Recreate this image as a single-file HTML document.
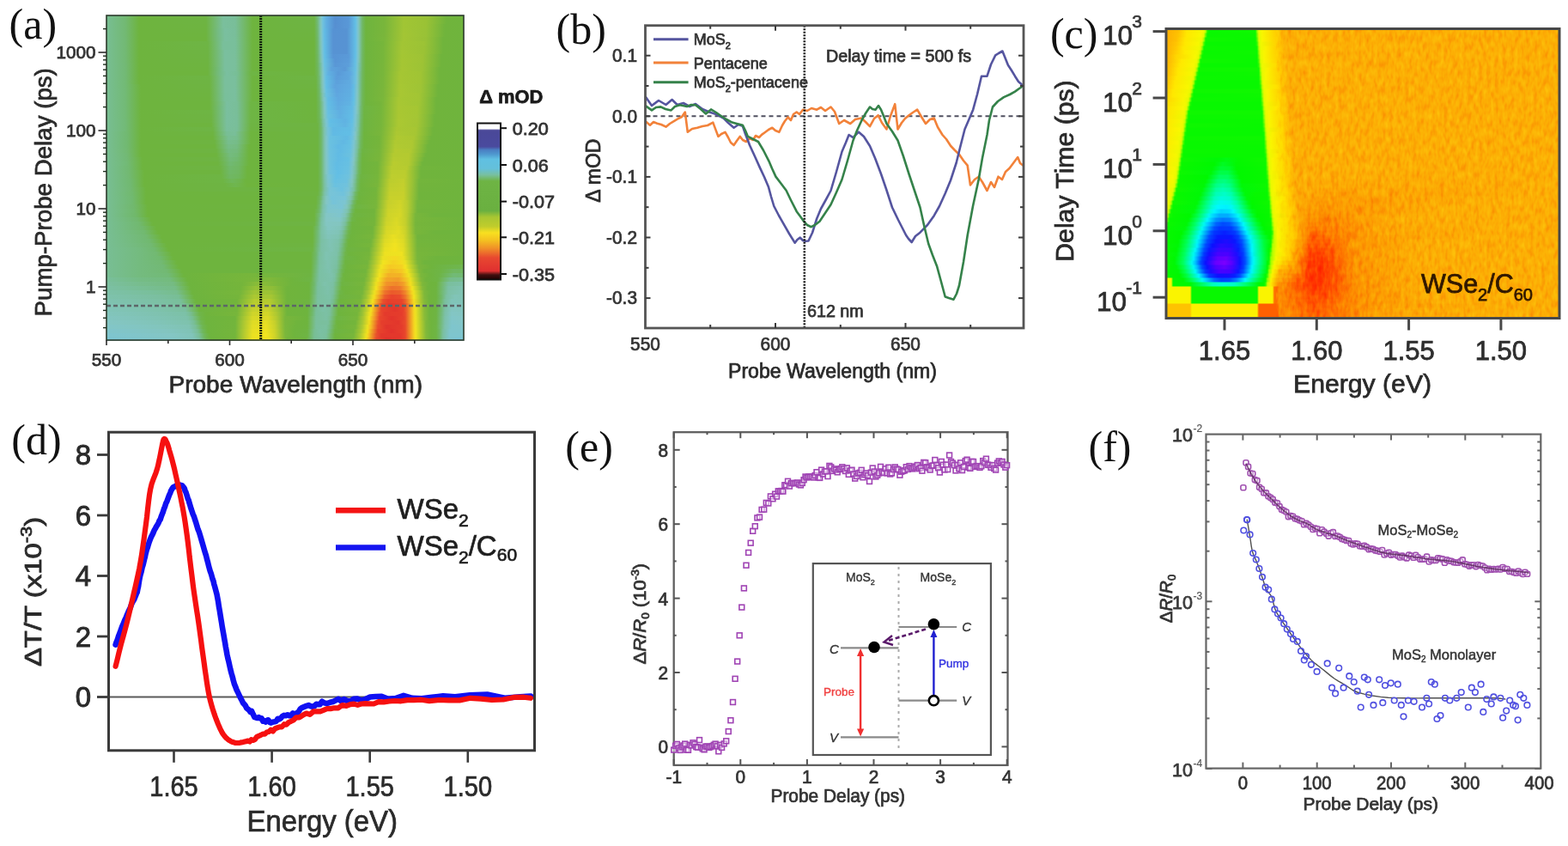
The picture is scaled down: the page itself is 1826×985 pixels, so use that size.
<!DOCTYPE html>
<html><head><meta charset="utf-8"><title>Figure</title>
<style>html,body{margin:0;padding:0;background:#fff;} svg{display:block;}</style></head>
<body><svg width="1826" height="985" viewBox="0 0 1826 985">
<rect x="0" y="0" width="1826" height="985" fill="#fff"/>
<defs><linearGradient id="ga0" x1="0" x2="1" y1="0" y2="0"><stop offset="0.0000" stop-color="#78be93"/><stop offset="0.0529" stop-color="#72b973"/><stop offset="0.0913" stop-color="#6eb43e"/><stop offset="0.2788" stop-color="#6eb443"/><stop offset="0.3269" stop-color="#7abf9e"/><stop offset="0.3606" stop-color="#79be99"/><stop offset="0.4087" stop-color="#6eb43e"/><stop offset="0.5817" stop-color="#6eb545"/><stop offset="0.5913" stop-color="#73ba7a"/><stop offset="0.6010" stop-color="#81c6c8"/><stop offset="0.6058" stop-color="#6dc2de"/><stop offset="0.6154" stop-color="#60aee1"/><stop offset="0.6394" stop-color="#558fd1"/><stop offset="0.6779" stop-color="#5998d7"/><stop offset="0.6971" stop-color="#62bfe5"/><stop offset="0.7019" stop-color="#78c4d7"/><stop offset="0.7067" stop-color="#81c4b9"/><stop offset="0.7163" stop-color="#70b865"/><stop offset="0.7260" stop-color="#6eb43e"/><stop offset="0.7788" stop-color="#78b63b"/><stop offset="0.8317" stop-color="#a0c434"/><stop offset="0.8990" stop-color="#97c136"/><stop offset="0.9519" stop-color="#70b43c"/><stop offset="1.0000" stop-color="#6fb43d"/></linearGradient>
<linearGradient id="ga1" x1="0" x2="1" y1="0" y2="0"><stop offset="0.0000" stop-color="#78be93"/><stop offset="0.0529" stop-color="#72b973"/><stop offset="0.0913" stop-color="#6eb43e"/><stop offset="0.2788" stop-color="#6eb442"/><stop offset="0.3269" stop-color="#7abf9d"/><stop offset="0.3606" stop-color="#79be99"/><stop offset="0.4087" stop-color="#6eb43e"/><stop offset="0.5817" stop-color="#6eb443"/><stop offset="0.5913" stop-color="#72ba77"/><stop offset="0.5962" stop-color="#7cc0a6"/><stop offset="0.6010" stop-color="#82c6c7"/><stop offset="0.6058" stop-color="#6fc2de"/><stop offset="0.6154" stop-color="#60afe1"/><stop offset="0.6394" stop-color="#558fd1"/><stop offset="0.6779" stop-color="#5998d7"/><stop offset="0.6971" stop-color="#62bfe5"/><stop offset="0.7019" stop-color="#78c4d8"/><stop offset="0.7067" stop-color="#81c4b9"/><stop offset="0.7163" stop-color="#70b865"/><stop offset="0.7260" stop-color="#6eb43e"/><stop offset="0.7788" stop-color="#79b63b"/><stop offset="0.8317" stop-color="#a1c534"/><stop offset="0.8942" stop-color="#9ac235"/><stop offset="0.9519" stop-color="#70b43c"/><stop offset="1.0000" stop-color="#6fb43d"/></linearGradient>
<linearGradient id="ga2" x1="0" x2="1" y1="0" y2="0"><stop offset="0.0000" stop-color="#78be93"/><stop offset="0.0529" stop-color="#72b973"/><stop offset="0.0913" stop-color="#6eb43e"/><stop offset="0.2788" stop-color="#6eb441"/><stop offset="0.3269" stop-color="#7abf9d"/><stop offset="0.3606" stop-color="#79be99"/><stop offset="0.4087" stop-color="#6eb43e"/><stop offset="0.5817" stop-color="#6eb442"/><stop offset="0.5913" stop-color="#72b974"/><stop offset="0.5962" stop-color="#7cc0a4"/><stop offset="0.6010" stop-color="#83c6c5"/><stop offset="0.6058" stop-color="#70c2dd"/><stop offset="0.6154" stop-color="#60afe1"/><stop offset="0.6394" stop-color="#568fd1"/><stop offset="0.6779" stop-color="#5998d7"/><stop offset="0.6971" stop-color="#62bfe5"/><stop offset="0.7019" stop-color="#78c4d8"/><stop offset="0.7067" stop-color="#81c4b9"/><stop offset="0.7163" stop-color="#70b865"/><stop offset="0.7260" stop-color="#6eb43e"/><stop offset="0.7788" stop-color="#79b63b"/><stop offset="0.8317" stop-color="#a1c534"/><stop offset="0.8942" stop-color="#9ac235"/><stop offset="0.9471" stop-color="#70b43c"/><stop offset="1.0000" stop-color="#6fb43d"/></linearGradient>
<linearGradient id="ga3" x1="0" x2="1" y1="0" y2="0"><stop offset="0.0000" stop-color="#78be93"/><stop offset="0.0529" stop-color="#72b973"/><stop offset="0.0913" stop-color="#6eb43e"/><stop offset="0.2788" stop-color="#6eb440"/><stop offset="0.3125" stop-color="#75bb84"/><stop offset="0.3317" stop-color="#7abfa0"/><stop offset="0.3606" stop-color="#79be9a"/><stop offset="0.4087" stop-color="#6eb43e"/><stop offset="0.5817" stop-color="#6eb441"/><stop offset="0.5913" stop-color="#71b971"/><stop offset="0.5962" stop-color="#7bc0a2"/><stop offset="0.6010" stop-color="#84c6c3"/><stop offset="0.6058" stop-color="#71c2dc"/><stop offset="0.6106" stop-color="#61bbe4"/><stop offset="0.6346" stop-color="#5692d3"/><stop offset="0.6731" stop-color="#5793d3"/><stop offset="0.6971" stop-color="#62bee5"/><stop offset="0.7019" stop-color="#78c4d8"/><stop offset="0.7067" stop-color="#81c4b9"/><stop offset="0.7163" stop-color="#70b865"/><stop offset="0.7260" stop-color="#6eb43e"/><stop offset="0.7788" stop-color="#79b63b"/><stop offset="0.8317" stop-color="#a2c534"/><stop offset="0.8942" stop-color="#99c236"/><stop offset="0.9471" stop-color="#70b43c"/><stop offset="1.0000" stop-color="#6fb43d"/></linearGradient>
<linearGradient id="ga4" x1="0" x2="1" y1="0" y2="0"><stop offset="0.0000" stop-color="#78be93"/><stop offset="0.0529" stop-color="#72b973"/><stop offset="0.0913" stop-color="#6eb43e"/><stop offset="0.2788" stop-color="#6eb43f"/><stop offset="0.3125" stop-color="#75bb83"/><stop offset="0.3317" stop-color="#7abf9f"/><stop offset="0.3606" stop-color="#79be9a"/><stop offset="0.4087" stop-color="#6eb43e"/><stop offset="0.5817" stop-color="#6eb440"/><stop offset="0.5913" stop-color="#71b96e"/><stop offset="0.5962" stop-color="#7bbfa0"/><stop offset="0.6010" stop-color="#83c6c2"/><stop offset="0.6058" stop-color="#72c3db"/><stop offset="0.6106" stop-color="#62bbe4"/><stop offset="0.6346" stop-color="#5792d3"/><stop offset="0.6731" stop-color="#5793d3"/><stop offset="0.6971" stop-color="#62bee5"/><stop offset="0.7019" stop-color="#78c4d8"/><stop offset="0.7067" stop-color="#81c4b9"/><stop offset="0.7163" stop-color="#70b865"/><stop offset="0.7260" stop-color="#6eb43e"/><stop offset="0.7788" stop-color="#7ab63b"/><stop offset="0.8317" stop-color="#a3c534"/><stop offset="0.8942" stop-color="#99c236"/><stop offset="0.9471" stop-color="#70b43c"/><stop offset="1.0000" stop-color="#6fb43d"/></linearGradient>
<linearGradient id="ga5" x1="0" x2="1" y1="0" y2="0"><stop offset="0.0000" stop-color="#78be93"/><stop offset="0.0529" stop-color="#72b974"/><stop offset="0.0913" stop-color="#6eb43e"/><stop offset="0.2788" stop-color="#6eb43e"/><stop offset="0.3125" stop-color="#75bb81"/><stop offset="0.3317" stop-color="#7abf9f"/><stop offset="0.3606" stop-color="#79bf9a"/><stop offset="0.4087" stop-color="#6eb43e"/><stop offset="0.5817" stop-color="#6eb43f"/><stop offset="0.5913" stop-color="#70b86b"/><stop offset="0.5962" stop-color="#7abf9f"/><stop offset="0.6010" stop-color="#83c5c0"/><stop offset="0.6058" stop-color="#73c3db"/><stop offset="0.6106" stop-color="#62bce4"/><stop offset="0.6346" stop-color="#5792d3"/><stop offset="0.6731" stop-color="#5793d3"/><stop offset="0.6971" stop-color="#62bee5"/><stop offset="0.7019" stop-color="#78c4d8"/><stop offset="0.7067" stop-color="#81c4b9"/><stop offset="0.7163" stop-color="#70b865"/><stop offset="0.7260" stop-color="#6eb43e"/><stop offset="0.7788" stop-color="#7ab73b"/><stop offset="0.8317" stop-color="#a3c534"/><stop offset="0.8942" stop-color="#98c136"/><stop offset="0.9423" stop-color="#70b43c"/><stop offset="1.0000" stop-color="#6fb43d"/></linearGradient>
<linearGradient id="ga6" x1="0" x2="1" y1="0" y2="0"><stop offset="0.0000" stop-color="#78be93"/><stop offset="0.0529" stop-color="#72b974"/><stop offset="0.0913" stop-color="#6eb43e"/><stop offset="0.2837" stop-color="#6eb545"/><stop offset="0.3269" stop-color="#79bf9b"/><stop offset="0.3606" stop-color="#79bf9b"/><stop offset="0.4087" stop-color="#6eb43e"/><stop offset="0.5817" stop-color="#6eb43e"/><stop offset="0.5913" stop-color="#70b869"/><stop offset="0.5962" stop-color="#7abf9c"/><stop offset="0.6010" stop-color="#82c5be"/><stop offset="0.6058" stop-color="#75c3da"/><stop offset="0.6106" stop-color="#62bde4"/><stop offset="0.6346" stop-color="#5792d3"/><stop offset="0.6731" stop-color="#5793d3"/><stop offset="0.6971" stop-color="#62bee5"/><stop offset="0.7019" stop-color="#78c4d8"/><stop offset="0.7067" stop-color="#81c4b9"/><stop offset="0.7163" stop-color="#70b865"/><stop offset="0.7260" stop-color="#6eb43e"/><stop offset="0.7740" stop-color="#76b63b"/><stop offset="0.8269" stop-color="#a2c534"/><stop offset="0.8894" stop-color="#9cc335"/><stop offset="0.9423" stop-color="#70b43c"/><stop offset="1.0000" stop-color="#6fb43d"/></linearGradient>
<linearGradient id="ga7" x1="0" x2="1" y1="0" y2="0"><stop offset="0.0000" stop-color="#78be93"/><stop offset="0.0529" stop-color="#72b974"/><stop offset="0.0913" stop-color="#6eb43e"/><stop offset="0.2837" stop-color="#6eb544"/><stop offset="0.3269" stop-color="#79bf9b"/><stop offset="0.3606" stop-color="#79bf9b"/><stop offset="0.4087" stop-color="#6eb43e"/><stop offset="0.5817" stop-color="#6eb43e"/><stop offset="0.5913" stop-color="#70b868"/><stop offset="0.5962" stop-color="#79be99"/><stop offset="0.6010" stop-color="#82c5bc"/><stop offset="0.6058" stop-color="#76c4d9"/><stop offset="0.6106" stop-color="#62bde5"/><stop offset="0.6346" stop-color="#5792d3"/><stop offset="0.6731" stop-color="#5793d3"/><stop offset="0.6971" stop-color="#62bee5"/><stop offset="0.7019" stop-color="#78c4d8"/><stop offset="0.7067" stop-color="#81c4b9"/><stop offset="0.7163" stop-color="#70b865"/><stop offset="0.7260" stop-color="#6eb43e"/><stop offset="0.7740" stop-color="#77b63b"/><stop offset="0.8269" stop-color="#a3c534"/><stop offset="0.8894" stop-color="#9bc235"/><stop offset="0.9423" stop-color="#70b43c"/><stop offset="1.0000" stop-color="#6fb43d"/></linearGradient>
<linearGradient id="ga8" x1="0" x2="1" y1="0" y2="0"><stop offset="0.0000" stop-color="#78be93"/><stop offset="0.0529" stop-color="#72b974"/><stop offset="0.0913" stop-color="#6eb43e"/><stop offset="0.2837" stop-color="#6eb443"/><stop offset="0.3317" stop-color="#7abf9f"/><stop offset="0.3606" stop-color="#79bf9b"/><stop offset="0.4087" stop-color="#6eb43e"/><stop offset="0.5817" stop-color="#6eb43e"/><stop offset="0.5913" stop-color="#70b866"/><stop offset="0.6010" stop-color="#81c4ba"/><stop offset="0.6058" stop-color="#77c4d8"/><stop offset="0.6106" stop-color="#62bee5"/><stop offset="0.6346" stop-color="#5793d3"/><stop offset="0.6731" stop-color="#5793d3"/><stop offset="0.6971" stop-color="#62bee5"/><stop offset="0.7019" stop-color="#78c4d8"/><stop offset="0.7067" stop-color="#81c4b9"/><stop offset="0.7163" stop-color="#70b865"/><stop offset="0.7260" stop-color="#6eb43e"/><stop offset="0.7740" stop-color="#77b63b"/><stop offset="0.8269" stop-color="#a4c634"/><stop offset="0.8894" stop-color="#9bc235"/><stop offset="0.9423" stop-color="#70b43c"/><stop offset="1.0000" stop-color="#6fb43d"/></linearGradient>
<linearGradient id="ga9" x1="0" x2="1" y1="0" y2="0"><stop offset="0.0000" stop-color="#78be93"/><stop offset="0.0529" stop-color="#72b974"/><stop offset="0.0913" stop-color="#6eb43e"/><stop offset="0.2837" stop-color="#6eb442"/><stop offset="0.3317" stop-color="#7abf9f"/><stop offset="0.3606" stop-color="#7abf9b"/><stop offset="0.4087" stop-color="#6eb43e"/><stop offset="0.5817" stop-color="#6eb43e"/><stop offset="0.5913" stop-color="#70b763"/><stop offset="0.6010" stop-color="#80c3b6"/><stop offset="0.6058" stop-color="#7ac4d5"/><stop offset="0.6106" stop-color="#63bfe4"/><stop offset="0.6346" stop-color="#5895d5"/><stop offset="0.6779" stop-color="#5a9ad8"/><stop offset="0.6971" stop-color="#62bfe5"/><stop offset="0.7019" stop-color="#79c4d6"/><stop offset="0.7067" stop-color="#81c4b8"/><stop offset="0.7163" stop-color="#70b764"/><stop offset="0.7260" stop-color="#6eb43e"/><stop offset="0.7740" stop-color="#77b63b"/><stop offset="0.8269" stop-color="#a4c633"/><stop offset="0.8846" stop-color="#9ec335"/><stop offset="0.9375" stop-color="#70b43c"/><stop offset="1.0000" stop-color="#6fb43d"/></linearGradient>
<linearGradient id="ga10" x1="0" x2="1" y1="0" y2="0"><stop offset="0.0000" stop-color="#78be93"/><stop offset="0.0529" stop-color="#72b974"/><stop offset="0.0913" stop-color="#6eb43e"/><stop offset="0.2837" stop-color="#6eb441"/><stop offset="0.3317" stop-color="#7abf9e"/><stop offset="0.3606" stop-color="#7abf9c"/><stop offset="0.4087" stop-color="#6eb43e"/><stop offset="0.5817" stop-color="#6eb43e"/><stop offset="0.5913" stop-color="#70b761"/><stop offset="0.6010" stop-color="#80c3b3"/><stop offset="0.6058" stop-color="#7cc5d2"/><stop offset="0.6106" stop-color="#66c0e3"/><stop offset="0.6394" stop-color="#5895d5"/><stop offset="0.6779" stop-color="#5b9cd9"/><stop offset="0.6971" stop-color="#64bfe4"/><stop offset="0.7019" stop-color="#7ac4d5"/><stop offset="0.7067" stop-color="#80c3b6"/><stop offset="0.7163" stop-color="#70b763"/><stop offset="0.7260" stop-color="#6eb43e"/><stop offset="0.7740" stop-color="#77b63b"/><stop offset="0.8269" stop-color="#a5c633"/><stop offset="0.8846" stop-color="#9ec335"/><stop offset="0.9375" stop-color="#70b43c"/><stop offset="1.0000" stop-color="#6fb43d"/></linearGradient>
<linearGradient id="ga11" x1="0" x2="1" y1="0" y2="0"><stop offset="0.0000" stop-color="#78be93"/><stop offset="0.0529" stop-color="#72b975"/><stop offset="0.0913" stop-color="#6eb43e"/><stop offset="0.2837" stop-color="#6eb440"/><stop offset="0.3317" stop-color="#7abf9e"/><stop offset="0.3606" stop-color="#7abf9c"/><stop offset="0.4087" stop-color="#6eb43e"/><stop offset="0.5817" stop-color="#6eb43e"/><stop offset="0.5913" stop-color="#6fb75f"/><stop offset="0.6058" stop-color="#7ec5cf"/><stop offset="0.6106" stop-color="#69c1e1"/><stop offset="0.6394" stop-color="#5997d6"/><stop offset="0.6779" stop-color="#5c9eda"/><stop offset="0.6971" stop-color="#66c0e3"/><stop offset="0.7019" stop-color="#7bc5d3"/><stop offset="0.7115" stop-color="#77bd8d"/><stop offset="0.7163" stop-color="#70b762"/><stop offset="0.7260" stop-color="#6eb43e"/><stop offset="0.7740" stop-color="#78b63b"/><stop offset="0.8269" stop-color="#a5c633"/><stop offset="0.8846" stop-color="#9dc335"/><stop offset="0.9375" stop-color="#70b43c"/><stop offset="1.0000" stop-color="#6fb43d"/></linearGradient>
<linearGradient id="ga12" x1="0" x2="1" y1="0" y2="0"><stop offset="0.0000" stop-color="#78be93"/><stop offset="0.0529" stop-color="#72b975"/><stop offset="0.0913" stop-color="#6eb43e"/><stop offset="0.2837" stop-color="#6eb43f"/><stop offset="0.3125" stop-color="#73ba78"/><stop offset="0.3317" stop-color="#7abf9e"/><stop offset="0.3606" stop-color="#7abf9c"/><stop offset="0.4087" stop-color="#6eb43e"/><stop offset="0.5817" stop-color="#6eb43e"/><stop offset="0.5913" stop-color="#6fb75c"/><stop offset="0.6058" stop-color="#80c5cb"/><stop offset="0.6106" stop-color="#6cc1df"/><stop offset="0.6298" stop-color="#5da2dc"/><stop offset="0.6683" stop-color="#5a99d7"/><stop offset="0.6971" stop-color="#67c0e2"/><stop offset="0.7019" stop-color="#7cc5d1"/><stop offset="0.7115" stop-color="#76bc8b"/><stop offset="0.7163" stop-color="#70b761"/><stop offset="0.7260" stop-color="#6eb43e"/><stop offset="0.7740" stop-color="#78b63b"/><stop offset="0.8269" stop-color="#a6c633"/><stop offset="0.8846" stop-color="#9dc335"/><stop offset="0.9327" stop-color="#70b43c"/><stop offset="1.0000" stop-color="#6fb43d"/></linearGradient>
<linearGradient id="ga13" x1="0" x2="1" y1="0" y2="0"><stop offset="0.0000" stop-color="#78be93"/><stop offset="0.0529" stop-color="#72b975"/><stop offset="0.0913" stop-color="#6eb43e"/><stop offset="0.2837" stop-color="#6eb43e"/><stop offset="0.3173" stop-color="#75bb84"/><stop offset="0.3365" stop-color="#7abfa0"/><stop offset="0.3654" stop-color="#78be96"/><stop offset="0.4038" stop-color="#6eb544"/><stop offset="0.5817" stop-color="#6eb43e"/><stop offset="0.5913" stop-color="#6fb75a"/><stop offset="0.6058" stop-color="#82c6c8"/><stop offset="0.6106" stop-color="#6fc2dd"/><stop offset="0.6202" stop-color="#60b1e2"/><stop offset="0.6490" stop-color="#5a9ad8"/><stop offset="0.6827" stop-color="#5fa8e0"/><stop offset="0.6971" stop-color="#69c1e1"/><stop offset="0.7019" stop-color="#7dc5cf"/><stop offset="0.7163" stop-color="#70b760"/><stop offset="0.7260" stop-color="#6eb43e"/><stop offset="0.7740" stop-color="#78b63b"/><stop offset="0.8221" stop-color="#a5c633"/><stop offset="0.8798" stop-color="#a0c434"/><stop offset="0.9327" stop-color="#70b43c"/><stop offset="1.0000" stop-color="#6fb43d"/></linearGradient>
<linearGradient id="ga14" x1="0" x2="1" y1="0" y2="0"><stop offset="0.0000" stop-color="#78be93"/><stop offset="0.0529" stop-color="#72b975"/><stop offset="0.0913" stop-color="#6eb43e"/><stop offset="0.2885" stop-color="#6eb544"/><stop offset="0.3317" stop-color="#7abf9d"/><stop offset="0.3606" stop-color="#7abf9d"/><stop offset="0.4087" stop-color="#6eb43e"/><stop offset="0.5865" stop-color="#6eb544"/><stop offset="0.5962" stop-color="#72ba77"/><stop offset="0.6010" stop-color="#7cc0a5"/><stop offset="0.6058" stop-color="#84c6c5"/><stop offset="0.6106" stop-color="#72c3dc"/><stop offset="0.6154" stop-color="#62bce4"/><stop offset="0.6442" stop-color="#5b9dda"/><stop offset="0.6779" stop-color="#5ea5de"/><stop offset="0.6971" stop-color="#6bc1e0"/><stop offset="0.7019" stop-color="#7ec5ce"/><stop offset="0.7163" stop-color="#70b75f"/><stop offset="0.7260" stop-color="#6eb43e"/><stop offset="0.7740" stop-color="#79b63b"/><stop offset="0.8221" stop-color="#a6c633"/><stop offset="0.8798" stop-color="#a0c434"/><stop offset="0.9327" stop-color="#70b43c"/><stop offset="1.0000" stop-color="#6fb43d"/></linearGradient>
<linearGradient id="ga15" x1="0" x2="1" y1="0" y2="0"><stop offset="0.0000" stop-color="#78be93"/><stop offset="0.0529" stop-color="#72ba75"/><stop offset="0.0913" stop-color="#6eb43e"/><stop offset="0.2885" stop-color="#6eb443"/><stop offset="0.3317" stop-color="#7abf9d"/><stop offset="0.3606" stop-color="#7abf9d"/><stop offset="0.4087" stop-color="#6eb43e"/><stop offset="0.5865" stop-color="#6eb442"/><stop offset="0.5962" stop-color="#72b972"/><stop offset="0.6010" stop-color="#7bc0a2"/><stop offset="0.6058" stop-color="#83c5c1"/><stop offset="0.6106" stop-color="#74c3da"/><stop offset="0.6154" stop-color="#62bee5"/><stop offset="0.6442" stop-color="#5ca0db"/><stop offset="0.6827" stop-color="#60abe0"/><stop offset="0.6971" stop-color="#6dc1df"/><stop offset="0.7019" stop-color="#7fc5cc"/><stop offset="0.7163" stop-color="#6fb75e"/><stop offset="0.7260" stop-color="#6eb43e"/><stop offset="0.7740" stop-color="#79b63b"/><stop offset="0.8221" stop-color="#a6c633"/><stop offset="0.8798" stop-color="#a0c434"/><stop offset="0.9327" stop-color="#70b43c"/><stop offset="1.0000" stop-color="#6fb43d"/></linearGradient>
<linearGradient id="ga16" x1="0" x2="1" y1="0" y2="0"><stop offset="0.0000" stop-color="#78be93"/><stop offset="0.0529" stop-color="#72ba75"/><stop offset="0.0962" stop-color="#6eb43e"/><stop offset="0.2885" stop-color="#6eb442"/><stop offset="0.3317" stop-color="#7abf9c"/><stop offset="0.3606" stop-color="#7abf9d"/><stop offset="0.4087" stop-color="#6eb43e"/><stop offset="0.5865" stop-color="#6eb441"/><stop offset="0.5962" stop-color="#71b86e"/><stop offset="0.6010" stop-color="#7abf9f"/><stop offset="0.6058" stop-color="#82c5be"/><stop offset="0.6106" stop-color="#77c4d8"/><stop offset="0.6154" stop-color="#63bfe4"/><stop offset="0.6394" stop-color="#5ea3dd"/><stop offset="0.6827" stop-color="#60ace1"/><stop offset="0.6923" stop-color="#62bbe4"/><stop offset="0.7019" stop-color="#80c5ca"/><stop offset="0.7163" stop-color="#6fb75d"/><stop offset="0.7260" stop-color="#6eb43e"/><stop offset="0.7740" stop-color="#79b63b"/><stop offset="0.8221" stop-color="#a7c733"/><stop offset="0.8798" stop-color="#9fc435"/><stop offset="0.9279" stop-color="#70b43c"/><stop offset="1.0000" stop-color="#6fb43d"/></linearGradient>
<linearGradient id="ga17" x1="0" x2="1" y1="0" y2="0"><stop offset="0.0000" stop-color="#78be93"/><stop offset="0.0529" stop-color="#72ba76"/><stop offset="0.0962" stop-color="#6eb43e"/><stop offset="0.2885" stop-color="#6eb441"/><stop offset="0.3317" stop-color="#7abf9c"/><stop offset="0.3606" stop-color="#7abf9e"/><stop offset="0.4087" stop-color="#6eb43e"/><stop offset="0.5865" stop-color="#6eb43f"/><stop offset="0.5962" stop-color="#70b869"/><stop offset="0.6010" stop-color="#79be9a"/><stop offset="0.6058" stop-color="#81c4ba"/><stop offset="0.6106" stop-color="#7ac4d5"/><stop offset="0.6154" stop-color="#66c0e2"/><stop offset="0.6442" stop-color="#5ea4de"/><stop offset="0.6827" stop-color="#60aee1"/><stop offset="0.6923" stop-color="#62bde4"/><stop offset="0.7019" stop-color="#81c6c8"/><stop offset="0.7163" stop-color="#6fb75c"/><stop offset="0.7260" stop-color="#6eb43e"/><stop offset="0.7740" stop-color="#7ab63b"/><stop offset="0.8221" stop-color="#a8c733"/><stop offset="0.8798" stop-color="#9fc435"/><stop offset="0.9279" stop-color="#70b43c"/><stop offset="1.0000" stop-color="#6fb43d"/></linearGradient>
<linearGradient id="ga18" x1="0" x2="1" y1="0" y2="0"><stop offset="0.0000" stop-color="#78be93"/><stop offset="0.0529" stop-color="#72ba76"/><stop offset="0.0962" stop-color="#6eb43e"/><stop offset="0.2885" stop-color="#6eb440"/><stop offset="0.3317" stop-color="#79bf9b"/><stop offset="0.3606" stop-color="#7abf9e"/><stop offset="0.4087" stop-color="#6eb43e"/><stop offset="0.5865" stop-color="#6eb43e"/><stop offset="0.5962" stop-color="#70b867"/><stop offset="0.6058" stop-color="#80c3b6"/><stop offset="0.6154" stop-color="#69c1e1"/><stop offset="0.6442" stop-color="#5fa7df"/><stop offset="0.6827" stop-color="#60afe1"/><stop offset="0.6923" stop-color="#62bee5"/><stop offset="0.7019" stop-color="#83c6c6"/><stop offset="0.7163" stop-color="#6fb75b"/><stop offset="0.7260" stop-color="#6eb43e"/><stop offset="0.7740" stop-color="#7ab63b"/><stop offset="0.8221" stop-color="#a8c733"/><stop offset="0.8750" stop-color="#a2c534"/><stop offset="0.9279" stop-color="#70b43c"/><stop offset="1.0000" stop-color="#6fb43d"/></linearGradient>
<linearGradient id="ga19" x1="0" x2="1" y1="0" y2="0"><stop offset="0.0000" stop-color="#78be93"/><stop offset="0.0529" stop-color="#72ba76"/><stop offset="0.0962" stop-color="#6eb43e"/><stop offset="0.2885" stop-color="#6eb43f"/><stop offset="0.3317" stop-color="#79bf9b"/><stop offset="0.3606" stop-color="#7abf9e"/><stop offset="0.4087" stop-color="#6eb43e"/><stop offset="0.5865" stop-color="#6eb43e"/><stop offset="0.5962" stop-color="#70b764"/><stop offset="0.6058" stop-color="#7fc3b2"/><stop offset="0.6106" stop-color="#7ec5ce"/><stop offset="0.6202" stop-color="#62bce4"/><stop offset="0.6490" stop-color="#5fa8e0"/><stop offset="0.6827" stop-color="#60b1e2"/><stop offset="0.6923" stop-color="#62bfe5"/><stop offset="0.7019" stop-color="#84c6c4"/><stop offset="0.7163" stop-color="#6fb75a"/><stop offset="0.7260" stop-color="#6eb43e"/><stop offset="0.7740" stop-color="#7ab73b"/><stop offset="0.8173" stop-color="#a7c733"/><stop offset="0.8750" stop-color="#a2c534"/><stop offset="0.9231" stop-color="#70b43c"/><stop offset="1.0000" stop-color="#6fb43d"/></linearGradient>
<linearGradient id="ga20" x1="0" x2="1" y1="0" y2="0"><stop offset="0.0000" stop-color="#78be93"/><stop offset="0.0529" stop-color="#72ba76"/><stop offset="0.0962" stop-color="#6eb43e"/><stop offset="0.2885" stop-color="#6eb43e"/><stop offset="0.3365" stop-color="#7abf9f"/><stop offset="0.3654" stop-color="#79be99"/><stop offset="0.4038" stop-color="#6eb544"/><stop offset="0.5865" stop-color="#6eb43e"/><stop offset="0.5962" stop-color="#70b761"/><stop offset="0.6106" stop-color="#80c5ca"/><stop offset="0.6202" stop-color="#62bee5"/><stop offset="0.6490" stop-color="#5faae0"/><stop offset="0.6827" stop-color="#61b3e2"/><stop offset="0.6923" stop-color="#65c0e3"/><stop offset="0.7019" stop-color="#83c6c2"/><stop offset="0.7067" stop-color="#7cc0a4"/><stop offset="0.7163" stop-color="#6fb659"/><stop offset="0.7260" stop-color="#6eb43e"/><stop offset="0.7692" stop-color="#76b53b"/><stop offset="0.8173" stop-color="#a8c733"/><stop offset="0.8750" stop-color="#a1c534"/><stop offset="0.9231" stop-color="#70b43c"/><stop offset="1.0000" stop-color="#6fb43d"/></linearGradient>
<linearGradient id="ga21" x1="0" x2="1" y1="0" y2="0"><stop offset="0.0000" stop-color="#78be93"/><stop offset="0.0529" stop-color="#72ba76"/><stop offset="0.0962" stop-color="#6eb43e"/><stop offset="0.2885" stop-color="#6eb43e"/><stop offset="0.3173" stop-color="#73ba79"/><stop offset="0.3365" stop-color="#7abf9f"/><stop offset="0.3654" stop-color="#79be99"/><stop offset="0.4038" stop-color="#6eb544"/><stop offset="0.5865" stop-color="#6eb43e"/><stop offset="0.5962" stop-color="#6fb75f"/><stop offset="0.6106" stop-color="#82c6c7"/><stop offset="0.6202" stop-color="#63bfe4"/><stop offset="0.6490" stop-color="#60ace0"/><stop offset="0.6875" stop-color="#61bae4"/><stop offset="0.6971" stop-color="#78c4d7"/><stop offset="0.7019" stop-color="#83c5bf"/><stop offset="0.7067" stop-color="#7bc0a2"/><stop offset="0.7115" stop-color="#72ba75"/><stop offset="0.7212" stop-color="#6eb544"/><stop offset="0.7692" stop-color="#76b63b"/><stop offset="0.8173" stop-color="#a9c733"/><stop offset="0.8702" stop-color="#a5c633"/><stop offset="0.9231" stop-color="#70b43c"/><stop offset="1.0000" stop-color="#6fb43d"/></linearGradient>
<linearGradient id="ga22" x1="0" x2="1" y1="0" y2="0"><stop offset="0.0000" stop-color="#78be93"/><stop offset="0.0529" stop-color="#72ba76"/><stop offset="0.0962" stop-color="#6eb43e"/><stop offset="0.2933" stop-color="#6eb544"/><stop offset="0.3365" stop-color="#7abf9e"/><stop offset="0.3654" stop-color="#79be99"/><stop offset="0.4038" stop-color="#6eb544"/><stop offset="0.5865" stop-color="#6eb43e"/><stop offset="0.5962" stop-color="#6fb75c"/><stop offset="0.6106" stop-color="#84c6c3"/><stop offset="0.6202" stop-color="#67c0e2"/><stop offset="0.6538" stop-color="#60aee1"/><stop offset="0.6875" stop-color="#62bce4"/><stop offset="0.6971" stop-color="#7ac4d5"/><stop offset="0.7019" stop-color="#82c5bc"/><stop offset="0.7067" stop-color="#7bbfa0"/><stop offset="0.7115" stop-color="#72b973"/><stop offset="0.7212" stop-color="#6eb443"/><stop offset="0.7692" stop-color="#76b63b"/><stop offset="0.8173" stop-color="#a9c732"/><stop offset="0.8702" stop-color="#a4c633"/><stop offset="0.9231" stop-color="#70b43c"/><stop offset="1.0000" stop-color="#6fb43d"/></linearGradient>
<linearGradient id="ga23" x1="0" x2="1" y1="0" y2="0"><stop offset="0.0000" stop-color="#78be93"/><stop offset="0.0529" stop-color="#72ba76"/><stop offset="0.0962" stop-color="#6eb43e"/><stop offset="0.2933" stop-color="#6eb443"/><stop offset="0.3365" stop-color="#7abf9e"/><stop offset="0.3654" stop-color="#79be9a"/><stop offset="0.4038" stop-color="#6eb544"/><stop offset="0.5865" stop-color="#6eb43e"/><stop offset="0.5962" stop-color="#6fb75a"/><stop offset="0.6106" stop-color="#83c5be"/><stop offset="0.6202" stop-color="#6ac1e0"/><stop offset="0.6538" stop-color="#60b0e1"/><stop offset="0.6875" stop-color="#62bde5"/><stop offset="0.6971" stop-color="#7cc5d2"/><stop offset="0.7067" stop-color="#7abf9e"/><stop offset="0.7115" stop-color="#71b970"/><stop offset="0.7212" stop-color="#6eb442"/><stop offset="0.7692" stop-color="#77b63b"/><stop offset="0.8173" stop-color="#aac732"/><stop offset="0.8702" stop-color="#a4c634"/><stop offset="0.9183" stop-color="#70b43c"/><stop offset="1.0000" stop-color="#6fb43d"/></linearGradient>
<linearGradient id="ga24" x1="0" x2="1" y1="0" y2="0"><stop offset="0.0000" stop-color="#78be93"/><stop offset="0.0529" stop-color="#72ba77"/><stop offset="0.0962" stop-color="#6eb43e"/><stop offset="0.2933" stop-color="#6eb442"/><stop offset="0.3365" stop-color="#7abf9e"/><stop offset="0.3654" stop-color="#79be9a"/><stop offset="0.4038" stop-color="#6eb544"/><stop offset="0.5865" stop-color="#6eb43e"/><stop offset="0.5962" stop-color="#6fb657"/><stop offset="0.6010" stop-color="#72b972"/><stop offset="0.6058" stop-color="#7abf9f"/><stop offset="0.6154" stop-color="#7cc5d2"/><stop offset="0.6250" stop-color="#62bee5"/><stop offset="0.6683" stop-color="#60b2e2"/><stop offset="0.6875" stop-color="#62bfe5"/><stop offset="0.6971" stop-color="#7dc5cf"/><stop offset="0.7067" stop-color="#79bf9b"/><stop offset="0.7115" stop-color="#71b86d"/><stop offset="0.7212" stop-color="#6eb441"/><stop offset="0.7692" stop-color="#77b63b"/><stop offset="0.8173" stop-color="#abc832"/><stop offset="0.8702" stop-color="#a4c534"/><stop offset="0.9183" stop-color="#70b43c"/><stop offset="1.0000" stop-color="#6fb43d"/></linearGradient>
<linearGradient id="ga25" x1="0" x2="1" y1="0" y2="0"><stop offset="0.0000" stop-color="#78be93"/><stop offset="0.0529" stop-color="#72ba77"/><stop offset="0.0962" stop-color="#6eb43e"/><stop offset="0.2933" stop-color="#6eb43f"/><stop offset="0.3365" stop-color="#7abf9d"/><stop offset="0.3654" stop-color="#79be9a"/><stop offset="0.4038" stop-color="#6eb443"/><stop offset="0.5913" stop-color="#6eb442"/><stop offset="0.6010" stop-color="#71b86d"/><stop offset="0.6058" stop-color="#79be99"/><stop offset="0.6154" stop-color="#7ec5ce"/><stop offset="0.6250" stop-color="#64bfe4"/><stop offset="0.6683" stop-color="#61b4e2"/><stop offset="0.6875" stop-color="#65c0e3"/><stop offset="0.6971" stop-color="#7fc5cd"/><stop offset="0.7067" stop-color="#79be97"/><stop offset="0.7115" stop-color="#70b86a"/><stop offset="0.7212" stop-color="#6eb441"/><stop offset="0.7692" stop-color="#77b63b"/><stop offset="0.8173" stop-color="#abc832"/><stop offset="0.8702" stop-color="#a3c534"/><stop offset="0.9183" stop-color="#70b43c"/><stop offset="1.0000" stop-color="#6fb43d"/></linearGradient>
<linearGradient id="ga26" x1="0" x2="1" y1="0" y2="0"><stop offset="0.0000" stop-color="#78be93"/><stop offset="0.0529" stop-color="#72ba77"/><stop offset="0.0962" stop-color="#6eb43e"/><stop offset="0.2981" stop-color="#6eb545"/><stop offset="0.3365" stop-color="#7abf9c"/><stop offset="0.3654" stop-color="#79be99"/><stop offset="0.4038" stop-color="#6eb441"/><stop offset="0.5913" stop-color="#6eb441"/><stop offset="0.6010" stop-color="#70b869"/><stop offset="0.6106" stop-color="#7fc3b2"/><stop offset="0.6202" stop-color="#74c3da"/><stop offset="0.6346" stop-color="#61b9e4"/><stop offset="0.6827" stop-color="#62bde4"/><stop offset="0.6923" stop-color="#74c3da"/><stop offset="0.7019" stop-color="#7fc3b2"/><stop offset="0.7115" stop-color="#70b868"/><stop offset="0.7212" stop-color="#6eb440"/><stop offset="0.7692" stop-color="#78b63b"/><stop offset="0.8125" stop-color="#aac732"/><stop offset="0.8654" stop-color="#a7c633"/><stop offset="0.9135" stop-color="#70b43c"/><stop offset="1.0000" stop-color="#6fb43d"/></linearGradient>
<linearGradient id="ga27" x1="0" x2="1" y1="0" y2="0"><stop offset="0.0000" stop-color="#78be93"/><stop offset="0.0577" stop-color="#71b971"/><stop offset="0.0962" stop-color="#6eb43e"/><stop offset="0.2981" stop-color="#6eb441"/><stop offset="0.3365" stop-color="#78be95"/><stop offset="0.3606" stop-color="#79be99"/><stop offset="0.4038" stop-color="#6eb43e"/><stop offset="0.5913" stop-color="#6eb440"/><stop offset="0.6010" stop-color="#70b868"/><stop offset="0.6106" stop-color="#7fc3b2"/><stop offset="0.6202" stop-color="#75c3da"/><stop offset="0.6346" stop-color="#61bae4"/><stop offset="0.6827" stop-color="#62bee5"/><stop offset="0.6923" stop-color="#77c4d9"/><stop offset="0.6971" stop-color="#83c6c6"/><stop offset="0.7067" stop-color="#76bd8c"/><stop offset="0.7115" stop-color="#70b865"/><stop offset="0.7212" stop-color="#6eb43e"/><stop offset="0.7692" stop-color="#79b63b"/><stop offset="0.8125" stop-color="#acc832"/><stop offset="0.8654" stop-color="#a6c633"/><stop offset="0.9135" stop-color="#70b43c"/><stop offset="1.0000" stop-color="#6fb43d"/></linearGradient>
<linearGradient id="ga28" x1="0" x2="1" y1="0" y2="0"><stop offset="0.0000" stop-color="#78be93"/><stop offset="0.0577" stop-color="#71b971"/><stop offset="0.0962" stop-color="#6eb43e"/><stop offset="0.2981" stop-color="#6eb43e"/><stop offset="0.3413" stop-color="#78be94"/><stop offset="0.3654" stop-color="#77bd8e"/><stop offset="0.4038" stop-color="#6eb43e"/><stop offset="0.5913" stop-color="#6eb440"/><stop offset="0.6010" stop-color="#70b868"/><stop offset="0.6106" stop-color="#7fc2b1"/><stop offset="0.6154" stop-color="#81c6c9"/><stop offset="0.6250" stop-color="#69c1e1"/><stop offset="0.6731" stop-color="#61b9e4"/><stop offset="0.6875" stop-color="#6cc1df"/><stop offset="0.6971" stop-color="#84c6c2"/><stop offset="0.7067" stop-color="#75bc84"/><stop offset="0.7115" stop-color="#70b761"/><stop offset="0.7212" stop-color="#6eb43e"/><stop offset="0.7644" stop-color="#74b53b"/><stop offset="0.8125" stop-color="#afc931"/><stop offset="0.8606" stop-color="#aac732"/><stop offset="0.9087" stop-color="#70b43c"/><stop offset="1.0000" stop-color="#6fb43d"/></linearGradient>
<linearGradient id="ga29" x1="0" x2="1" y1="0" y2="0"><stop offset="0.0000" stop-color="#78be93"/><stop offset="0.0577" stop-color="#71b971"/><stop offset="0.0962" stop-color="#6eb43e"/><stop offset="0.3029" stop-color="#6eb441"/><stop offset="0.3413" stop-color="#77bd8e"/><stop offset="0.3654" stop-color="#76bc88"/><stop offset="0.4038" stop-color="#6eb43e"/><stop offset="0.5913" stop-color="#6eb440"/><stop offset="0.6010" stop-color="#70b867"/><stop offset="0.6106" stop-color="#7fc2b0"/><stop offset="0.6154" stop-color="#82c6c8"/><stop offset="0.6250" stop-color="#6ac1e0"/><stop offset="0.6635" stop-color="#61b8e3"/><stop offset="0.6827" stop-color="#65c0e3"/><stop offset="0.6923" stop-color="#7bc5d3"/><stop offset="0.7019" stop-color="#7cc0a5"/><stop offset="0.7115" stop-color="#6fb75d"/><stop offset="0.7212" stop-color="#6eb43e"/><stop offset="0.7644" stop-color="#75b53b"/><stop offset="0.8077" stop-color="#afc931"/><stop offset="0.8558" stop-color="#adc832"/><stop offset="0.9038" stop-color="#70b43c"/><stop offset="1.0000" stop-color="#6fb43d"/></linearGradient>
<linearGradient id="ga30" x1="0" x2="1" y1="0" y2="0"><stop offset="0.0000" stop-color="#78be93"/><stop offset="0.0577" stop-color="#71b971"/><stop offset="0.0962" stop-color="#6eb43e"/><stop offset="0.3029" stop-color="#6eb43e"/><stop offset="0.3413" stop-color="#76bc87"/><stop offset="0.3654" stop-color="#75bb82"/><stop offset="0.3990" stop-color="#6eb43e"/><stop offset="0.5913" stop-color="#6eb43f"/><stop offset="0.6010" stop-color="#70b867"/><stop offset="0.6106" stop-color="#7fc2b0"/><stop offset="0.6154" stop-color="#82c6c7"/><stop offset="0.6250" stop-color="#6bc1e0"/><stop offset="0.6490" stop-color="#61b9e4"/><stop offset="0.6827" stop-color="#67c0e2"/><stop offset="0.6923" stop-color="#7dc5cf"/><stop offset="0.7019" stop-color="#7bbfa1"/><stop offset="0.7115" stop-color="#6fb75a"/><stop offset="0.7212" stop-color="#6eb43e"/><stop offset="0.7644" stop-color="#76b53b"/><stop offset="0.8077" stop-color="#b1ca31"/><stop offset="0.8558" stop-color="#adc832"/><stop offset="0.8990" stop-color="#70b43c"/><stop offset="1.0000" stop-color="#6fb43d"/></linearGradient>
<linearGradient id="ga31" x1="0" x2="1" y1="0" y2="0"><stop offset="0.0000" stop-color="#78be93"/><stop offset="0.0577" stop-color="#72b972"/><stop offset="0.0962" stop-color="#6eb43e"/><stop offset="0.3077" stop-color="#6eb442"/><stop offset="0.3413" stop-color="#74bb81"/><stop offset="0.3654" stop-color="#74ba7d"/><stop offset="0.3990" stop-color="#6eb43e"/><stop offset="0.5913" stop-color="#6eb43f"/><stop offset="0.6010" stop-color="#70b866"/><stop offset="0.6106" stop-color="#7ec2af"/><stop offset="0.6154" stop-color="#82c6c7"/><stop offset="0.6250" stop-color="#6cc1df"/><stop offset="0.6538" stop-color="#61bae4"/><stop offset="0.6827" stop-color="#69c1e1"/><stop offset="0.6923" stop-color="#7fc5cc"/><stop offset="0.7019" stop-color="#79bf9b"/><stop offset="0.7067" stop-color="#71b96f"/><stop offset="0.7163" stop-color="#6eb443"/><stop offset="0.7644" stop-color="#77b63b"/><stop offset="0.8077" stop-color="#b4ca30"/><stop offset="0.8510" stop-color="#b0c931"/><stop offset="0.8990" stop-color="#70b43c"/><stop offset="1.0000" stop-color="#6fb43d"/></linearGradient>
<linearGradient id="ga32" x1="0" x2="1" y1="0" y2="0"><stop offset="0.0000" stop-color="#78be93"/><stop offset="0.0577" stop-color="#72b974"/><stop offset="0.0962" stop-color="#6eb43e"/><stop offset="0.3077" stop-color="#6eb43e"/><stop offset="0.3462" stop-color="#74bb7e"/><stop offset="0.3654" stop-color="#72ba77"/><stop offset="0.3990" stop-color="#6eb43e"/><stop offset="0.5913" stop-color="#6eb43f"/><stop offset="0.6010" stop-color="#70b866"/><stop offset="0.6106" stop-color="#7ec2ae"/><stop offset="0.6154" stop-color="#83c6c6"/><stop offset="0.6250" stop-color="#6dc1df"/><stop offset="0.6490" stop-color="#61bbe4"/><stop offset="0.6827" stop-color="#6bc1df"/><stop offset="0.6923" stop-color="#81c6c8"/><stop offset="0.7019" stop-color="#78be94"/><stop offset="0.7067" stop-color="#70b869"/><stop offset="0.7163" stop-color="#6eb440"/><stop offset="0.7644" stop-color="#78b63b"/><stop offset="0.8029" stop-color="#b3ca30"/><stop offset="0.8462" stop-color="#b4ca30"/><stop offset="0.8942" stop-color="#70b43c"/><stop offset="1.0000" stop-color="#6fb43d"/></linearGradient>
<linearGradient id="ga33" x1="0" x2="1" y1="0" y2="0"><stop offset="0.0000" stop-color="#78be93"/><stop offset="0.0577" stop-color="#72b975"/><stop offset="0.1010" stop-color="#6eb43e"/><stop offset="0.3125" stop-color="#6eb443"/><stop offset="0.3462" stop-color="#73ba78"/><stop offset="0.3654" stop-color="#71b971"/><stop offset="0.3990" stop-color="#6eb43e"/><stop offset="0.5913" stop-color="#6eb43e"/><stop offset="0.6010" stop-color="#70b866"/><stop offset="0.6106" stop-color="#7ec2ae"/><stop offset="0.6154" stop-color="#83c6c5"/><stop offset="0.6250" stop-color="#6dc2de"/><stop offset="0.6490" stop-color="#62bbe4"/><stop offset="0.6779" stop-color="#65c0e3"/><stop offset="0.6875" stop-color="#79c4d7"/><stop offset="0.6923" stop-color="#83c6c5"/><stop offset="0.7019" stop-color="#77bd8c"/><stop offset="0.7067" stop-color="#70b865"/><stop offset="0.7163" stop-color="#6eb43e"/><stop offset="0.7644" stop-color="#79b63b"/><stop offset="0.8029" stop-color="#b6cb30"/><stop offset="0.8462" stop-color="#b4ca30"/><stop offset="0.8894" stop-color="#70b43c"/><stop offset="1.0000" stop-color="#6fb43d"/></linearGradient>
<linearGradient id="ga34" x1="0" x2="1" y1="0" y2="0"><stop offset="0.0000" stop-color="#78be93"/><stop offset="0.0577" stop-color="#72ba76"/><stop offset="0.1010" stop-color="#6eb43e"/><stop offset="0.3125" stop-color="#6eb43f"/><stop offset="0.3462" stop-color="#71b972"/><stop offset="0.3702" stop-color="#70b866"/><stop offset="0.3990" stop-color="#6eb43e"/><stop offset="0.5913" stop-color="#6eb43e"/><stop offset="0.6010" stop-color="#70b865"/><stop offset="0.6106" stop-color="#7ec2ad"/><stop offset="0.6154" stop-color="#84c6c4"/><stop offset="0.6250" stop-color="#6ec2de"/><stop offset="0.6442" stop-color="#62bce4"/><stop offset="0.6779" stop-color="#67c0e2"/><stop offset="0.6875" stop-color="#7bc4d3"/><stop offset="0.6923" stop-color="#83c5c1"/><stop offset="0.7019" stop-color="#75bc85"/><stop offset="0.7067" stop-color="#70b761"/><stop offset="0.7163" stop-color="#6eb43e"/><stop offset="0.7596" stop-color="#73b53c"/><stop offset="0.8029" stop-color="#b9cc2f"/><stop offset="0.8462" stop-color="#b3ca30"/><stop offset="0.8846" stop-color="#70b43c"/><stop offset="1.0000" stop-color="#6fb43d"/></linearGradient>
<linearGradient id="ga35" x1="0" x2="1" y1="0" y2="0"><stop offset="0.0000" stop-color="#78be94"/><stop offset="0.0625" stop-color="#71b971"/><stop offset="0.1010" stop-color="#6eb43e"/><stop offset="0.3173" stop-color="#6eb443"/><stop offset="0.3462" stop-color="#70b86b"/><stop offset="0.3702" stop-color="#70b763"/><stop offset="0.3942" stop-color="#6eb43e"/><stop offset="0.5913" stop-color="#6eb43e"/><stop offset="0.6010" stop-color="#70b865"/><stop offset="0.6106" stop-color="#7ec2ac"/><stop offset="0.6154" stop-color="#84c6c4"/><stop offset="0.6250" stop-color="#6fc2dd"/><stop offset="0.6442" stop-color="#62bde5"/><stop offset="0.6779" stop-color="#69c1e1"/><stop offset="0.6875" stop-color="#7dc5d0"/><stop offset="0.6971" stop-color="#7cc0a5"/><stop offset="0.7067" stop-color="#6fb75e"/><stop offset="0.7163" stop-color="#6eb43e"/><stop offset="0.7596" stop-color="#74b53b"/><stop offset="0.7981" stop-color="#b8cc2f"/><stop offset="0.8413" stop-color="#b7cb2f"/><stop offset="0.8798" stop-color="#72b53c"/><stop offset="1.0000" stop-color="#6fb43d"/></linearGradient>
<linearGradient id="ga36" x1="0" x2="1" y1="0" y2="0"><stop offset="0.0000" stop-color="#78be94"/><stop offset="0.0625" stop-color="#72b972"/><stop offset="0.1058" stop-color="#6eb43e"/><stop offset="0.3173" stop-color="#6eb43f"/><stop offset="0.3462" stop-color="#70b867"/><stop offset="0.3702" stop-color="#70b760"/><stop offset="0.3942" stop-color="#6eb43e"/><stop offset="0.5913" stop-color="#6eb43e"/><stop offset="0.6010" stop-color="#70b764"/><stop offset="0.6106" stop-color="#7ec1ab"/><stop offset="0.6154" stop-color="#84c6c3"/><stop offset="0.6250" stop-color="#70c2dd"/><stop offset="0.6490" stop-color="#62bee5"/><stop offset="0.6779" stop-color="#6cc1df"/><stop offset="0.6875" stop-color="#7fc5cd"/><stop offset="0.6971" stop-color="#7bbfa0"/><stop offset="0.7067" stop-color="#6fb75a"/><stop offset="0.7163" stop-color="#6eb43e"/><stop offset="0.7596" stop-color="#75b53b"/><stop offset="0.7981" stop-color="#bbcd2e"/><stop offset="0.8365" stop-color="#bbcd2e"/><stop offset="0.8798" stop-color="#70b43c"/><stop offset="1.0000" stop-color="#6fb43d"/></linearGradient>
<linearGradient id="ga37" x1="0" x2="1" y1="0" y2="0"><stop offset="0.0000" stop-color="#78be94"/><stop offset="0.0625" stop-color="#72b973"/><stop offset="0.1058" stop-color="#6eb43e"/><stop offset="0.3221" stop-color="#6eb544"/><stop offset="0.3462" stop-color="#70b763"/><stop offset="0.3702" stop-color="#6fb75c"/><stop offset="0.3942" stop-color="#6eb43e"/><stop offset="0.5913" stop-color="#6eb43e"/><stop offset="0.6010" stop-color="#70b763"/><stop offset="0.6106" stop-color="#7dc1a9"/><stop offset="0.6202" stop-color="#7cc5d2"/><stop offset="0.6442" stop-color="#63bfe4"/><stop offset="0.6779" stop-color="#6fc2dd"/><stop offset="0.6875" stop-color="#82c6c8"/><stop offset="0.6971" stop-color="#79be99"/><stop offset="0.7019" stop-color="#71b96e"/><stop offset="0.7115" stop-color="#6eb443"/><stop offset="0.7596" stop-color="#76b63b"/><stop offset="0.7981" stop-color="#bece2e"/><stop offset="0.8365" stop-color="#bccd2e"/><stop offset="0.8798" stop-color="#70b43c"/><stop offset="1.0000" stop-color="#6fb43d"/></linearGradient>
<linearGradient id="ga38" x1="0" x2="1" y1="0" y2="0"><stop offset="0.0000" stop-color="#78be94"/><stop offset="0.0673" stop-color="#71b970"/><stop offset="0.1058" stop-color="#6eb43e"/><stop offset="0.3269" stop-color="#6eb544"/><stop offset="0.3510" stop-color="#6fb75a"/><stop offset="0.3750" stop-color="#6fb54d"/><stop offset="0.3894" stop-color="#6eb43e"/><stop offset="0.5913" stop-color="#6eb43e"/><stop offset="0.6010" stop-color="#70b762"/><stop offset="0.6106" stop-color="#7cc1a7"/><stop offset="0.6202" stop-color="#7dc5cf"/><stop offset="0.6394" stop-color="#67c0e2"/><stop offset="0.6731" stop-color="#6cc1df"/><stop offset="0.6875" stop-color="#84c6c3"/><stop offset="0.6971" stop-color="#77bd90"/><stop offset="0.7019" stop-color="#70b868"/><stop offset="0.7115" stop-color="#6eb440"/><stop offset="0.7596" stop-color="#77b63b"/><stop offset="0.7933" stop-color="#bccd2e"/><stop offset="0.8317" stop-color="#c2cf2d"/><stop offset="0.8558" stop-color="#9bc235"/><stop offset="0.8750" stop-color="#73b53c"/><stop offset="1.0000" stop-color="#6fb43d"/></linearGradient>
<linearGradient id="ga39" x1="0" x2="1" y1="0" y2="0"><stop offset="0.0000" stop-color="#78be94"/><stop offset="0.0673" stop-color="#71b971"/><stop offset="0.1058" stop-color="#6eb43e"/><stop offset="0.3317" stop-color="#6eb443"/><stop offset="0.3606" stop-color="#6fb650"/><stop offset="0.3942" stop-color="#6fb43d"/><stop offset="0.5913" stop-color="#6eb43e"/><stop offset="0.6010" stop-color="#70b760"/><stop offset="0.6106" stop-color="#7cc0a5"/><stop offset="0.6202" stop-color="#7fc5cc"/><stop offset="0.6394" stop-color="#6ac1e0"/><stop offset="0.6731" stop-color="#70c2dd"/><stop offset="0.6875" stop-color="#82c5be"/><stop offset="0.6971" stop-color="#76bc87"/><stop offset="0.7019" stop-color="#70b763"/><stop offset="0.7115" stop-color="#6eb43e"/><stop offset="0.7596" stop-color="#79b63b"/><stop offset="0.7933" stop-color="#bfce2d"/><stop offset="0.8317" stop-color="#c4cf2d"/><stop offset="0.8558" stop-color="#9ac235"/><stop offset="0.8750" stop-color="#72b43c"/><stop offset="1.0000" stop-color="#6fb43d"/></linearGradient>
<linearGradient id="ga40" x1="0" x2="1" y1="0" y2="0"><stop offset="0.0000" stop-color="#78be94"/><stop offset="0.0673" stop-color="#72b972"/><stop offset="0.1106" stop-color="#6eb43e"/><stop offset="0.3413" stop-color="#6eb443"/><stop offset="0.5913" stop-color="#6eb43e"/><stop offset="0.6010" stop-color="#70b760"/><stop offset="0.6106" stop-color="#7cc0a4"/><stop offset="0.6250" stop-color="#79c4d6"/><stop offset="0.6587" stop-color="#6cc1df"/><stop offset="0.6779" stop-color="#7ac4d5"/><stop offset="0.6923" stop-color="#7bc0a2"/><stop offset="0.7019" stop-color="#6fb75e"/><stop offset="0.7115" stop-color="#6eb43e"/><stop offset="0.7548" stop-color="#73b53c"/><stop offset="0.7933" stop-color="#c2cf2d"/><stop offset="0.8317" stop-color="#c5d02c"/><stop offset="0.8558" stop-color="#99c136"/><stop offset="0.8750" stop-color="#71b43c"/><stop offset="1.0000" stop-color="#6fb43d"/></linearGradient>
<linearGradient id="ga41" x1="0" x2="1" y1="0" y2="0"><stop offset="0.0000" stop-color="#78be94"/><stop offset="0.0721" stop-color="#71b96e"/><stop offset="0.1106" stop-color="#6eb43e"/><stop offset="0.5913" stop-color="#6eb440"/><stop offset="0.6010" stop-color="#70b867"/><stop offset="0.6106" stop-color="#7dc1aa"/><stop offset="0.6250" stop-color="#79c4d7"/><stop offset="0.6635" stop-color="#71c2dc"/><stop offset="0.6779" stop-color="#7fc5cd"/><stop offset="0.6875" stop-color="#7dc1aa"/><stop offset="0.6971" stop-color="#70b867"/><stop offset="0.7067" stop-color="#6eb440"/><stop offset="0.7548" stop-color="#74b53b"/><stop offset="0.7933" stop-color="#c5d02c"/><stop offset="0.8317" stop-color="#c7d02c"/><stop offset="0.8558" stop-color="#98c136"/><stop offset="0.8750" stop-color="#70b43c"/><stop offset="1.0000" stop-color="#6fb43d"/></linearGradient>
<linearGradient id="ga42" x1="0" x2="1" y1="0" y2="0"><stop offset="0.0000" stop-color="#78be94"/><stop offset="0.0721" stop-color="#71b970"/><stop offset="0.1106" stop-color="#6eb43e"/><stop offset="0.5865" stop-color="#6eb43e"/><stop offset="0.5962" stop-color="#6fb658"/><stop offset="0.6010" stop-color="#71b971"/><stop offset="0.6058" stop-color="#79be98"/><stop offset="0.6154" stop-color="#83c6c2"/><stop offset="0.6298" stop-color="#75c3da"/><stop offset="0.6683" stop-color="#79c4d7"/><stop offset="0.6827" stop-color="#7fc3b2"/><stop offset="0.6875" stop-color="#7abf9c"/><stop offset="0.6971" stop-color="#6fb75b"/><stop offset="0.7067" stop-color="#6eb43e"/><stop offset="0.7548" stop-color="#75b53b"/><stop offset="0.7933" stop-color="#c8d12b"/><stop offset="0.8317" stop-color="#c8d12b"/><stop offset="0.8558" stop-color="#96c136"/><stop offset="0.8750" stop-color="#70b43c"/><stop offset="1.0000" stop-color="#6fb43d"/></linearGradient>
<linearGradient id="ga43" x1="0" x2="1" y1="0" y2="0"><stop offset="0.0000" stop-color="#78be94"/><stop offset="0.0721" stop-color="#71b971"/><stop offset="0.1106" stop-color="#6eb43e"/><stop offset="0.5865" stop-color="#6eb43e"/><stop offset="0.5962" stop-color="#6fb75f"/><stop offset="0.6058" stop-color="#7bbfa1"/><stop offset="0.6154" stop-color="#84c6c4"/><stop offset="0.6346" stop-color="#76c3d9"/><stop offset="0.6683" stop-color="#7dc5d0"/><stop offset="0.6827" stop-color="#7cc0a5"/><stop offset="0.6923" stop-color="#70b763"/><stop offset="0.7019" stop-color="#6eb43e"/><stop offset="0.7548" stop-color="#77b63b"/><stop offset="0.7885" stop-color="#c6d02c"/><stop offset="0.8221" stop-color="#d0d429"/><stop offset="0.8413" stop-color="#bbcd2f"/><stop offset="0.8702" stop-color="#74b53b"/><stop offset="1.0000" stop-color="#6fb43d"/></linearGradient>
<linearGradient id="ga44" x1="0" x2="1" y1="0" y2="0"><stop offset="0.0000" stop-color="#78be94"/><stop offset="0.0769" stop-color="#71b86d"/><stop offset="0.1154" stop-color="#6eb43e"/><stop offset="0.5865" stop-color="#6eb440"/><stop offset="0.5962" stop-color="#70b866"/><stop offset="0.6058" stop-color="#7cc0a6"/><stop offset="0.6202" stop-color="#7ec5ce"/><stop offset="0.6587" stop-color="#7ac4d5"/><stop offset="0.6731" stop-color="#82c5bd"/><stop offset="0.6827" stop-color="#78be93"/><stop offset="0.6875" stop-color="#71b96e"/><stop offset="0.6971" stop-color="#6eb545"/><stop offset="0.7548" stop-color="#78b63b"/><stop offset="0.7885" stop-color="#c9d12b"/><stop offset="0.8221" stop-color="#d2d529"/><stop offset="0.8413" stop-color="#bbcd2f"/><stop offset="0.8702" stop-color="#73b53c"/><stop offset="1.0000" stop-color="#6fb43d"/></linearGradient>
<linearGradient id="ga45" x1="0" x2="1" y1="0" y2="0"><stop offset="0.0000" stop-color="#78be94"/><stop offset="0.0769" stop-color="#71b96e"/><stop offset="0.1154" stop-color="#6eb43e"/><stop offset="0.5817" stop-color="#6eb43e"/><stop offset="0.5913" stop-color="#6fb657"/><stop offset="0.5962" stop-color="#71b86d"/><stop offset="0.6058" stop-color="#7dc1aa"/><stop offset="0.6202" stop-color="#7fc5cd"/><stop offset="0.6587" stop-color="#7ec5cf"/><stop offset="0.6731" stop-color="#7fc3b1"/><stop offset="0.6779" stop-color="#7abf9f"/><stop offset="0.6875" stop-color="#70b75f"/><stop offset="0.6971" stop-color="#6eb43e"/><stop offset="0.7500" stop-color="#72b43c"/><stop offset="0.7885" stop-color="#ccd32a"/><stop offset="0.8221" stop-color="#d4d628"/><stop offset="0.8413" stop-color="#bbcd2f"/><stop offset="0.8702" stop-color="#72b43c"/><stop offset="1.0000" stop-color="#6fb43d"/></linearGradient>
<linearGradient id="ga46" x1="0" x2="1" y1="0" y2="0"><stop offset="0.0000" stop-color="#78be94"/><stop offset="0.0817" stop-color="#70b86a"/><stop offset="0.1154" stop-color="#6eb43e"/><stop offset="0.5817" stop-color="#6eb43e"/><stop offset="0.5962" stop-color="#73ba77"/><stop offset="0.6010" stop-color="#79be9a"/><stop offset="0.6154" stop-color="#83c6c5"/><stop offset="0.6538" stop-color="#7fc5cd"/><stop offset="0.6683" stop-color="#80c3b5"/><stop offset="0.6779" stop-color="#76bc89"/><stop offset="0.6827" stop-color="#70b867"/><stop offset="0.6923" stop-color="#6eb442"/><stop offset="0.7500" stop-color="#73b53c"/><stop offset="0.7885" stop-color="#cfd429"/><stop offset="0.8221" stop-color="#d6d727"/><stop offset="0.8413" stop-color="#bacc2f"/><stop offset="0.8654" stop-color="#78b63b"/><stop offset="0.9183" stop-color="#6fb43d"/><stop offset="1.0000" stop-color="#6fb43d"/></linearGradient>
<linearGradient id="ga47" x1="0" x2="1" y1="0" y2="0"><stop offset="0.0000" stop-color="#78be94"/><stop offset="0.0865" stop-color="#71b86e"/><stop offset="0.1250" stop-color="#6eb43e"/><stop offset="0.5817" stop-color="#6eb43f"/><stop offset="0.5913" stop-color="#70b763"/><stop offset="0.6010" stop-color="#7abfa0"/><stop offset="0.6154" stop-color="#84c6c4"/><stop offset="0.6538" stop-color="#82c6c7"/><stop offset="0.6683" stop-color="#7dc1aa"/><stop offset="0.6875" stop-color="#6eb548"/><stop offset="0.7019" stop-color="#6fb43d"/><stop offset="0.7500" stop-color="#74b53b"/><stop offset="0.7837" stop-color="#cbd22b"/><stop offset="0.8125" stop-color="#dad926"/><stop offset="0.8365" stop-color="#c5d02c"/><stop offset="0.8654" stop-color="#77b63b"/><stop offset="1.0000" stop-color="#6fb43d"/></linearGradient>
<linearGradient id="ga48" x1="0" x2="1" y1="0" y2="0"><stop offset="0.0000" stop-color="#78be94"/><stop offset="0.0913" stop-color="#71b970"/><stop offset="0.1298" stop-color="#6eb43e"/><stop offset="0.5817" stop-color="#6eb443"/><stop offset="0.5913" stop-color="#70b868"/><stop offset="0.6010" stop-color="#7bc0a3"/><stop offset="0.6154" stop-color="#83c6c2"/><stop offset="0.6538" stop-color="#83c5c0"/><stop offset="0.6683" stop-color="#7abf9e"/><stop offset="0.6779" stop-color="#70b762"/><stop offset="0.6875" stop-color="#6eb43f"/><stop offset="0.7500" stop-color="#75b53b"/><stop offset="0.7837" stop-color="#ced42a"/><stop offset="0.8125" stop-color="#dcda26"/><stop offset="0.8365" stop-color="#c5d02c"/><stop offset="0.8654" stop-color="#76b53b"/><stop offset="1.0000" stop-color="#6fb43d"/></linearGradient>
<linearGradient id="ga49" x1="0" x2="1" y1="0" y2="0"><stop offset="0.0000" stop-color="#78be94"/><stop offset="0.1010" stop-color="#71b86d"/><stop offset="0.1394" stop-color="#6eb43e"/><stop offset="0.5769" stop-color="#6eb43e"/><stop offset="0.5913" stop-color="#71b96e"/><stop offset="0.6010" stop-color="#7cc0a5"/><stop offset="0.6202" stop-color="#83c6c2"/><stop offset="0.6538" stop-color="#81c4b9"/><stop offset="0.6635" stop-color="#7bc0a2"/><stop offset="0.6779" stop-color="#6fb656"/><stop offset="0.6875" stop-color="#6eb43e"/><stop offset="0.7452" stop-color="#71b43c"/><stop offset="0.7644" stop-color="#a1c534"/><stop offset="0.7837" stop-color="#d4d628"/><stop offset="0.8173" stop-color="#dfdb25"/><stop offset="0.8365" stop-color="#c9d12b"/><stop offset="0.8654" stop-color="#77b63b"/><stop offset="1.0000" stop-color="#6fb43d"/></linearGradient>
<linearGradient id="ga50" x1="0" x2="1" y1="0" y2="0"><stop offset="0.0000" stop-color="#78be94"/><stop offset="0.1058" stop-color="#71b970"/><stop offset="0.1442" stop-color="#6eb43e"/><stop offset="0.5769" stop-color="#6eb43e"/><stop offset="0.5913" stop-color="#72ba76"/><stop offset="0.6010" stop-color="#7cc1a6"/><stop offset="0.6202" stop-color="#82c5bd"/><stop offset="0.6490" stop-color="#81c4b7"/><stop offset="0.6587" stop-color="#7cc0a6"/><stop offset="0.6779" stop-color="#6fb54b"/><stop offset="0.6875" stop-color="#6eb43e"/><stop offset="0.7452" stop-color="#74b53b"/><stop offset="0.7837" stop-color="#d9d827"/><stop offset="0.8173" stop-color="#e3dd24"/><stop offset="0.8365" stop-color="#ccd32a"/><stop offset="0.8654" stop-color="#78b63b"/><stop offset="0.9183" stop-color="#6fb43d"/><stop offset="1.0000" stop-color="#6fb43d"/></linearGradient>
<linearGradient id="ga51" x1="0" x2="1" y1="0" y2="0"><stop offset="0.0000" stop-color="#78be94"/><stop offset="0.1106" stop-color="#72b972"/><stop offset="0.1538" stop-color="#6eb43e"/><stop offset="0.5769" stop-color="#6eb43e"/><stop offset="0.5913" stop-color="#72ba76"/><stop offset="0.6010" stop-color="#7cc0a5"/><stop offset="0.6202" stop-color="#81c4b9"/><stop offset="0.6490" stop-color="#7fc3b1"/><stop offset="0.6587" stop-color="#7abf9d"/><stop offset="0.6731" stop-color="#6fb655"/><stop offset="0.6827" stop-color="#6eb43e"/><stop offset="0.7452" stop-color="#77b63b"/><stop offset="0.7788" stop-color="#d6d727"/><stop offset="0.8029" stop-color="#e9df22"/><stop offset="0.8317" stop-color="#d9d827"/><stop offset="0.8702" stop-color="#72b43c"/><stop offset="1.0000" stop-color="#6fb43d"/></linearGradient>
<linearGradient id="ga52" x1="0" x2="1" y1="0" y2="0"><stop offset="0.0000" stop-color="#78be94"/><stop offset="0.1202" stop-color="#71b970"/><stop offset="0.1587" stop-color="#6eb43e"/><stop offset="0.5769" stop-color="#6eb43f"/><stop offset="0.5913" stop-color="#73ba77"/><stop offset="0.6010" stop-color="#7bc0a3"/><stop offset="0.6250" stop-color="#80c3b5"/><stop offset="0.6490" stop-color="#7dc1ab"/><stop offset="0.6587" stop-color="#77bd90"/><stop offset="0.6731" stop-color="#6fb54d"/><stop offset="0.6779" stop-color="#6eb43e"/><stop offset="0.7404" stop-color="#73b53c"/><stop offset="0.7596" stop-color="#a6c633"/><stop offset="0.7788" stop-color="#dcda26"/><stop offset="0.8077" stop-color="#ede121"/><stop offset="0.8317" stop-color="#dcda26"/><stop offset="0.8702" stop-color="#73b53c"/><stop offset="1.0000" stop-color="#6fb43d"/></linearGradient>
<linearGradient id="ga53" x1="0" x2="1" y1="0" y2="0"><stop offset="0.0000" stop-color="#78be94"/><stop offset="0.1250" stop-color="#72b972"/><stop offset="0.1683" stop-color="#6eb43e"/><stop offset="0.5769" stop-color="#6eb441"/><stop offset="0.5913" stop-color="#73ba7c"/><stop offset="0.6010" stop-color="#7cc0a5"/><stop offset="0.6250" stop-color="#80c3b4"/><stop offset="0.6490" stop-color="#7dc1a8"/><stop offset="0.6587" stop-color="#76bc87"/><stop offset="0.6683" stop-color="#6fb658"/><stop offset="0.6779" stop-color="#6eb43e"/><stop offset="0.7404" stop-color="#76b63b"/><stop offset="0.7788" stop-color="#e2dc24"/><stop offset="0.8077" stop-color="#f1e320"/><stop offset="0.8317" stop-color="#e0db25"/><stop offset="0.8702" stop-color="#74b53b"/><stop offset="1.0000" stop-color="#6fb43d"/></linearGradient>
<linearGradient id="ga54" x1="0" x2="1" y1="0" y2="0"><stop offset="0.0000" stop-color="#78be94"/><stop offset="0.0962" stop-color="#74bb7e"/><stop offset="0.1346" stop-color="#71b970"/><stop offset="0.1731" stop-color="#6eb43e"/><stop offset="0.5769" stop-color="#6eb544"/><stop offset="0.5913" stop-color="#74bb80"/><stop offset="0.6010" stop-color="#7cc0a6"/><stop offset="0.6298" stop-color="#80c3b3"/><stop offset="0.6490" stop-color="#7cc0a5"/><stop offset="0.6587" stop-color="#74bb7d"/><stop offset="0.6731" stop-color="#6eb442"/><stop offset="0.7356" stop-color="#72b43c"/><stop offset="0.7548" stop-color="#a3c534"/><stop offset="0.7788" stop-color="#e7df22"/><stop offset="0.8077" stop-color="#f3e21f"/><stop offset="0.8317" stop-color="#e3dd24"/><stop offset="0.8702" stop-color="#76b53b"/><stop offset="1.0000" stop-color="#6fb43d"/></linearGradient>
<linearGradient id="ga55" x1="0" x2="1" y1="0" y2="0"><stop offset="0.0000" stop-color="#78be94"/><stop offset="0.0913" stop-color="#74bb7f"/><stop offset="0.1394" stop-color="#72b972"/><stop offset="0.1827" stop-color="#6eb43e"/><stop offset="0.5721" stop-color="#6eb43e"/><stop offset="0.5865" stop-color="#70b869"/><stop offset="0.5962" stop-color="#7abf9c"/><stop offset="0.6154" stop-color="#7fc3b2"/><stop offset="0.6442" stop-color="#7dc1aa"/><stop offset="0.6538" stop-color="#77bd8e"/><stop offset="0.6683" stop-color="#6fb54c"/><stop offset="0.6779" stop-color="#6eb43e"/><stop offset="0.7356" stop-color="#75b53b"/><stop offset="0.7548" stop-color="#abc832"/><stop offset="0.7788" stop-color="#ede121"/><stop offset="0.8269" stop-color="#efe220"/><stop offset="0.8510" stop-color="#b0c931"/><stop offset="0.8702" stop-color="#77b63b"/><stop offset="1.0000" stop-color="#6fb43d"/></linearGradient>
<linearGradient id="ga56" x1="0" x2="1" y1="0" y2="0"><stop offset="0.0000" stop-color="#78be94"/><stop offset="0.0913" stop-color="#74bb7f"/><stop offset="0.1490" stop-color="#71b970"/><stop offset="0.1875" stop-color="#6eb43e"/><stop offset="0.5721" stop-color="#6eb43e"/><stop offset="0.5865" stop-color="#70b86c"/><stop offset="0.5962" stop-color="#7abf9f"/><stop offset="0.6154" stop-color="#7fc3b1"/><stop offset="0.6442" stop-color="#7cc1a7"/><stop offset="0.6538" stop-color="#75bc85"/><stop offset="0.6683" stop-color="#6eb546"/><stop offset="0.7019" stop-color="#6fb43d"/><stop offset="0.7356" stop-color="#78b63b"/><stop offset="0.7740" stop-color="#eae022"/><stop offset="0.8077" stop-color="#f4d921"/><stop offset="0.8317" stop-color="#eae022"/><stop offset="0.8702" stop-color="#78b63b"/><stop offset="0.9231" stop-color="#6fb43d"/><stop offset="1.0000" stop-color="#6eb43e"/></linearGradient>
<linearGradient id="ga57" x1="0" x2="1" y1="0" y2="0"><stop offset="0.0000" stop-color="#78be94"/><stop offset="0.0913" stop-color="#74bb7f"/><stop offset="0.1538" stop-color="#72b973"/><stop offset="0.1971" stop-color="#6eb43e"/><stop offset="0.5721" stop-color="#6eb43e"/><stop offset="0.5865" stop-color="#71b971"/><stop offset="0.5962" stop-color="#7bbfa0"/><stop offset="0.6202" stop-color="#7fc2b0"/><stop offset="0.6442" stop-color="#7bc0a3"/><stop offset="0.6683" stop-color="#6eb440"/><stop offset="0.7308" stop-color="#74b53c"/><stop offset="0.7500" stop-color="#a9c732"/><stop offset="0.7740" stop-color="#f2e41f"/><stop offset="0.8029" stop-color="#f4d122"/><stop offset="0.8269" stop-color="#f4dc20"/><stop offset="0.8365" stop-color="#e9e022"/><stop offset="0.8702" stop-color="#7db73a"/><stop offset="0.8894" stop-color="#6fb43d"/><stop offset="1.0000" stop-color="#6eb440"/></linearGradient>
<linearGradient id="ga58" x1="0" x2="1" y1="0" y2="0"><stop offset="0.0000" stop-color="#78be94"/><stop offset="0.0913" stop-color="#74bb7f"/><stop offset="0.1587" stop-color="#72b975"/><stop offset="0.2019" stop-color="#6eb43e"/><stop offset="0.5721" stop-color="#6eb43e"/><stop offset="0.5865" stop-color="#72ba76"/><stop offset="0.5962" stop-color="#7bc0a1"/><stop offset="0.6202" stop-color="#7fc2b0"/><stop offset="0.6442" stop-color="#7abfa0"/><stop offset="0.6635" stop-color="#6fb54b"/><stop offset="0.6731" stop-color="#6fb43d"/><stop offset="0.7308" stop-color="#78b63b"/><stop offset="0.7548" stop-color="#c4cf2c"/><stop offset="0.7692" stop-color="#f1e320"/><stop offset="0.7933" stop-color="#f5c923"/><stop offset="0.8269" stop-color="#f4d222"/><stop offset="0.8365" stop-color="#f3e41f"/><stop offset="0.8750" stop-color="#7ab63b"/><stop offset="0.9087" stop-color="#6fb43d"/><stop offset="0.9471" stop-color="#6eb547"/><stop offset="1.0000" stop-color="#6fb650"/></linearGradient>
<linearGradient id="ga59" x1="0" x2="1" y1="0" y2="0"><stop offset="0.0000" stop-color="#78be94"/><stop offset="0.0913" stop-color="#74bb7f"/><stop offset="0.1683" stop-color="#72b973"/><stop offset="0.2115" stop-color="#6eb43e"/><stop offset="0.5721" stop-color="#6eb440"/><stop offset="0.5865" stop-color="#73ba7a"/><stop offset="0.5962" stop-color="#7bc0a3"/><stop offset="0.6250" stop-color="#7ec2af"/><stop offset="0.6442" stop-color="#79be9a"/><stop offset="0.6587" stop-color="#6fb656"/><stop offset="0.6683" stop-color="#6eb43e"/><stop offset="0.7260" stop-color="#73b53c"/><stop offset="0.7452" stop-color="#a8c733"/><stop offset="0.7644" stop-color="#ece121"/><stop offset="0.7981" stop-color="#f4ba25"/><stop offset="0.8269" stop-color="#f5c923"/><stop offset="0.8413" stop-color="#f1e31f"/><stop offset="0.8750" stop-color="#7fb83a"/><stop offset="0.8894" stop-color="#70b43c"/><stop offset="0.9375" stop-color="#6eb546"/><stop offset="0.9712" stop-color="#70b761"/><stop offset="1.0000" stop-color="#6fb75f"/></linearGradient>
<linearGradient id="ga60" x1="0" x2="1" y1="0" y2="0"><stop offset="0.0000" stop-color="#78be94"/><stop offset="0.0913" stop-color="#74bb7f"/><stop offset="0.1731" stop-color="#72ba76"/><stop offset="0.2163" stop-color="#6eb43e"/><stop offset="0.4038" stop-color="#77b63b"/><stop offset="0.5721" stop-color="#6eb442"/><stop offset="0.5865" stop-color="#74bb7f"/><stop offset="0.5962" stop-color="#7bc0a4"/><stop offset="0.6298" stop-color="#7ec2ac"/><stop offset="0.6394" stop-color="#7bc0a2"/><stop offset="0.6635" stop-color="#6eb43f"/><stop offset="0.7260" stop-color="#77b63b"/><stop offset="0.7452" stop-color="#b1c931"/><stop offset="0.7644" stop-color="#f3e21f"/><stop offset="0.7885" stop-color="#f3b026"/><stop offset="0.8221" stop-color="#f3b325"/><stop offset="0.8462" stop-color="#eee220"/><stop offset="0.8798" stop-color="#7bb73b"/><stop offset="0.9038" stop-color="#6fb43d"/><stop offset="0.9327" stop-color="#6eb547"/><stop offset="0.9712" stop-color="#72ba76"/><stop offset="1.0000" stop-color="#71b971"/></linearGradient>
<linearGradient id="ga61" x1="0" x2="1" y1="0" y2="0"><stop offset="0.0000" stop-color="#79bf9b"/><stop offset="0.0913" stop-color="#75bc86"/><stop offset="0.1779" stop-color="#74bb7e"/><stop offset="0.2260" stop-color="#6eb43e"/><stop offset="0.3894" stop-color="#77b63b"/><stop offset="0.4567" stop-color="#7fb83a"/><stop offset="0.5192" stop-color="#6fb43d"/><stop offset="0.5721" stop-color="#6eb545"/><stop offset="0.5865" stop-color="#75bb83"/><stop offset="0.5962" stop-color="#7cc0a4"/><stop offset="0.6298" stop-color="#7dc1ab"/><stop offset="0.6394" stop-color="#7abf9e"/><stop offset="0.6587" stop-color="#6fb549"/><stop offset="0.6683" stop-color="#6fb43d"/><stop offset="0.7212" stop-color="#73b53c"/><stop offset="0.7356" stop-color="#96c036"/><stop offset="0.7596" stop-color="#f1e320"/><stop offset="0.7837" stop-color="#f2a527"/><stop offset="0.8173" stop-color="#f19d28"/><stop offset="0.8365" stop-color="#f4c024"/><stop offset="0.8510" stop-color="#ebe021"/><stop offset="0.8798" stop-color="#81b83a"/><stop offset="0.8942" stop-color="#70b43c"/><stop offset="0.9279" stop-color="#6eb544"/><stop offset="0.9615" stop-color="#76bc8b"/><stop offset="0.9952" stop-color="#77bd90"/><stop offset="1.0000" stop-color="#76bc8b"/></linearGradient>
<linearGradient id="ga62" x1="0" x2="1" y1="0" y2="0"><stop offset="0.0000" stop-color="#7bbfa0"/><stop offset="0.0962" stop-color="#77bd8d"/><stop offset="0.1875" stop-color="#75bb82"/><stop offset="0.2308" stop-color="#6eb43e"/><stop offset="0.3798" stop-color="#75b53b"/><stop offset="0.4279" stop-color="#8cbd38"/><stop offset="0.4760" stop-color="#7cb73a"/><stop offset="0.5192" stop-color="#6fb43d"/><stop offset="0.5673" stop-color="#6eb43e"/><stop offset="0.5817" stop-color="#70b86b"/><stop offset="0.5913" stop-color="#7abf9c"/><stop offset="0.6106" stop-color="#7ec2ac"/><stop offset="0.6346" stop-color="#7bc0a3"/><stop offset="0.6442" stop-color="#74bb81"/><stop offset="0.6587" stop-color="#6eb443"/><stop offset="0.7212" stop-color="#77b63b"/><stop offset="0.7404" stop-color="#b1c931"/><stop offset="0.7548" stop-color="#ebe021"/><stop offset="0.7644" stop-color="#f5cc22"/><stop offset="0.7837" stop-color="#f19329"/><stop offset="0.8125" stop-color="#f0882a"/><stop offset="0.8317" stop-color="#f29f28"/><stop offset="0.8510" stop-color="#f3df20"/><stop offset="0.8846" stop-color="#7db73a"/><stop offset="0.9038" stop-color="#6fb43d"/><stop offset="0.9231" stop-color="#6eb43e"/><stop offset="0.9567" stop-color="#7abf9e"/><stop offset="0.9952" stop-color="#7cc0a6"/><stop offset="1.0000" stop-color="#7bc0a3"/></linearGradient>
<linearGradient id="ga63" x1="0" x2="1" y1="0" y2="0"><stop offset="0.0000" stop-color="#7cc0a4"/><stop offset="0.1058" stop-color="#78be94"/><stop offset="0.1923" stop-color="#76bc88"/><stop offset="0.2356" stop-color="#6eb43e"/><stop offset="0.3750" stop-color="#74b53b"/><stop offset="0.4183" stop-color="#97c136"/><stop offset="0.4663" stop-color="#8dbd38"/><stop offset="0.5048" stop-color="#70b43c"/><stop offset="0.5673" stop-color="#6eb43e"/><stop offset="0.5817" stop-color="#71b970"/><stop offset="0.5913" stop-color="#7abf9e"/><stop offset="0.6202" stop-color="#7dc1ab"/><stop offset="0.6346" stop-color="#7bbfa0"/><stop offset="0.6587" stop-color="#6eb43e"/><stop offset="0.7163" stop-color="#73b53c"/><stop offset="0.7308" stop-color="#95c036"/><stop offset="0.7548" stop-color="#f3e21f"/><stop offset="0.7788" stop-color="#f08b2a"/><stop offset="0.7981" stop-color="#ed712b"/><stop offset="0.8221" stop-color="#ee782b"/><stop offset="0.8413" stop-color="#f3ab26"/><stop offset="0.8558" stop-color="#f3e41f"/><stop offset="0.8846" stop-color="#84b939"/><stop offset="0.8990" stop-color="#70b43c"/><stop offset="0.9231" stop-color="#6eb440"/><stop offset="0.9423" stop-color="#73ba79"/><stop offset="0.9567" stop-color="#7cc0a5"/><stop offset="0.9904" stop-color="#7fc2af"/><stop offset="1.0000" stop-color="#7dc1aa"/></linearGradient>
<linearGradient id="ga64" x1="0" x2="1" y1="0" y2="0"><stop offset="0.0000" stop-color="#7dc1a8"/><stop offset="0.1298" stop-color="#79bf9b"/><stop offset="0.1971" stop-color="#77bd8e"/><stop offset="0.2404" stop-color="#6eb43e"/><stop offset="0.3750" stop-color="#77b63b"/><stop offset="0.4135" stop-color="#a1c434"/><stop offset="0.4615" stop-color="#9bc235"/><stop offset="0.5048" stop-color="#70b43c"/><stop offset="0.5673" stop-color="#6eb43e"/><stop offset="0.5817" stop-color="#72b974"/><stop offset="0.5913" stop-color="#7abf9f"/><stop offset="0.6202" stop-color="#7dc1aa"/><stop offset="0.6346" stop-color="#7abf9c"/><stop offset="0.6538" stop-color="#6eb548"/><stop offset="0.6683" stop-color="#6fb43d"/><stop offset="0.7163" stop-color="#77b63b"/><stop offset="0.7356" stop-color="#b0c931"/><stop offset="0.7500" stop-color="#ede121"/><stop offset="0.7596" stop-color="#f5c423"/><stop offset="0.7788" stop-color="#ed742b"/><stop offset="0.7981" stop-color="#ea5a2b"/><stop offset="0.8221" stop-color="#eb612b"/><stop offset="0.8365" stop-color="#ef862a"/><stop offset="0.8558" stop-color="#f4d821"/><stop offset="0.8606" stop-color="#ece121"/><stop offset="0.8894" stop-color="#7eb83a"/><stop offset="0.9087" stop-color="#6fb43d"/><stop offset="0.9231" stop-color="#6eb440"/><stop offset="0.9423" stop-color="#74bb7d"/><stop offset="0.9567" stop-color="#7dc1a8"/><stop offset="0.9904" stop-color="#80c3b3"/><stop offset="1.0000" stop-color="#7ec2ae"/></linearGradient>
<linearGradient id="ga65" x1="0" x2="1" y1="0" y2="0"><stop offset="0.0000" stop-color="#7ec2ac"/><stop offset="0.1442" stop-color="#7bbfa0"/><stop offset="0.2019" stop-color="#78be95"/><stop offset="0.2452" stop-color="#6eb43e"/><stop offset="0.3702" stop-color="#75b53b"/><stop offset="0.4135" stop-color="#acc832"/><stop offset="0.4615" stop-color="#a5c633"/><stop offset="0.5048" stop-color="#70b43c"/><stop offset="0.5673" stop-color="#6eb43e"/><stop offset="0.5913" stop-color="#7bbfa0"/><stop offset="0.6250" stop-color="#7cc1a7"/><stop offset="0.6346" stop-color="#78be95"/><stop offset="0.6538" stop-color="#6eb442"/><stop offset="0.7115" stop-color="#74b53c"/><stop offset="0.7260" stop-color="#96c136"/><stop offset="0.7452" stop-color="#e7df23"/><stop offset="0.7500" stop-color="#f4dc20"/><stop offset="0.7788" stop-color="#eb5b2b"/><stop offset="0.7981" stop-color="#e8442c"/><stop offset="0.8221" stop-color="#e94b2c"/><stop offset="0.8365" stop-color="#ed722b"/><stop offset="0.8606" stop-color="#f3e41f"/><stop offset="0.8894" stop-color="#81b83a"/><stop offset="0.9038" stop-color="#70b43c"/><stop offset="0.9231" stop-color="#6eb440"/><stop offset="0.9375" stop-color="#70b86a"/><stop offset="0.9519" stop-color="#7cc0a4"/><stop offset="0.9760" stop-color="#81c4b8"/><stop offset="1.0000" stop-color="#7fc3b2"/></linearGradient>
<linearGradient id="ga66" x1="0" x2="1" y1="0" y2="0"><stop offset="0.0000" stop-color="#7fc2b0"/><stop offset="0.1442" stop-color="#7cc0a4"/><stop offset="0.2067" stop-color="#79bf9b"/><stop offset="0.2500" stop-color="#6eb43e"/><stop offset="0.3654" stop-color="#72b43c"/><stop offset="0.4135" stop-color="#b7cc2f"/><stop offset="0.4567" stop-color="#b4cb30"/><stop offset="0.5048" stop-color="#70b43c"/><stop offset="0.5673" stop-color="#6eb441"/><stop offset="0.5913" stop-color="#7bc0a1"/><stop offset="0.6250" stop-color="#7cc0a5"/><stop offset="0.6346" stop-color="#77bd8e"/><stop offset="0.6490" stop-color="#6fb54c"/><stop offset="0.6538" stop-color="#6eb43e"/><stop offset="0.7115" stop-color="#78b63b"/><stop offset="0.7308" stop-color="#b5cb30"/><stop offset="0.7452" stop-color="#f3e21f"/><stop offset="0.7740" stop-color="#e9502c"/><stop offset="0.7885" stop-color="#e63f2c"/><stop offset="0.8269" stop-color="#e7432c"/><stop offset="0.8365" stop-color="#eb5f2b"/><stop offset="0.8606" stop-color="#f4dd20"/><stop offset="0.8894" stop-color="#84b939"/><stop offset="0.9038" stop-color="#70b43c"/><stop offset="0.9231" stop-color="#6eb441"/><stop offset="0.9375" stop-color="#71b96e"/><stop offset="0.9471" stop-color="#7abf9c"/><stop offset="0.9663" stop-color="#81c4b9"/><stop offset="1.0000" stop-color="#80c3b6"/></linearGradient>
<linearGradient id="ga67" x1="0" x2="1" y1="0" y2="0"><stop offset="0.0000" stop-color="#80c3b4"/><stop offset="0.1442" stop-color="#7dc1a8"/><stop offset="0.2163" stop-color="#79bf9b"/><stop offset="0.2548" stop-color="#6eb43f"/><stop offset="0.3654" stop-color="#73b53c"/><stop offset="0.4087" stop-color="#bdcd2e"/><stop offset="0.4519" stop-color="#c1ce2d"/><stop offset="0.4808" stop-color="#96c036"/><stop offset="0.5048" stop-color="#70b43c"/><stop offset="0.5673" stop-color="#6eb443"/><stop offset="0.5865" stop-color="#79be96"/><stop offset="0.6058" stop-color="#7dc1a8"/><stop offset="0.6250" stop-color="#7bc0a3"/><stop offset="0.6346" stop-color="#75bc85"/><stop offset="0.6490" stop-color="#6eb546"/><stop offset="0.6779" stop-color="#6fb43d"/><stop offset="0.7067" stop-color="#75b53b"/><stop offset="0.7212" stop-color="#99c236"/><stop offset="0.7404" stop-color="#ede121"/><stop offset="0.7500" stop-color="#f4bb24"/><stop offset="0.7692" stop-color="#e94b2c"/><stop offset="0.7933" stop-color="#e3372c"/><stop offset="0.8317" stop-color="#e7422c"/><stop offset="0.8413" stop-color="#ec662b"/><stop offset="0.8606" stop-color="#f4d721"/><stop offset="0.8654" stop-color="#ebe021"/><stop offset="0.8894" stop-color="#87bb39"/><stop offset="0.9038" stop-color="#70b43c"/><stop offset="0.9231" stop-color="#6eb442"/><stop offset="0.9423" stop-color="#76bc8b"/><stop offset="0.9519" stop-color="#7dc1ab"/><stop offset="0.9760" stop-color="#83c5c0"/><stop offset="1.0000" stop-color="#81c4b9"/></linearGradient>
<linearGradient id="ga68" x1="0" x2="1" y1="0" y2="0"><stop offset="0.0000" stop-color="#81c4b8"/><stop offset="0.1442" stop-color="#7ec2ac"/><stop offset="0.2212" stop-color="#7bbfa0"/><stop offset="0.2596" stop-color="#6eb440"/><stop offset="0.3654" stop-color="#75b53b"/><stop offset="0.4087" stop-color="#c6d02c"/><stop offset="0.4519" stop-color="#cad22b"/><stop offset="0.4760" stop-color="#a6c633"/><stop offset="0.5048" stop-color="#70b43c"/><stop offset="0.5625" stop-color="#6eb43e"/><stop offset="0.5769" stop-color="#70b86a"/><stop offset="0.5865" stop-color="#79be99"/><stop offset="0.6058" stop-color="#7cc1a7"/><stop offset="0.6250" stop-color="#7bbfa0"/><stop offset="0.6490" stop-color="#6eb440"/><stop offset="0.7067" stop-color="#78b63b"/><stop offset="0.7260" stop-color="#b5cb30"/><stop offset="0.7404" stop-color="#f3e11f"/><stop offset="0.7692" stop-color="#e8442c"/><stop offset="0.8077" stop-color="#e2362c"/><stop offset="0.8317" stop-color="#e7412c"/><stop offset="0.8413" stop-color="#ec662b"/><stop offset="0.8606" stop-color="#f4d621"/><stop offset="0.8654" stop-color="#ece121"/><stop offset="0.8894" stop-color="#89bb38"/><stop offset="0.9038" stop-color="#70b43c"/><stop offset="0.9231" stop-color="#6eb442"/><stop offset="0.9375" stop-color="#72ba75"/><stop offset="0.9471" stop-color="#7bc0a3"/><stop offset="0.9663" stop-color="#83c5c1"/><stop offset="1.0000" stop-color="#82c5bd"/></linearGradient>
<linearGradient id="ga69" x1="0" x2="1" y1="0" y2="0"><stop offset="0.0000" stop-color="#82c5bc"/><stop offset="0.1442" stop-color="#7fc2b0"/><stop offset="0.2212" stop-color="#7cc1a7"/><stop offset="0.2356" stop-color="#78bd92"/><stop offset="0.2596" stop-color="#6fb54b"/><stop offset="0.2788" stop-color="#6fb43d"/><stop offset="0.3654" stop-color="#77b63b"/><stop offset="0.4087" stop-color="#cfd42a"/><stop offset="0.4519" stop-color="#d2d628"/><stop offset="0.4760" stop-color="#adc832"/><stop offset="0.5048" stop-color="#70b43c"/><stop offset="0.5625" stop-color="#6eb43e"/><stop offset="0.5769" stop-color="#71b96e"/><stop offset="0.5865" stop-color="#79bf9b"/><stop offset="0.6154" stop-color="#7cc0a5"/><stop offset="0.6250" stop-color="#7abf9d"/><stop offset="0.6490" stop-color="#6eb43e"/><stop offset="0.7019" stop-color="#75b53b"/><stop offset="0.7163" stop-color="#98c136"/><stop offset="0.7356" stop-color="#e9e022"/><stop offset="0.7404" stop-color="#f4d921"/><stop offset="0.7644" stop-color="#e9502c"/><stop offset="0.7788" stop-color="#e43a2c"/><stop offset="0.8269" stop-color="#e53c2c"/><stop offset="0.8365" stop-color="#e94c2c"/><stop offset="0.8606" stop-color="#f4d521"/><stop offset="0.8654" stop-color="#ede121"/><stop offset="0.8894" stop-color="#8abc38"/><stop offset="0.9038" stop-color="#70b43c"/><stop offset="0.9231" stop-color="#6eb443"/><stop offset="0.9375" stop-color="#73ba79"/><stop offset="0.9471" stop-color="#7cc0a6"/><stop offset="0.9663" stop-color="#83c6c5"/><stop offset="1.0000" stop-color="#83c5c1"/></linearGradient>
<linearGradient id="ga70" x1="0" x2="1" y1="0" y2="0"><stop offset="0.0000" stop-color="#83c5c0"/><stop offset="0.1442" stop-color="#80c3b4"/><stop offset="0.2260" stop-color="#7dc1aa"/><stop offset="0.2404" stop-color="#78be95"/><stop offset="0.2644" stop-color="#6fb54a"/><stop offset="0.2788" stop-color="#6eb43e"/><stop offset="0.3606" stop-color="#71b43c"/><stop offset="0.3846" stop-color="#a6c633"/><stop offset="0.4087" stop-color="#d7d827"/><stop offset="0.4519" stop-color="#dbd926"/><stop offset="0.4760" stop-color="#b3ca30"/><stop offset="0.5000" stop-color="#78b63b"/><stop offset="0.5625" stop-color="#6eb43e"/><stop offset="0.5865" stop-color="#7abf9c"/><stop offset="0.6154" stop-color="#7cc0a4"/><stop offset="0.6250" stop-color="#79be97"/><stop offset="0.6442" stop-color="#6eb545"/><stop offset="0.7019" stop-color="#78b63b"/><stop offset="0.7212" stop-color="#b3ca30"/><stop offset="0.7356" stop-color="#f2e31f"/><stop offset="0.7500" stop-color="#f19928"/><stop offset="0.7644" stop-color="#e8472c"/><stop offset="0.7981" stop-color="#e2342c"/><stop offset="0.8317" stop-color="#e6412c"/><stop offset="0.8365" stop-color="#e94b2c"/><stop offset="0.8606" stop-color="#f4d421"/><stop offset="0.8654" stop-color="#eee221"/><stop offset="0.8894" stop-color="#8cbc38"/><stop offset="0.9038" stop-color="#70b43c"/><stop offset="0.9231" stop-color="#6eb443"/><stop offset="0.9375" stop-color="#74bb7d"/><stop offset="0.9471" stop-color="#7dc1a9"/><stop offset="0.9663" stop-color="#81c6c8"/><stop offset="1.0000" stop-color="#84c6c5"/></linearGradient>
<linearGradient id="ga71" x1="0" x2="1" y1="0" y2="0"><stop offset="0.0000" stop-color="#84c6c4"/><stop offset="0.1442" stop-color="#81c4b8"/><stop offset="0.2308" stop-color="#7ec2ad"/><stop offset="0.2452" stop-color="#78be96"/><stop offset="0.2644" stop-color="#6fb654"/><stop offset="0.2788" stop-color="#6eb43e"/><stop offset="0.3606" stop-color="#73b53c"/><stop offset="0.3846" stop-color="#acc832"/><stop offset="0.4087" stop-color="#dfdb25"/><stop offset="0.4471" stop-color="#e6de23"/><stop offset="0.4712" stop-color="#c6d02c"/><stop offset="0.5000" stop-color="#7ab63b"/><stop offset="0.5337" stop-color="#6fb43d"/><stop offset="0.5625" stop-color="#6eb43e"/><stop offset="0.5865" stop-color="#7abf9d"/><stop offset="0.6202" stop-color="#7abf9e"/><stop offset="0.6442" stop-color="#6eb43f"/><stop offset="0.6971" stop-color="#74b53b"/><stop offset="0.7163" stop-color="#a7c733"/><stop offset="0.7356" stop-color="#f3dd20"/><stop offset="0.7596" stop-color="#ea552c"/><stop offset="0.7692" stop-color="#e53e2c"/><stop offset="0.8173" stop-color="#e2362c"/><stop offset="0.8365" stop-color="#e94a2c"/><stop offset="0.8606" stop-color="#f4d421"/><stop offset="0.8654" stop-color="#efe220"/><stop offset="0.8942" stop-color="#7fb83a"/><stop offset="0.9087" stop-color="#6fb43d"/><stop offset="0.9231" stop-color="#6eb443"/><stop offset="0.9375" stop-color="#74bb7f"/><stop offset="0.9471" stop-color="#7dc1ab"/><stop offset="0.9663" stop-color="#80c5cb"/><stop offset="1.0000" stop-color="#82c6c7"/></linearGradient>
<linearGradient id="ga72" x1="0" x2="1" y1="0" y2="0"><stop offset="0.0000" stop-color="#82c6c8"/><stop offset="0.1538" stop-color="#82c5bc"/><stop offset="0.2308" stop-color="#80c3b3"/><stop offset="0.2500" stop-color="#79be97"/><stop offset="0.2692" stop-color="#6fb652"/><stop offset="0.2837" stop-color="#6eb43e"/><stop offset="0.3606" stop-color="#73b53c"/><stop offset="0.3846" stop-color="#aec931"/><stop offset="0.4087" stop-color="#e3dd24"/><stop offset="0.4471" stop-color="#eae022"/><stop offset="0.4712" stop-color="#c9d22b"/><stop offset="0.5000" stop-color="#7ab73b"/><stop offset="0.5288" stop-color="#6fb43d"/><stop offset="0.5625" stop-color="#6eb43f"/><stop offset="0.5865" stop-color="#7abf9e"/><stop offset="0.6154" stop-color="#7bc0a1"/><stop offset="0.6250" stop-color="#76bc89"/><stop offset="0.6394" stop-color="#6fb54a"/><stop offset="0.6490" stop-color="#6fb43d"/><stop offset="0.6971" stop-color="#78b63b"/><stop offset="0.7163" stop-color="#b0c931"/><stop offset="0.7308" stop-color="#ede221"/><stop offset="0.7404" stop-color="#f4bd24"/><stop offset="0.7596" stop-color="#e94c2c"/><stop offset="0.7837" stop-color="#e1342c"/><stop offset="0.8269" stop-color="#e43b2c"/><stop offset="0.8365" stop-color="#e8492c"/><stop offset="0.8606" stop-color="#f4d321"/><stop offset="0.8654" stop-color="#f0e320"/><stop offset="0.8942" stop-color="#80b83a"/><stop offset="0.9087" stop-color="#6fb43d"/><stop offset="0.9231" stop-color="#6eb544"/><stop offset="0.9375" stop-color="#75bb82"/><stop offset="0.9471" stop-color="#7ec2ad"/><stop offset="0.9663" stop-color="#7ec5cd"/><stop offset="1.0000" stop-color="#81c5ca"/></linearGradient>
<linearGradient id="ga73" x1="0" x2="1" y1="0" y2="0"><stop offset="0.0000" stop-color="#80c5cb"/><stop offset="0.1683" stop-color="#83c5c0"/><stop offset="0.2356" stop-color="#80c3b6"/><stop offset="0.2548" stop-color="#79be97"/><stop offset="0.2692" stop-color="#6fb75d"/><stop offset="0.2837" stop-color="#6eb43e"/><stop offset="0.3606" stop-color="#74b53c"/><stop offset="0.3846" stop-color="#b1ca31"/><stop offset="0.4087" stop-color="#e7de23"/><stop offset="0.4471" stop-color="#eee220"/><stop offset="0.4712" stop-color="#cdd32a"/><stop offset="0.5000" stop-color="#7bb73b"/><stop offset="0.5240" stop-color="#6fb43d"/><stop offset="0.5625" stop-color="#6eb442"/><stop offset="0.5817" stop-color="#78be93"/><stop offset="0.5962" stop-color="#7bc0a3"/><stop offset="0.6154" stop-color="#7abf9f"/><stop offset="0.6250" stop-color="#74bb81"/><stop offset="0.6394" stop-color="#6eb443"/><stop offset="0.6923" stop-color="#74b53b"/><stop offset="0.7115" stop-color="#a5c633"/><stop offset="0.7308" stop-color="#f3e11f"/><stop offset="0.7596" stop-color="#e8442c"/><stop offset="0.7981" stop-color="#e1322c"/><stop offset="0.8317" stop-color="#e6402c"/><stop offset="0.8365" stop-color="#e8482c"/><stop offset="0.8606" stop-color="#f4d222"/><stop offset="0.8654" stop-color="#f1e320"/><stop offset="0.8942" stop-color="#81b83a"/><stop offset="0.9087" stop-color="#6fb43d"/><stop offset="0.9231" stop-color="#6eb544"/><stop offset="0.9327" stop-color="#70b867"/><stop offset="0.9423" stop-color="#7bbfa0"/><stop offset="0.9615" stop-color="#7fc5cc"/><stop offset="1.0000" stop-color="#7fc5cc"/></linearGradient>
<linearGradient id="ga74" x1="0" x2="1" y1="0" y2="0"><stop offset="0.0000" stop-color="#7ec5cf"/><stop offset="0.1827" stop-color="#84c6c4"/><stop offset="0.2404" stop-color="#81c4b9"/><stop offset="0.2596" stop-color="#79be97"/><stop offset="0.2740" stop-color="#6fb75b"/><stop offset="0.2885" stop-color="#6eb43e"/><stop offset="0.3606" stop-color="#74b53b"/><stop offset="0.3846" stop-color="#b3ca30"/><stop offset="0.4087" stop-color="#eae021"/><stop offset="0.4471" stop-color="#f2e41f"/><stop offset="0.4712" stop-color="#d0d429"/><stop offset="0.5000" stop-color="#7cb73b"/><stop offset="0.5240" stop-color="#6fb43d"/><stop offset="0.5625" stop-color="#6eb544"/><stop offset="0.5817" stop-color="#78be95"/><stop offset="0.6010" stop-color="#7bc0a2"/><stop offset="0.6154" stop-color="#7abf9c"/><stop offset="0.6394" stop-color="#6eb43e"/><stop offset="0.6923" stop-color="#78b63b"/><stop offset="0.7115" stop-color="#aec931"/><stop offset="0.7260" stop-color="#eae022"/><stop offset="0.7308" stop-color="#f4d921"/><stop offset="0.7548" stop-color="#e9512c"/><stop offset="0.7692" stop-color="#e3382c"/><stop offset="0.8221" stop-color="#e3372c"/><stop offset="0.8365" stop-color="#e8472c"/><stop offset="0.8606" stop-color="#f4d122"/><stop offset="0.8654" stop-color="#f2e31f"/><stop offset="0.8942" stop-color="#83b93a"/><stop offset="0.9087" stop-color="#6fb43d"/><stop offset="0.9231" stop-color="#6eb544"/><stop offset="0.9327" stop-color="#70b868"/><stop offset="0.9423" stop-color="#7bc0a2"/><stop offset="0.9615" stop-color="#7ec5ce"/><stop offset="1.0000" stop-color="#7ec5ce"/></linearGradient>
<linearGradient id="ga75" x1="0" x2="1" y1="0" y2="0"><stop offset="0.0000" stop-color="#7cc5d2"/><stop offset="0.1827" stop-color="#82c6c7"/><stop offset="0.2452" stop-color="#81c4ba"/><stop offset="0.2596" stop-color="#7bc0a3"/><stop offset="0.2788" stop-color="#6fb657"/><stop offset="0.2933" stop-color="#6eb43e"/><stop offset="0.3606" stop-color="#74b53b"/><stop offset="0.3846" stop-color="#b5cb30"/><stop offset="0.4087" stop-color="#ede221"/><stop offset="0.4567" stop-color="#ede221"/><stop offset="0.4808" stop-color="#b6cb30"/><stop offset="0.5048" stop-color="#74b53b"/><stop offset="0.5577" stop-color="#6eb43e"/><stop offset="0.5721" stop-color="#70b86c"/><stop offset="0.5817" stop-color="#79be96"/><stop offset="0.6058" stop-color="#7bc0a1"/><stop offset="0.6154" stop-color="#79be98"/><stop offset="0.6394" stop-color="#6eb43e"/><stop offset="0.6875" stop-color="#74b53c"/><stop offset="0.7067" stop-color="#a2c534"/><stop offset="0.7260" stop-color="#f0e320"/><stop offset="0.7404" stop-color="#f29e28"/><stop offset="0.7548" stop-color="#e8492c"/><stop offset="0.7837" stop-color="#e0312c"/><stop offset="0.8269" stop-color="#e43a2c"/><stop offset="0.8365" stop-color="#e8472c"/><stop offset="0.8606" stop-color="#f4d122"/><stop offset="0.8654" stop-color="#f2e41f"/><stop offset="0.8942" stop-color="#84b939"/><stop offset="0.9087" stop-color="#6fb43d"/><stop offset="0.9231" stop-color="#6eb544"/><stop offset="0.9327" stop-color="#70b869"/><stop offset="0.9423" stop-color="#7bc0a4"/><stop offset="0.9567" stop-color="#80c5ca"/><stop offset="0.9856" stop-color="#79c4d7"/><stop offset="1.0000" stop-color="#7dc5d0"/></linearGradient></defs>
<rect x="124.0" y="18.00" width="416.0" height="5.60" fill="url(#ga0)"/>
<rect x="124.0" y="23.00" width="416.0" height="5.60" fill="url(#ga1)"/>
<rect x="124.0" y="28.00" width="416.0" height="5.60" fill="url(#ga2)"/>
<rect x="124.0" y="33.00" width="416.0" height="5.60" fill="url(#ga3)"/>
<rect x="124.0" y="38.00" width="416.0" height="5.60" fill="url(#ga4)"/>
<rect x="124.0" y="43.00" width="416.0" height="5.60" fill="url(#ga5)"/>
<rect x="124.0" y="48.00" width="416.0" height="5.60" fill="url(#ga6)"/>
<rect x="124.0" y="53.00" width="416.0" height="5.60" fill="url(#ga7)"/>
<rect x="124.0" y="58.00" width="416.0" height="5.60" fill="url(#ga8)"/>
<rect x="124.0" y="63.00" width="416.0" height="5.60" fill="url(#ga9)"/>
<rect x="124.0" y="68.00" width="416.0" height="5.60" fill="url(#ga10)"/>
<rect x="124.0" y="73.00" width="416.0" height="5.60" fill="url(#ga11)"/>
<rect x="124.0" y="78.00" width="416.0" height="5.60" fill="url(#ga12)"/>
<rect x="124.0" y="83.00" width="416.0" height="5.60" fill="url(#ga13)"/>
<rect x="124.0" y="88.00" width="416.0" height="5.60" fill="url(#ga14)"/>
<rect x="124.0" y="93.00" width="416.0" height="5.60" fill="url(#ga15)"/>
<rect x="124.0" y="98.00" width="416.0" height="5.60" fill="url(#ga16)"/>
<rect x="124.0" y="103.00" width="416.0" height="5.60" fill="url(#ga17)"/>
<rect x="124.0" y="108.00" width="416.0" height="5.60" fill="url(#ga18)"/>
<rect x="124.0" y="113.00" width="416.0" height="5.60" fill="url(#ga19)"/>
<rect x="124.0" y="118.00" width="416.0" height="5.60" fill="url(#ga20)"/>
<rect x="124.0" y="123.00" width="416.0" height="5.60" fill="url(#ga21)"/>
<rect x="124.0" y="128.00" width="416.0" height="5.60" fill="url(#ga22)"/>
<rect x="124.0" y="133.00" width="416.0" height="5.60" fill="url(#ga23)"/>
<rect x="124.0" y="138.00" width="416.0" height="5.60" fill="url(#ga24)"/>
<rect x="124.0" y="143.00" width="416.0" height="5.60" fill="url(#ga25)"/>
<rect x="124.0" y="148.00" width="416.0" height="5.60" fill="url(#ga26)"/>
<rect x="124.0" y="153.00" width="416.0" height="5.60" fill="url(#ga27)"/>
<rect x="124.0" y="158.00" width="416.0" height="5.60" fill="url(#ga28)"/>
<rect x="124.0" y="163.00" width="416.0" height="5.60" fill="url(#ga29)"/>
<rect x="124.0" y="168.00" width="416.0" height="5.60" fill="url(#ga30)"/>
<rect x="124.0" y="173.00" width="416.0" height="5.60" fill="url(#ga31)"/>
<rect x="124.0" y="178.00" width="416.0" height="5.60" fill="url(#ga32)"/>
<rect x="124.0" y="183.00" width="416.0" height="5.60" fill="url(#ga33)"/>
<rect x="124.0" y="188.00" width="416.0" height="5.60" fill="url(#ga34)"/>
<rect x="124.0" y="193.00" width="416.0" height="5.60" fill="url(#ga35)"/>
<rect x="124.0" y="198.00" width="416.0" height="5.60" fill="url(#ga36)"/>
<rect x="124.0" y="203.00" width="416.0" height="5.60" fill="url(#ga37)"/>
<rect x="124.0" y="208.00" width="416.0" height="5.60" fill="url(#ga38)"/>
<rect x="124.0" y="213.00" width="416.0" height="5.60" fill="url(#ga39)"/>
<rect x="124.0" y="218.00" width="416.0" height="5.60" fill="url(#ga40)"/>
<rect x="124.0" y="223.00" width="416.0" height="5.60" fill="url(#ga41)"/>
<rect x="124.0" y="228.00" width="416.0" height="5.60" fill="url(#ga42)"/>
<rect x="124.0" y="233.00" width="416.0" height="5.60" fill="url(#ga43)"/>
<rect x="124.0" y="238.00" width="416.0" height="5.60" fill="url(#ga44)"/>
<rect x="124.0" y="243.00" width="416.0" height="5.60" fill="url(#ga45)"/>
<rect x="124.0" y="248.00" width="416.0" height="5.60" fill="url(#ga46)"/>
<rect x="124.0" y="253.00" width="416.0" height="5.60" fill="url(#ga47)"/>
<rect x="124.0" y="258.00" width="416.0" height="5.60" fill="url(#ga48)"/>
<rect x="124.0" y="263.00" width="416.0" height="5.60" fill="url(#ga49)"/>
<rect x="124.0" y="268.00" width="416.0" height="5.60" fill="url(#ga50)"/>
<rect x="124.0" y="273.00" width="416.0" height="5.60" fill="url(#ga51)"/>
<rect x="124.0" y="278.00" width="416.0" height="5.60" fill="url(#ga52)"/>
<rect x="124.0" y="283.00" width="416.0" height="5.60" fill="url(#ga53)"/>
<rect x="124.0" y="288.00" width="416.0" height="5.60" fill="url(#ga54)"/>
<rect x="124.0" y="293.00" width="416.0" height="5.60" fill="url(#ga55)"/>
<rect x="124.0" y="298.00" width="416.0" height="5.60" fill="url(#ga56)"/>
<rect x="124.0" y="303.00" width="416.0" height="5.60" fill="url(#ga57)"/>
<rect x="124.0" y="308.00" width="416.0" height="5.60" fill="url(#ga58)"/>
<rect x="124.0" y="313.00" width="416.0" height="5.60" fill="url(#ga59)"/>
<rect x="124.0" y="318.00" width="416.0" height="5.60" fill="url(#ga60)"/>
<rect x="124.0" y="323.00" width="416.0" height="5.60" fill="url(#ga61)"/>
<rect x="124.0" y="328.00" width="416.0" height="5.60" fill="url(#ga62)"/>
<rect x="124.0" y="333.00" width="416.0" height="5.60" fill="url(#ga63)"/>
<rect x="124.0" y="338.00" width="416.0" height="5.60" fill="url(#ga64)"/>
<rect x="124.0" y="343.00" width="416.0" height="5.60" fill="url(#ga65)"/>
<rect x="124.0" y="348.00" width="416.0" height="5.60" fill="url(#ga66)"/>
<rect x="124.0" y="353.00" width="416.0" height="5.60" fill="url(#ga67)"/>
<rect x="124.0" y="358.00" width="416.0" height="5.60" fill="url(#ga68)"/>
<rect x="124.0" y="363.00" width="416.0" height="5.60" fill="url(#ga69)"/>
<rect x="124.0" y="368.00" width="416.0" height="5.60" fill="url(#ga70)"/>
<rect x="124.0" y="373.00" width="416.0" height="5.60" fill="url(#ga71)"/>
<rect x="124.0" y="378.00" width="416.0" height="5.60" fill="url(#ga72)"/>
<rect x="124.0" y="383.00" width="416.0" height="5.60" fill="url(#ga73)"/>
<rect x="124.0" y="388.00" width="416.0" height="5.60" fill="url(#ga74)"/>
<rect x="124.0" y="393.00" width="416.0" height="3.60" fill="url(#ga75)"/>
<line x1="124.0" y1="356.0" x2="540.0" y2="356.0" stroke="#5c6668" stroke-width="2.4" stroke-dasharray="5 3"/>
<line x1="303.7" y1="18.0" x2="303.7" y2="396.0" stroke="#0c1a0c" stroke-width="3" stroke-dasharray="2 1"/>
<rect x="124.0" y="18.0" width="416.0" height="378.0" fill="none" stroke="#2b3a2b" stroke-width="1.6" />
<line x1="114.5" y1="61.0" x2="124.0" y2="61.0" stroke="#2b2b2b" stroke-width="1.6" />
<text x="111.5" y="68.4" font-size="20.7" font-family="'Liberation Sans', Arial, sans-serif" fill="#333" stroke="#333" stroke-width="0.75" text-anchor="end">1000</text>
<line x1="114.5" y1="152.0" x2="124.0" y2="152.0" stroke="#2b2b2b" stroke-width="1.6" />
<text x="111.5" y="159.4" font-size="20.7" font-family="'Liberation Sans', Arial, sans-serif" fill="#333" stroke="#333" stroke-width="0.75" text-anchor="end">100</text>
<line x1="114.5" y1="243.0" x2="124.0" y2="243.0" stroke="#2b2b2b" stroke-width="1.6" />
<text x="111.5" y="250.4" font-size="20.7" font-family="'Liberation Sans', Arial, sans-serif" fill="#333" stroke="#333" stroke-width="0.75" text-anchor="end">10</text>
<line x1="114.5" y1="334.0" x2="124.0" y2="334.0" stroke="#2b2b2b" stroke-width="1.6" />
<text x="111.5" y="341.4" font-size="20.7" font-family="'Liberation Sans', Arial, sans-serif" fill="#333" stroke="#333" stroke-width="0.75" text-anchor="end">1</text>
<line x1="120.0" y1="381.6" x2="124.0" y2="381.6" stroke="#1e2e1e" stroke-width="1.4" />
<line x1="120.0" y1="370.2" x2="124.0" y2="370.2" stroke="#1e2e1e" stroke-width="1.4" />
<line x1="120.0" y1="361.4" x2="124.0" y2="361.4" stroke="#1e2e1e" stroke-width="1.4" />
<line x1="120.0" y1="354.2" x2="124.0" y2="354.2" stroke="#1e2e1e" stroke-width="1.4" />
<line x1="120.0" y1="348.1" x2="124.0" y2="348.1" stroke="#1e2e1e" stroke-width="1.4" />
<line x1="120.0" y1="342.8" x2="124.0" y2="342.8" stroke="#1e2e1e" stroke-width="1.4" />
<line x1="120.0" y1="338.2" x2="124.0" y2="338.2" stroke="#1e2e1e" stroke-width="1.4" />
<line x1="120.0" y1="306.6" x2="124.0" y2="306.6" stroke="#1e2e1e" stroke-width="1.4" />
<line x1="120.0" y1="290.6" x2="124.0" y2="290.6" stroke="#1e2e1e" stroke-width="1.4" />
<line x1="120.0" y1="279.2" x2="124.0" y2="279.2" stroke="#1e2e1e" stroke-width="1.4" />
<line x1="120.0" y1="270.4" x2="124.0" y2="270.4" stroke="#1e2e1e" stroke-width="1.4" />
<line x1="120.0" y1="263.2" x2="124.0" y2="263.2" stroke="#1e2e1e" stroke-width="1.4" />
<line x1="120.0" y1="257.1" x2="124.0" y2="257.1" stroke="#1e2e1e" stroke-width="1.4" />
<line x1="120.0" y1="251.8" x2="124.0" y2="251.8" stroke="#1e2e1e" stroke-width="1.4" />
<line x1="120.0" y1="247.2" x2="124.0" y2="247.2" stroke="#1e2e1e" stroke-width="1.4" />
<line x1="120.0" y1="215.6" x2="124.0" y2="215.6" stroke="#1e2e1e" stroke-width="1.4" />
<line x1="120.0" y1="199.6" x2="124.0" y2="199.6" stroke="#1e2e1e" stroke-width="1.4" />
<line x1="120.0" y1="188.2" x2="124.0" y2="188.2" stroke="#1e2e1e" stroke-width="1.4" />
<line x1="120.0" y1="179.4" x2="124.0" y2="179.4" stroke="#1e2e1e" stroke-width="1.4" />
<line x1="120.0" y1="172.2" x2="124.0" y2="172.2" stroke="#1e2e1e" stroke-width="1.4" />
<line x1="120.0" y1="166.1" x2="124.0" y2="166.1" stroke="#1e2e1e" stroke-width="1.4" />
<line x1="120.0" y1="160.8" x2="124.0" y2="160.8" stroke="#1e2e1e" stroke-width="1.4" />
<line x1="120.0" y1="156.2" x2="124.0" y2="156.2" stroke="#1e2e1e" stroke-width="1.4" />
<line x1="120.0" y1="124.6" x2="124.0" y2="124.6" stroke="#1e2e1e" stroke-width="1.4" />
<line x1="120.0" y1="108.6" x2="124.0" y2="108.6" stroke="#1e2e1e" stroke-width="1.4" />
<line x1="120.0" y1="97.2" x2="124.0" y2="97.2" stroke="#1e2e1e" stroke-width="1.4" />
<line x1="120.0" y1="88.4" x2="124.0" y2="88.4" stroke="#1e2e1e" stroke-width="1.4" />
<line x1="120.0" y1="81.2" x2="124.0" y2="81.2" stroke="#1e2e1e" stroke-width="1.4" />
<line x1="120.0" y1="75.1" x2="124.0" y2="75.1" stroke="#1e2e1e" stroke-width="1.4" />
<line x1="120.0" y1="69.8" x2="124.0" y2="69.8" stroke="#1e2e1e" stroke-width="1.4" />
<line x1="120.0" y1="65.2" x2="124.0" y2="65.2" stroke="#1e2e1e" stroke-width="1.4" />
<line x1="120.0" y1="33.6" x2="124.0" y2="33.6" stroke="#1e2e1e" stroke-width="1.4" />
<line x1="124.0" y1="396.0" x2="124.0" y2="402.0" stroke="#2b2b2b" stroke-width="1.6" />
<text x="124.0" y="425.8" font-size="20.7" font-family="'Liberation Sans', Arial, sans-serif" fill="#333" stroke="#333" stroke-width="0.75" text-anchor="middle">550</text>
<line x1="195.8" y1="396.0" x2="195.8" y2="400.0" stroke="#2b2b2b" stroke-width="1.6" />
<line x1="267.5" y1="396.0" x2="267.5" y2="402.0" stroke="#2b2b2b" stroke-width="1.6" />
<text x="267.5" y="425.8" font-size="20.7" font-family="'Liberation Sans', Arial, sans-serif" fill="#333" stroke="#333" stroke-width="0.75" text-anchor="middle">600</text>
<line x1="339.2" y1="396.0" x2="339.2" y2="400.0" stroke="#2b2b2b" stroke-width="1.6" />
<line x1="411.0" y1="396.0" x2="411.0" y2="402.0" stroke="#2b2b2b" stroke-width="1.6" />
<text x="411.0" y="425.8" font-size="20.7" font-family="'Liberation Sans', Arial, sans-serif" fill="#333" stroke="#333" stroke-width="0.75" text-anchor="middle">650</text>
<line x1="482.8" y1="396.0" x2="482.8" y2="400.0" stroke="#2b2b2b" stroke-width="1.6" />
<text x="196.4" y="457.4" font-size="28.1" font-family="'Liberation Sans', Arial, sans-serif" fill="#2a2a2a" stroke="#2a2a2a" stroke-width="0.75">Probe Wavelength (nm)</text>
<text x="60.0" y="223.8" font-size="27.7" font-family="'Liberation Sans', Arial, sans-serif" fill="#2a2a2a" stroke="#2a2a2a" stroke-width="0.75" text-anchor="middle" transform="rotate(-90 60 223.8)">Pump-Probe Delay (ps)</text>
<text x="10.6" y="45.3" font-size="50" font-family="'Liberation Serif', 'Times New Roman', serif" fill="#111">(a)</text>
<defs><linearGradient id="cba" x1="0" x2="0" y1="0" y2="1"><stop offset="0" stop-color="#ffffff"/><stop offset="0.035" stop-color="#ffffff"/><stop offset="0.045" stop-color="#4a4898"/><stop offset="0.15" stop-color="#4a4a9e"/><stop offset="0.17" stop-color="#4a7ec2"/><stop offset="0.2" stop-color="#4f9ad0"/><stop offset="0.23" stop-color="#60c0e2"/><stop offset="0.29" stop-color="#64c0da"/><stop offset="0.33" stop-color="#78c0a0"/><stop offset="0.37" stop-color="#6eb444"/><stop offset="0.56" stop-color="#6ab040"/><stop offset="0.6" stop-color="#a8c632"/><stop offset="0.66" stop-color="#c0cc2c"/><stop offset="0.7" stop-color="#f8e020"/><stop offset="0.75" stop-color="#f4c020"/><stop offset="0.8" stop-color="#f09028"/><stop offset="0.86" stop-color="#e84830"/><stop offset="0.945" stop-color="#e03030"/><stop offset="0.97" stop-color="#401010"/><stop offset="1" stop-color="#200000"/></linearGradient></defs>
<rect x="556.0" y="143.5" width="27.0" height="182.0" fill="url(#cba)" stroke="#111" stroke-width="2" />
<line x1="583.0" y1="149.2" x2="590.0" y2="149.2" stroke="#111" stroke-width="2" />
<text x="0" y="0" transform="translate(596.8 156.7) scale(1.030 1)" font-size="21" font-family="'Liberation Sans', Arial, sans-serif" fill="#333" stroke="#333" stroke-width="0.75">0.20</text>
<line x1="583.0" y1="192.0" x2="590.0" y2="192.0" stroke="#111" stroke-width="2" />
<text x="0" y="0" transform="translate(596.8 199.5) scale(1.030 1)" font-size="21" font-family="'Liberation Sans', Arial, sans-serif" fill="#333" stroke="#333" stroke-width="0.75">0.06</text>
<line x1="583.0" y1="234.6" x2="590.0" y2="234.6" stroke="#111" stroke-width="2" />
<text x="0" y="0" transform="translate(596.8 242.1) scale(1.030 1)" font-size="21" font-family="'Liberation Sans', Arial, sans-serif" fill="#333" stroke="#333" stroke-width="0.75">-0.07</text>
<line x1="583.0" y1="276.3" x2="590.0" y2="276.3" stroke="#111" stroke-width="2" />
<text x="0" y="0" transform="translate(596.8 283.8) scale(1.030 1)" font-size="21" font-family="'Liberation Sans', Arial, sans-serif" fill="#333" stroke="#333" stroke-width="0.75">-0.21</text>
<line x1="583.0" y1="319.0" x2="590.0" y2="319.0" stroke="#111" stroke-width="2" />
<text x="0" y="0" transform="translate(596.8 326.5) scale(1.030 1)" font-size="21" font-family="'Liberation Sans', Arial, sans-serif" fill="#333" stroke="#333" stroke-width="0.75">-0.35</text>
<text x="558.2" y="119.5" font-size="21.9" font-family="'Liberation Sans', Arial, sans-serif" fill="#1a1a1a" stroke="#1a1a1a" stroke-width="0.75" font-weight="bold">Δ mOD</text>
<line x1="751.5" y1="135.3" x2="1192.0" y2="135.3" stroke="#505060" stroke-width="2" stroke-dasharray="5 4"/>
<polyline points="752.0,141.6 757.0,145.7 761.0,142.0 765.3,143.7 770.0,145.0 775.5,147.7 780.0,144.0 785.6,140.6 790.0,138.0 794.0,136.0 797.8,130.5 800.8,153.8 806.0,150.0 812.0,148.7 818.0,147.0 824.0,146.0 830.3,142.6 836.4,158.9 840.0,156.0 844.5,153.8 848.0,160.0 851.0,166.0 854.6,169.0 858.0,164.0 861.7,158.9 865.0,163.0 868.9,165.0 873.0,161.0 877.0,163.0 880.0,158.0 884.0,160.0 887.0,156.9 891.0,154.0 895.0,151.0 899.3,148.7 903.0,152.0 907.4,153.8 911.0,146.0 914.0,141.0 917.6,136.5 921.0,140.0 924.0,133.0 927.7,130.5 931.0,133.0 935.0,127.7 940.0,129.0 945.0,126.0 951.2,127.7 956.0,125.0 961.0,129.0 967.5,124.5 972.0,130.0 977.2,144.0 983.0,140.0 990.2,144.0 996.0,139.0 1003.2,137.5 1008.0,142.0 1013.0,147.2 1018.0,138.0 1022.7,134.2 1027.0,143.0 1032.5,150.5 1037.0,135.0 1042.2,121.2 1045.5,150.5 1050.0,143.0 1054.0,138.0 1058.5,134.2 1063.0,131.0 1068.2,127.7 1073.0,136.0 1078.0,144.0 1083.0,139.0 1087.7,137.5 1092.0,148.0 1097.5,157.0 1102.0,162.0 1107.2,170.0 1112.0,175.0 1117.0,179.7 1122.0,187.0 1126.7,192.7 1130.0,215.5 1135.0,209.0 1139.7,205.7 1144.0,212.0 1149.5,222.0 1154.0,212.0 1158.0,218.0 1162.5,205.7 1167.0,209.0 1171.0,200.0 1175.5,196.0 1180.0,190.0 1185.2,183.0 1188.0,190.0 1191.7,192.7" fill="none" stroke="#f2823a" stroke-width="2.6" stroke-linejoin="round" stroke-linecap="round" />
<polyline points="752.0,113.0 759.0,123.0 767.0,117.0 775.5,122.0 782.6,116.0 788.7,122.0 795.8,120.0 803.0,124.0 810.0,121.0 818.0,127.0 826.0,130.5 834.0,133.0 842.5,137.6 848.0,143.0 854.6,148.7 860.0,145.0 864.8,146.7 868.0,156.0 873.0,169.0 879.0,182.0 885.0,195.4 890.0,206.0 895.0,217.8 898.0,229.0 901.3,240.0 907.0,251.0 913.5,262.4 919.0,272.0 925.7,282.7 928.5,279.0 931.8,276.6 935.0,280.0 938.0,280.7 941.5,280.5 946.0,271.0 951.2,254.5 956.0,243.0 961.0,234.0 967.5,222.0 974.0,200.0 980.5,176.5 985.0,166.0 988.6,157.0 993.5,160.2 1000.0,153.7 1006.0,159.0 1013.0,170.0 1019.0,184.0 1026.0,202.5 1032.0,220.0 1039.0,241.5 1046.0,256.0 1055.2,274.0 1058.0,278.0 1061.7,282.0 1066.0,275.0 1071.5,270.7 1080.0,262.0 1087.7,251.2 1094.0,240.0 1100.7,225.2 1107.0,210.0 1113.7,189.5 1118.0,172.0 1123.5,150.5 1128.0,140.0 1133.2,127.7 1138.0,110.0 1143.0,88.7 1149.5,88.7 1154.0,75.0 1159.2,64.4 1163.0,62.0 1167.4,59.5 1170.0,66.0 1173.9,75.7 1178.0,82.0 1182.0,88.7 1186.0,95.0 1191.7,100.0" fill="none" stroke="#55559f" stroke-width="2.6" stroke-linejoin="round" stroke-linecap="round" />
<polyline points="752.0,123.4 759.0,128.4 764.0,125.0 769.4,124.4 775.0,127.0 781.5,128.4 786.0,124.0 791.7,122.3 800.0,124.0 805.0,122.0 810.0,122.3 816.0,127.0 822.0,132.5 828.0,127.4 834.0,131.0 840.4,135.5 846.0,139.0 852.6,142.6 858.0,144.0 864.8,145.7 868.0,152.0 870.9,158.9 877.0,162.0 883.0,165.0 889.0,175.0 895.3,187.3 899.0,196.0 903.4,205.6 909.0,213.0 915.6,221.8 921.0,233.0 927.7,246.2 932.0,252.0 935.9,257.4 940.0,262.0 944.7,264.2 949.0,262.0 954.5,257.7 961.0,248.0 967.5,238.2 974.0,224.0 980.5,209.0 987.0,187.0 993.5,163.5 998.0,152.0 1003.2,140.7 1008.0,132.0 1013.0,124.5 1016.0,127.0 1019.5,127.7 1023.0,123.0 1026.0,127.7 1029.0,135.0 1032.5,144.0 1039.0,153.0 1045.5,163.5 1052.0,182.0 1058.5,202.5 1065.0,222.0 1071.5,241.5 1076.0,262.0 1081.2,283.7 1086.0,297.0 1091.0,309.7 1096.0,328.0 1100.7,345.5 1105.0,347.0 1110.5,348.7 1114.0,342.0 1117.0,332.5 1122.0,305.0 1126.7,274.0 1133.0,240.0 1139.7,209.0 1144.0,184.0 1149.5,157.0 1152.0,140.0 1156.0,124.5 1162.0,118.0 1169.0,113.1 1176.0,110.0 1182.0,106.6 1187.0,103.0 1191.7,100.0" fill="none" stroke="#35824a" stroke-width="2.6" stroke-linejoin="round" stroke-linecap="round" />
<line x1="936.8" y1="29.7" x2="936.8" y2="382.0" stroke="#1a1a1a" stroke-width="2.6" stroke-dasharray="2 1.5"/>
<rect x="751.5" y="29.7" width="440.5" height="352.3" fill="none" stroke="#555" stroke-width="2.8" />
<line x1="827.2" y1="382.0" x2="827.2" y2="378.0" stroke="#3c3c3c" stroke-width="2" />
<line x1="827.2" y1="29.7" x2="827.2" y2="33.7" stroke="#3c3c3c" stroke-width="2" />
<line x1="903.0" y1="382.0" x2="903.0" y2="376.0" stroke="#3c3c3c" stroke-width="2" />
<line x1="903.0" y1="29.7" x2="903.0" y2="35.7" stroke="#3c3c3c" stroke-width="2" />
<line x1="978.8" y1="382.0" x2="978.8" y2="378.0" stroke="#3c3c3c" stroke-width="2" />
<line x1="978.8" y1="29.7" x2="978.8" y2="33.7" stroke="#3c3c3c" stroke-width="2" />
<line x1="1054.5" y1="382.0" x2="1054.5" y2="376.0" stroke="#3c3c3c" stroke-width="2" />
<line x1="1054.5" y1="29.7" x2="1054.5" y2="35.7" stroke="#3c3c3c" stroke-width="2" />
<line x1="1130.2" y1="382.0" x2="1130.2" y2="378.0" stroke="#3c3c3c" stroke-width="2" />
<line x1="1130.2" y1="29.7" x2="1130.2" y2="33.7" stroke="#3c3c3c" stroke-width="2" />
<line x1="751.5" y1="347.1" x2="757.5" y2="347.1" stroke="#3c3c3c" stroke-width="2" />
<line x1="1192.0" y1="347.1" x2="1186.0" y2="347.1" stroke="#3c3c3c" stroke-width="2" />
<line x1="751.5" y1="311.8" x2="755.5" y2="311.8" stroke="#3c3c3c" stroke-width="2" />
<line x1="1192.0" y1="311.8" x2="1188.0" y2="311.8" stroke="#3c3c3c" stroke-width="2" />
<line x1="751.5" y1="276.5" x2="757.5" y2="276.5" stroke="#3c3c3c" stroke-width="2" />
<line x1="1192.0" y1="276.5" x2="1186.0" y2="276.5" stroke="#3c3c3c" stroke-width="2" />
<line x1="751.5" y1="241.2" x2="755.5" y2="241.2" stroke="#3c3c3c" stroke-width="2" />
<line x1="1192.0" y1="241.2" x2="1188.0" y2="241.2" stroke="#3c3c3c" stroke-width="2" />
<line x1="751.5" y1="205.9" x2="757.5" y2="205.9" stroke="#3c3c3c" stroke-width="2" />
<line x1="1192.0" y1="205.9" x2="1186.0" y2="205.9" stroke="#3c3c3c" stroke-width="2" />
<line x1="751.5" y1="170.6" x2="755.5" y2="170.6" stroke="#3c3c3c" stroke-width="2" />
<line x1="1192.0" y1="170.6" x2="1188.0" y2="170.6" stroke="#3c3c3c" stroke-width="2" />
<line x1="751.5" y1="135.3" x2="757.5" y2="135.3" stroke="#3c3c3c" stroke-width="2" />
<line x1="1192.0" y1="135.3" x2="1186.0" y2="135.3" stroke="#3c3c3c" stroke-width="2" />
<line x1="751.5" y1="100.0" x2="755.5" y2="100.0" stroke="#3c3c3c" stroke-width="2" />
<line x1="1192.0" y1="100.0" x2="1188.0" y2="100.0" stroke="#3c3c3c" stroke-width="2" />
<line x1="751.5" y1="64.7" x2="757.5" y2="64.7" stroke="#3c3c3c" stroke-width="2" />
<line x1="1192.0" y1="64.7" x2="1186.0" y2="64.7" stroke="#3c3c3c" stroke-width="2" />
<text x="0" y="0" transform="translate(742.0 71.9) scale(0.970 1)" font-size="21.5" font-family="'Liberation Sans', Arial, sans-serif" fill="#333" stroke="#333" stroke-width="0.75" text-anchor="end">0.1</text>
<text x="0" y="0" transform="translate(742.0 142.5) scale(0.970 1)" font-size="21.5" font-family="'Liberation Sans', Arial, sans-serif" fill="#333" stroke="#333" stroke-width="0.75" text-anchor="end">0.0</text>
<text x="0" y="0" transform="translate(742.0 213.1) scale(0.970 1)" font-size="21.5" font-family="'Liberation Sans', Arial, sans-serif" fill="#333" stroke="#333" stroke-width="0.75" text-anchor="end">-0.1</text>
<text x="0" y="0" transform="translate(742.0 283.7) scale(0.970 1)" font-size="21.5" font-family="'Liberation Sans', Arial, sans-serif" fill="#333" stroke="#333" stroke-width="0.75" text-anchor="end">-0.2</text>
<text x="0" y="0" transform="translate(742.0 354.3) scale(0.970 1)" font-size="21.5" font-family="'Liberation Sans', Arial, sans-serif" fill="#333" stroke="#333" stroke-width="0.75" text-anchor="end">-0.3</text>
<text x="0" y="0" transform="translate(751.5 407.8) scale(0.970 1)" font-size="21.5" font-family="'Liberation Sans', Arial, sans-serif" fill="#333" stroke="#333" stroke-width="0.75" text-anchor="middle">550</text>
<text x="0" y="0" transform="translate(903.0 407.8) scale(0.970 1)" font-size="21.5" font-family="'Liberation Sans', Arial, sans-serif" fill="#333" stroke="#333" stroke-width="0.75" text-anchor="middle">600</text>
<text x="0" y="0" transform="translate(1054.5 407.8) scale(0.970 1)" font-size="21.5" font-family="'Liberation Sans', Arial, sans-serif" fill="#333" stroke="#333" stroke-width="0.75" text-anchor="middle">650</text>
<text x="848.0" y="440.0" font-size="23.1" font-family="'Liberation Sans', Arial, sans-serif" fill="#2a2a2a" stroke="#2a2a2a" stroke-width="0.75">Probe Wavelength (nm)</text>
<text x="0" y="0" transform="translate(698.5 198.6) rotate(-90)" font-size="23" font-family="'Liberation Sans', Arial, sans-serif" fill="#2a2a2a" stroke="#2a2a2a" stroke-width="0.75" text-anchor="middle">Δ mOD</text>
<text x="647.6" y="50.5" font-size="50" font-family="'Liberation Serif', 'Times New Roman', serif" fill="#111">(b)</text>
<line x1="761.0" y1="45.8" x2="801.6" y2="45.8" stroke="#55559f" stroke-width="3" />
<line x1="761.0" y1="73.0" x2="801.6" y2="73.0" stroke="#f2823a" stroke-width="3" />
<line x1="761.0" y1="95.8" x2="801.6" y2="95.8" stroke="#35824a" stroke-width="3" />
<text x="807.7" y="52.3" font-size="18" font-family="'Liberation Sans', Arial, sans-serif" fill="#333" stroke="#333" stroke-width="0.75">MoS<tspan font-size="11" dy="5">2</tspan></text>
<text x="807.7" y="79.5" font-size="18" font-family="'Liberation Sans', Arial, sans-serif" fill="#333" stroke="#333" stroke-width="0.75">Pentacene</text>
<text x="807.7" y="102.3" font-size="18" font-family="'Liberation Sans', Arial, sans-serif" fill="#333" stroke="#333" stroke-width="0.75">MoS<tspan font-size="11" dy="5">2</tspan><tspan dy="-5">-pentacene</tspan></text>
<text x="962.0" y="71.5" font-size="19.7" font-family="'Liberation Sans', Arial, sans-serif" fill="#333" stroke="#333" stroke-width="0.75">Delay time = 500 fs</text>
<text x="940.0" y="368.5" font-size="19.7" font-family="'Liberation Sans', Arial, sans-serif" fill="#333" stroke="#333" stroke-width="0.75">612 nm</text>
<defs><linearGradient id="gc0" x1="0" x2="1" y1="0" y2="0"><stop offset="0.0000" stop-color="#fcae04"/><stop offset="0.0306" stop-color="#febf01"/><stop offset="0.0524" stop-color="#ffe600"/><stop offset="0.0917" stop-color="#f4f800"/><stop offset="0.0961" stop-color="#e9f900"/><stop offset="0.1004" stop-color="#b7fd00"/><stop offset="0.1048" stop-color="#20f900"/><stop offset="0.1092" stop-color="#08f800"/><stop offset="0.2271" stop-color="#0ef800"/><stop offset="0.2314" stop-color="#94fe00"/><stop offset="0.2358" stop-color="#e8f900"/><stop offset="0.2445" stop-color="#f9f500"/><stop offset="0.2795" stop-color="#ffcd00"/><stop offset="0.3013" stop-color="#fcae04"/><stop offset="1.0000" stop-color="#fcae04"/></linearGradient>
<linearGradient id="gc1" x1="0" x2="1" y1="0" y2="0"><stop offset="0.0000" stop-color="#fcae04"/><stop offset="0.0306" stop-color="#fec301"/><stop offset="0.0524" stop-color="#ffe800"/><stop offset="0.0873" stop-color="#f8f800"/><stop offset="0.0961" stop-color="#e3fa00"/><stop offset="0.1004" stop-color="#62fc00"/><stop offset="0.1048" stop-color="#09f800"/><stop offset="0.2271" stop-color="#0bf800"/><stop offset="0.2358" stop-color="#e5fa00"/><stop offset="0.2445" stop-color="#f9f500"/><stop offset="0.2795" stop-color="#ffcf00"/><stop offset="0.3013" stop-color="#fcae04"/><stop offset="1.0000" stop-color="#fcae04"/></linearGradient>
<linearGradient id="gc2" x1="0" x2="1" y1="0" y2="0"><stop offset="0.0000" stop-color="#fcae04"/><stop offset="0.0262" stop-color="#fec001"/><stop offset="0.0480" stop-color="#ffe600"/><stop offset="0.0873" stop-color="#f2f800"/><stop offset="0.0917" stop-color="#e7f900"/><stop offset="0.0961" stop-color="#a2ff00"/><stop offset="0.1004" stop-color="#0ff800"/><stop offset="0.2271" stop-color="#08f800"/><stop offset="0.2314" stop-color="#53fb00"/><stop offset="0.2358" stop-color="#defa00"/><stop offset="0.2445" stop-color="#f9f600"/><stop offset="0.2795" stop-color="#ffd100"/><stop offset="0.3013" stop-color="#fcae04"/><stop offset="1.0000" stop-color="#fcae04"/></linearGradient>
<linearGradient id="gc3" x1="0" x2="1" y1="0" y2="0"><stop offset="0.0000" stop-color="#fcaf04"/><stop offset="0.0262" stop-color="#ffc501"/><stop offset="0.0480" stop-color="#ffe800"/><stop offset="0.0830" stop-color="#f7f800"/><stop offset="0.0917" stop-color="#d4fb00"/><stop offset="0.0961" stop-color="#46fb00"/><stop offset="0.1004" stop-color="#08f800"/><stop offset="0.2271" stop-color="#08f800"/><stop offset="0.2314" stop-color="#33fa00"/><stop offset="0.2358" stop-color="#c6fc00"/><stop offset="0.2402" stop-color="#eff900"/><stop offset="0.2795" stop-color="#ffd300"/><stop offset="0.3013" stop-color="#fcae04"/><stop offset="1.0000" stop-color="#fcae04"/></linearGradient>
<linearGradient id="gc4" x1="0" x2="1" y1="0" y2="0"><stop offset="0.0000" stop-color="#fcaf04"/><stop offset="0.0262" stop-color="#ffca00"/><stop offset="0.0437" stop-color="#ffe700"/><stop offset="0.0830" stop-color="#f0f900"/><stop offset="0.0873" stop-color="#e5f900"/><stop offset="0.0917" stop-color="#88fe00"/><stop offset="0.0961" stop-color="#0cf800"/><stop offset="0.2271" stop-color="#08f800"/><stop offset="0.2314" stop-color="#12f800"/><stop offset="0.2358" stop-color="#adfe00"/><stop offset="0.2402" stop-color="#ecf900"/><stop offset="0.2533" stop-color="#fbf100"/><stop offset="0.2838" stop-color="#ffcb00"/><stop offset="0.3013" stop-color="#fcae04"/><stop offset="1.0000" stop-color="#fcae04"/></linearGradient>
<linearGradient id="gc5" x1="0" x2="1" y1="0" y2="0"><stop offset="0.0000" stop-color="#fcaf04"/><stop offset="0.0262" stop-color="#ffd000"/><stop offset="0.0480" stop-color="#feeb00"/><stop offset="0.0786" stop-color="#f5f800"/><stop offset="0.0830" stop-color="#eaf900"/><stop offset="0.0873" stop-color="#bffc00"/><stop offset="0.0917" stop-color="#2bf900"/><stop offset="0.0961" stop-color="#08f800"/><stop offset="0.2314" stop-color="#0df800"/><stop offset="0.2358" stop-color="#91fe00"/><stop offset="0.2402" stop-color="#e8f900"/><stop offset="0.2489" stop-color="#f9f500"/><stop offset="0.2838" stop-color="#ffcd00"/><stop offset="0.3057" stop-color="#fcae04"/><stop offset="1.0000" stop-color="#fcae04"/></linearGradient>
<linearGradient id="gc6" x1="0" x2="1" y1="0" y2="0"><stop offset="0.0000" stop-color="#fcaf04"/><stop offset="0.0262" stop-color="#ffd700"/><stop offset="0.0742" stop-color="#f8f800"/><stop offset="0.0830" stop-color="#e3fa00"/><stop offset="0.0873" stop-color="#6cfc00"/><stop offset="0.0917" stop-color="#0af800"/><stop offset="0.2314" stop-color="#0af800"/><stop offset="0.2402" stop-color="#e5fa00"/><stop offset="0.2489" stop-color="#f9f500"/><stop offset="0.2838" stop-color="#ffcf00"/><stop offset="0.3057" stop-color="#fcae04"/><stop offset="1.0000" stop-color="#fcae04"/></linearGradient>
<linearGradient id="gc7" x1="0" x2="1" y1="0" y2="0"><stop offset="0.0000" stop-color="#fcb104"/><stop offset="0.0393" stop-color="#ffe900"/><stop offset="0.0742" stop-color="#f3f800"/><stop offset="0.0786" stop-color="#e8f900"/><stop offset="0.0830" stop-color="#aafe00"/><stop offset="0.0873" stop-color="#10f800"/><stop offset="0.2314" stop-color="#08f800"/><stop offset="0.2358" stop-color="#50fb00"/><stop offset="0.2402" stop-color="#dcfa00"/><stop offset="0.2489" stop-color="#f9f600"/><stop offset="0.2838" stop-color="#ffd100"/><stop offset="0.3057" stop-color="#fcae04"/><stop offset="1.0000" stop-color="#fcae04"/></linearGradient>
<linearGradient id="gc8" x1="0" x2="1" y1="0" y2="0"><stop offset="0.0000" stop-color="#fdb303"/><stop offset="0.0349" stop-color="#ffe800"/><stop offset="0.0699" stop-color="#f7f800"/><stop offset="0.0786" stop-color="#dcfa00"/><stop offset="0.0830" stop-color="#51fb00"/><stop offset="0.0873" stop-color="#08f800"/><stop offset="0.2314" stop-color="#08f800"/><stop offset="0.2358" stop-color="#30fa00"/><stop offset="0.2402" stop-color="#c3fc00"/><stop offset="0.2445" stop-color="#eff900"/><stop offset="0.2795" stop-color="#ffdc00"/><stop offset="0.3057" stop-color="#fcae04"/><stop offset="1.0000" stop-color="#fcae04"/></linearGradient>
<linearGradient id="gc9" x1="0" x2="1" y1="0" y2="0"><stop offset="0.0000" stop-color="#fdb503"/><stop offset="0.0306" stop-color="#ffe700"/><stop offset="0.0699" stop-color="#f1f900"/><stop offset="0.0742" stop-color="#e6f900"/><stop offset="0.0786" stop-color="#92fe00"/><stop offset="0.0830" stop-color="#0df800"/><stop offset="0.2358" stop-color="#10f800"/><stop offset="0.2402" stop-color="#aafe00"/><stop offset="0.2445" stop-color="#ebf900"/><stop offset="0.2576" stop-color="#fbf100"/><stop offset="0.2882" stop-color="#ffcb00"/><stop offset="0.3057" stop-color="#fcae04"/><stop offset="1.0000" stop-color="#fcae04"/></linearGradient>
<linearGradient id="gc10" x1="0" x2="1" y1="0" y2="0"><stop offset="0.0000" stop-color="#fdb802"/><stop offset="0.0306" stop-color="#ffe800"/><stop offset="0.0655" stop-color="#f6f800"/><stop offset="0.0699" stop-color="#ebf900"/><stop offset="0.0742" stop-color="#c7fc00"/><stop offset="0.0786" stop-color="#35fa00"/><stop offset="0.0830" stop-color="#08f800"/><stop offset="0.2358" stop-color="#0df800"/><stop offset="0.2402" stop-color="#8dfe00"/><stop offset="0.2445" stop-color="#e8f900"/><stop offset="0.2533" stop-color="#f9f500"/><stop offset="0.2882" stop-color="#ffce00"/><stop offset="0.3100" stop-color="#fcae04"/><stop offset="1.0000" stop-color="#fcae04"/></linearGradient>
<linearGradient id="gc11" x1="0" x2="1" y1="0" y2="0"><stop offset="0.0000" stop-color="#febc02"/><stop offset="0.0262" stop-color="#ffe700"/><stop offset="0.0655" stop-color="#eff900"/><stop offset="0.0699" stop-color="#e4fa00"/><stop offset="0.0786" stop-color="#0bf800"/><stop offset="0.2358" stop-color="#0af800"/><stop offset="0.2402" stop-color="#6dfd00"/><stop offset="0.2445" stop-color="#e4fa00"/><stop offset="0.2533" stop-color="#f9f500"/><stop offset="0.2882" stop-color="#ffd000"/><stop offset="0.3100" stop-color="#fcae04"/><stop offset="1.0000" stop-color="#fcae04"/></linearGradient>
<linearGradient id="gc12" x1="0" x2="1" y1="0" y2="0"><stop offset="0.0000" stop-color="#febf01"/><stop offset="0.0218" stop-color="#ffe600"/><stop offset="0.0611" stop-color="#f4f800"/><stop offset="0.0655" stop-color="#e9f900"/><stop offset="0.0699" stop-color="#b2fe00"/><stop offset="0.0742" stop-color="#1af800"/><stop offset="0.0786" stop-color="#08f800"/><stop offset="0.2358" stop-color="#08f800"/><stop offset="0.2402" stop-color="#4dfb00"/><stop offset="0.2445" stop-color="#d9fa00"/><stop offset="0.2489" stop-color="#f2f800"/><stop offset="0.2882" stop-color="#ffd200"/><stop offset="0.3100" stop-color="#fcae04"/><stop offset="1.0000" stop-color="#fcae04"/></linearGradient>
<linearGradient id="gc13" x1="0" x2="1" y1="0" y2="0"><stop offset="0.0000" stop-color="#ffc401"/><stop offset="0.0218" stop-color="#ffe800"/><stop offset="0.0568" stop-color="#f8f800"/><stop offset="0.0655" stop-color="#e2fa00"/><stop offset="0.0699" stop-color="#5bfc00"/><stop offset="0.0742" stop-color="#08f800"/><stop offset="0.2358" stop-color="#08f800"/><stop offset="0.2402" stop-color="#2cf900"/><stop offset="0.2445" stop-color="#c1fc00"/><stop offset="0.2489" stop-color="#eef900"/><stop offset="0.2795" stop-color="#ffe200"/><stop offset="0.3100" stop-color="#fcae04"/><stop offset="1.0000" stop-color="#fcae04"/></linearGradient>
<linearGradient id="gc14" x1="0" x2="1" y1="0" y2="0"><stop offset="0.0000" stop-color="#ffc800"/><stop offset="0.0175" stop-color="#ffe700"/><stop offset="0.0568" stop-color="#f2f800"/><stop offset="0.0611" stop-color="#e7f900"/><stop offset="0.0655" stop-color="#9dff00"/><stop offset="0.0699" stop-color="#0ef800"/><stop offset="0.2402" stop-color="#10f800"/><stop offset="0.2445" stop-color="#a8fe00"/><stop offset="0.2489" stop-color="#ebf900"/><stop offset="0.2576" stop-color="#faf400"/><stop offset="0.2926" stop-color="#ffcc00"/><stop offset="0.3100" stop-color="#fcae04"/><stop offset="1.0000" stop-color="#fcae04"/></linearGradient>
<linearGradient id="gc15" x1="0" x2="1" y1="0" y2="0"><stop offset="0.0000" stop-color="#ffcf00"/><stop offset="0.0175" stop-color="#ffe800"/><stop offset="0.0524" stop-color="#f6f800"/><stop offset="0.0568" stop-color="#ebf900"/><stop offset="0.0611" stop-color="#cffb00"/><stop offset="0.0655" stop-color="#40fa00"/><stop offset="0.0699" stop-color="#08f800"/><stop offset="0.2402" stop-color="#0df800"/><stop offset="0.2445" stop-color="#8afe00"/><stop offset="0.2489" stop-color="#e7f900"/><stop offset="0.2576" stop-color="#f9f500"/><stop offset="0.2926" stop-color="#ffce00"/><stop offset="0.3144" stop-color="#fcae04"/><stop offset="1.0000" stop-color="#fcae04"/></linearGradient>
<linearGradient id="gc16" x1="0" x2="1" y1="0" y2="0"><stop offset="0.0000" stop-color="#ffd600"/><stop offset="0.0437" stop-color="#f9f500"/><stop offset="0.0568" stop-color="#e5fa00"/><stop offset="0.0611" stop-color="#81fe00"/><stop offset="0.0655" stop-color="#0cf800"/><stop offset="0.2402" stop-color="#0af800"/><stop offset="0.2445" stop-color="#6afc00"/><stop offset="0.2489" stop-color="#e4fa00"/><stop offset="0.2576" stop-color="#f9f500"/><stop offset="0.2926" stop-color="#ffd000"/><stop offset="0.3144" stop-color="#fcae04"/><stop offset="1.0000" stop-color="#fcae04"/></linearGradient>
<linearGradient id="gc17" x1="0" x2="1" y1="0" y2="0"><stop offset="0.0000" stop-color="#ffdc00"/><stop offset="0.0480" stop-color="#f4f800"/><stop offset="0.0524" stop-color="#e9f900"/><stop offset="0.0568" stop-color="#bafd00"/><stop offset="0.0611" stop-color="#24f900"/><stop offset="0.0655" stop-color="#08f800"/><stop offset="0.2402" stop-color="#08f800"/><stop offset="0.2445" stop-color="#49fb00"/><stop offset="0.2489" stop-color="#d7fb00"/><stop offset="0.2533" stop-color="#f2f900"/><stop offset="0.2926" stop-color="#ffd200"/><stop offset="0.3144" stop-color="#fcae04"/><stop offset="1.0000" stop-color="#fcae04"/></linearGradient>
<linearGradient id="gc18" x1="0" x2="1" y1="0" y2="0"><stop offset="0.0000" stop-color="#ffe100"/><stop offset="0.0437" stop-color="#f8f800"/><stop offset="0.0524" stop-color="#e3fa00"/><stop offset="0.0568" stop-color="#66fc00"/><stop offset="0.0611" stop-color="#09f800"/><stop offset="0.2402" stop-color="#08f800"/><stop offset="0.2445" stop-color="#29f900"/><stop offset="0.2489" stop-color="#befd00"/><stop offset="0.2533" stop-color="#eef900"/><stop offset="0.2795" stop-color="#ffe700"/><stop offset="0.3144" stop-color="#fcae04"/><stop offset="1.0000" stop-color="#fcae04"/></linearGradient>
<linearGradient id="gc19" x1="0" x2="1" y1="0" y2="0"><stop offset="0.0000" stop-color="#ffe300"/><stop offset="0.0437" stop-color="#f2f800"/><stop offset="0.0480" stop-color="#e8f900"/><stop offset="0.0524" stop-color="#a6ff00"/><stop offset="0.0568" stop-color="#0ff800"/><stop offset="0.2445" stop-color="#0ff800"/><stop offset="0.2489" stop-color="#a6ff00"/><stop offset="0.2533" stop-color="#ebf900"/><stop offset="0.2620" stop-color="#faf400"/><stop offset="0.2969" stop-color="#ffcc00"/><stop offset="0.3144" stop-color="#fcae04"/><stop offset="1.0000" stop-color="#fcae04"/></linearGradient>
<linearGradient id="gc20" x1="0" x2="1" y1="0" y2="0"><stop offset="0.0000" stop-color="#ffe400"/><stop offset="0.0437" stop-color="#eef900"/><stop offset="0.0480" stop-color="#e3fa00"/><stop offset="0.0524" stop-color="#6dfd00"/><stop offset="0.0568" stop-color="#0af800"/><stop offset="0.2445" stop-color="#0df800"/><stop offset="0.2489" stop-color="#8afe00"/><stop offset="0.2533" stop-color="#e7f900"/><stop offset="0.2620" stop-color="#f9f500"/><stop offset="0.2969" stop-color="#ffce00"/><stop offset="0.3188" stop-color="#fcae04"/><stop offset="1.0000" stop-color="#fcae04"/></linearGradient>
<linearGradient id="gc21" x1="0" x2="1" y1="0" y2="0"><stop offset="0.0000" stop-color="#ffe600"/><stop offset="0.0393" stop-color="#f5f800"/><stop offset="0.0437" stop-color="#eaf900"/><stop offset="0.0480" stop-color="#c6fc00"/><stop offset="0.0524" stop-color="#33fa00"/><stop offset="0.0568" stop-color="#08f800"/><stop offset="0.2445" stop-color="#0af800"/><stop offset="0.2489" stop-color="#6dfd00"/><stop offset="0.2533" stop-color="#e4fa00"/><stop offset="0.2620" stop-color="#f9f500"/><stop offset="0.2969" stop-color="#ffd000"/><stop offset="0.3188" stop-color="#fcae04"/><stop offset="1.0000" stop-color="#fcae04"/></linearGradient>
<linearGradient id="gc22" x1="0" x2="1" y1="0" y2="0"><stop offset="0.0000" stop-color="#ffe700"/><stop offset="0.0393" stop-color="#f1f900"/><stop offset="0.0437" stop-color="#e6f900"/><stop offset="0.0480" stop-color="#98ff00"/><stop offset="0.0524" stop-color="#0ef800"/><stop offset="0.2445" stop-color="#08f800"/><stop offset="0.2489" stop-color="#50fb00"/><stop offset="0.2533" stop-color="#dcfa00"/><stop offset="0.2620" stop-color="#f9f600"/><stop offset="0.2969" stop-color="#ffd100"/><stop offset="0.3188" stop-color="#fcae04"/><stop offset="1.0000" stop-color="#fcae04"/></linearGradient>
<linearGradient id="gc23" x1="0" x2="1" y1="0" y2="0"><stop offset="0.0000" stop-color="#ffe800"/><stop offset="0.0349" stop-color="#f8f800"/><stop offset="0.0437" stop-color="#e2fa00"/><stop offset="0.0480" stop-color="#5efc00"/><stop offset="0.0524" stop-color="#09f800"/><stop offset="0.2445" stop-color="#08f800"/><stop offset="0.2489" stop-color="#33fa00"/><stop offset="0.2533" stop-color="#c6fc00"/><stop offset="0.2576" stop-color="#eff900"/><stop offset="0.2969" stop-color="#ffd300"/><stop offset="0.3188" stop-color="#fcae04"/><stop offset="1.0000" stop-color="#fcae04"/></linearGradient>
<linearGradient id="gc24" x1="0" x2="1" y1="0" y2="0"><stop offset="0.0000" stop-color="#ffe900"/><stop offset="0.0349" stop-color="#f4f800"/><stop offset="0.0393" stop-color="#e9f900"/><stop offset="0.0437" stop-color="#bafd00"/><stop offset="0.0480" stop-color="#24f900"/><stop offset="0.0524" stop-color="#08f800"/><stop offset="0.2445" stop-color="#08f800"/><stop offset="0.2489" stop-color="#16f800"/><stop offset="0.2533" stop-color="#b0fe00"/><stop offset="0.2576" stop-color="#ecf900"/><stop offset="0.2707" stop-color="#fbf100"/><stop offset="0.3013" stop-color="#ffcb00"/><stop offset="0.3188" stop-color="#fcae04"/><stop offset="1.0000" stop-color="#fcae04"/></linearGradient>
<linearGradient id="gc25" x1="0" x2="1" y1="0" y2="0"><stop offset="0.0000" stop-color="#fee900"/><stop offset="0.0349" stop-color="#f0f900"/><stop offset="0.0393" stop-color="#e5f900"/><stop offset="0.0437" stop-color="#88fe00"/><stop offset="0.0480" stop-color="#0cf800"/><stop offset="0.2489" stop-color="#0ef800"/><stop offset="0.2533" stop-color="#98ff00"/><stop offset="0.2576" stop-color="#e9f900"/><stop offset="0.2664" stop-color="#faf500"/><stop offset="0.3013" stop-color="#ffcd00"/><stop offset="0.3188" stop-color="#fcae04"/><stop offset="1.0000" stop-color="#fcae04"/></linearGradient>
<linearGradient id="gc26" x1="0" x2="1" y1="0" y2="0"><stop offset="0.0000" stop-color="#feea00"/><stop offset="0.0306" stop-color="#f7f800"/><stop offset="0.0393" stop-color="#dbfa00"/><stop offset="0.0437" stop-color="#4efb00"/><stop offset="0.0480" stop-color="#08f800"/><stop offset="0.2489" stop-color="#0bf800"/><stop offset="0.2576" stop-color="#e6f900"/><stop offset="0.2664" stop-color="#f9f500"/><stop offset="0.3013" stop-color="#ffcf00"/><stop offset="0.3231" stop-color="#fcae04"/><stop offset="1.0000" stop-color="#fcae04"/></linearGradient>
<linearGradient id="gc27" x1="0" x2="1" y1="0" y2="0"><stop offset="0.0000" stop-color="#feeb00"/><stop offset="0.0306" stop-color="#f3f800"/><stop offset="0.0349" stop-color="#e8f900"/><stop offset="0.0393" stop-color="#aefe00"/><stop offset="0.0437" stop-color="#14f800"/><stop offset="0.0524" stop-color="#08f800"/><stop offset="0.2489" stop-color="#09f800"/><stop offset="0.2533" stop-color="#5efc00"/><stop offset="0.2576" stop-color="#e3fa00"/><stop offset="0.2664" stop-color="#f9f600"/><stop offset="0.3013" stop-color="#ffd100"/><stop offset="0.3231" stop-color="#fcae04"/><stop offset="1.0000" stop-color="#fcae04"/></linearGradient>
<linearGradient id="gc28" x1="0" x2="1" y1="0" y2="0"><stop offset="0.0000" stop-color="#fdec00"/><stop offset="0.0306" stop-color="#eff900"/><stop offset="0.0349" stop-color="#e4fa00"/><stop offset="0.0437" stop-color="#0bf800"/><stop offset="0.2489" stop-color="#08f800"/><stop offset="0.2533" stop-color="#41fa00"/><stop offset="0.2576" stop-color="#d0fb00"/><stop offset="0.2620" stop-color="#f1f900"/><stop offset="0.3013" stop-color="#ffd200"/><stop offset="0.3231" stop-color="#fcae04"/><stop offset="1.0000" stop-color="#fcae04"/></linearGradient>
<linearGradient id="gc29" x1="0" x2="1" y1="0" y2="0"><stop offset="0.0000" stop-color="#fdec00"/><stop offset="0.0262" stop-color="#f6f800"/><stop offset="0.0306" stop-color="#ebf900"/><stop offset="0.0349" stop-color="#cffb00"/><stop offset="0.0393" stop-color="#3ffa00"/><stop offset="0.0437" stop-color="#08f800"/><stop offset="0.2489" stop-color="#08f800"/><stop offset="0.2533" stop-color="#24f900"/><stop offset="0.2576" stop-color="#bafd00"/><stop offset="0.2620" stop-color="#edf900"/><stop offset="0.2838" stop-color="#feea00"/><stop offset="0.3144" stop-color="#fdb802"/><stop offset="0.3537" stop-color="#fcac04"/><stop offset="1.0000" stop-color="#fcae04"/></linearGradient>
<linearGradient id="gc30" x1="0" x2="1" y1="0" y2="0"><stop offset="0.0000" stop-color="#fded00"/><stop offset="0.0262" stop-color="#f2f800"/><stop offset="0.0306" stop-color="#e7f900"/><stop offset="0.0349" stop-color="#a3ff00"/><stop offset="0.0393" stop-color="#0ff800"/><stop offset="0.1310" stop-color="#00f805"/><stop offset="0.1528" stop-color="#00fa12"/><stop offset="0.1834" stop-color="#05f800"/><stop offset="0.2533" stop-color="#0ff800"/><stop offset="0.2576" stop-color="#a4ff00"/><stop offset="0.2620" stop-color="#eaf900"/><stop offset="0.2707" stop-color="#faf400"/><stop offset="0.3057" stop-color="#ffcc00"/><stop offset="0.3231" stop-color="#fcad04"/><stop offset="1.0000" stop-color="#fcae04"/></linearGradient>
<linearGradient id="gc31" x1="0" x2="1" y1="0" y2="0"><stop offset="0.0000" stop-color="#fcee00"/><stop offset="0.0262" stop-color="#eef900"/><stop offset="0.0306" stop-color="#e3fa00"/><stop offset="0.0349" stop-color="#69fc00"/><stop offset="0.0393" stop-color="#0af800"/><stop offset="0.1223" stop-color="#00f800"/><stop offset="0.1441" stop-color="#00fb23"/><stop offset="0.1659" stop-color="#00f910"/><stop offset="0.1790" stop-color="#03f800"/><stop offset="0.2533" stop-color="#0cf800"/><stop offset="0.2576" stop-color="#88fe00"/><stop offset="0.2620" stop-color="#e7f900"/><stop offset="0.2707" stop-color="#f9f500"/><stop offset="0.3057" stop-color="#ffce00"/><stop offset="0.3275" stop-color="#fcad04"/><stop offset="1.0000" stop-color="#fcae04"/></linearGradient>
<linearGradient id="gc32" x1="0" x2="1" y1="0" y2="0"><stop offset="0.0000" stop-color="#fcef00"/><stop offset="0.0218" stop-color="#f5f800"/><stop offset="0.0262" stop-color="#eaf900"/><stop offset="0.0306" stop-color="#c3fc00"/><stop offset="0.0349" stop-color="#2ffa00"/><stop offset="0.0393" stop-color="#08f800"/><stop offset="0.1179" stop-color="#00f803"/><stop offset="0.1397" stop-color="#00fc33"/><stop offset="0.1616" stop-color="#00fc28"/><stop offset="0.1790" stop-color="#01f800"/><stop offset="0.2533" stop-color="#0af800"/><stop offset="0.2576" stop-color="#6bfc00"/><stop offset="0.2620" stop-color="#e4fa00"/><stop offset="0.2707" stop-color="#f9f500"/><stop offset="0.3057" stop-color="#ffd000"/><stop offset="0.3275" stop-color="#fcad04"/><stop offset="1.0000" stop-color="#fcae04"/></linearGradient>
<linearGradient id="gc33" x1="0" x2="1" y1="0" y2="0"><stop offset="0.0000" stop-color="#fcef00"/><stop offset="0.0218" stop-color="#f1f900"/><stop offset="0.0262" stop-color="#e6f900"/><stop offset="0.0306" stop-color="#94fe00"/><stop offset="0.0349" stop-color="#0ef800"/><stop offset="0.1135" stop-color="#00f907"/><stop offset="0.1354" stop-color="#00fe47"/><stop offset="0.1572" stop-color="#00fe47"/><stop offset="0.1834" stop-color="#01f800"/><stop offset="0.2533" stop-color="#08f800"/><stop offset="0.2576" stop-color="#4efb00"/><stop offset="0.2620" stop-color="#dbfa00"/><stop offset="0.2664" stop-color="#f2f800"/><stop offset="0.3057" stop-color="#ffd200"/><stop offset="0.3275" stop-color="#fcac04"/><stop offset="1.0000" stop-color="#fcae04"/></linearGradient>
<linearGradient id="gc34" x1="0" x2="1" y1="0" y2="0"><stop offset="0.0000" stop-color="#fcf000"/><stop offset="0.0175" stop-color="#f8f800"/><stop offset="0.0262" stop-color="#e2fa00"/><stop offset="0.0306" stop-color="#5afc00"/><stop offset="0.0349" stop-color="#08f800"/><stop offset="0.1048" stop-color="#00f800"/><stop offset="0.1354" stop-color="#00ff62"/><stop offset="0.1572" stop-color="#00ff60"/><stop offset="0.1878" stop-color="#01f800"/><stop offset="0.2533" stop-color="#08f800"/><stop offset="0.2576" stop-color="#31fa00"/><stop offset="0.2620" stop-color="#c4fc00"/><stop offset="0.2664" stop-color="#eff900"/><stop offset="0.3057" stop-color="#ffd300"/><stop offset="0.3275" stop-color="#fcac04"/><stop offset="1.0000" stop-color="#fcae04"/></linearGradient>
<linearGradient id="gc35" x1="0" x2="1" y1="0" y2="0"><stop offset="0.0000" stop-color="#fbf100"/><stop offset="0.0175" stop-color="#f4f800"/><stop offset="0.0218" stop-color="#e9f900"/><stop offset="0.0262" stop-color="#b7fd00"/><stop offset="0.0306" stop-color="#20f900"/><stop offset="0.0349" stop-color="#08f800"/><stop offset="0.1004" stop-color="#00f802"/><stop offset="0.1310" stop-color="#00ff74"/><stop offset="0.1485" stop-color="#00ff81"/><stop offset="0.1659" stop-color="#00ff61"/><stop offset="0.1921" stop-color="#01f800"/><stop offset="0.2533" stop-color="#08f800"/><stop offset="0.2576" stop-color="#14f800"/><stop offset="0.2620" stop-color="#aefe00"/><stop offset="0.2664" stop-color="#ecf900"/><stop offset="0.2795" stop-color="#fbf100"/><stop offset="0.3100" stop-color="#ffcb00"/><stop offset="0.3275" stop-color="#fcac04"/><stop offset="0.5240" stop-color="#fcaa04"/><stop offset="1.0000" stop-color="#fcae04"/></linearGradient>
<linearGradient id="gc36" x1="0" x2="1" y1="0" y2="0"><stop offset="0.0000" stop-color="#fbf200"/><stop offset="0.0175" stop-color="#eef900"/><stop offset="0.0218" stop-color="#e3fa00"/><stop offset="0.0262" stop-color="#6afc00"/><stop offset="0.0306" stop-color="#0af800"/><stop offset="0.0961" stop-color="#00f805"/><stop offset="0.1266" stop-color="#00ff84"/><stop offset="0.1441" stop-color="#00ff9c"/><stop offset="0.1616" stop-color="#00ff86"/><stop offset="0.1921" stop-color="#00f907"/><stop offset="0.2576" stop-color="#0df800"/><stop offset="0.2620" stop-color="#93fe00"/><stop offset="0.2664" stop-color="#e8f900"/><stop offset="0.2751" stop-color="#f9f500"/><stop offset="0.3100" stop-color="#ffcd00"/><stop offset="0.3319" stop-color="#fcab04"/><stop offset="0.4934" stop-color="#fca803"/><stop offset="1.0000" stop-color="#fcae04"/></linearGradient>
<linearGradient id="gc37" x1="0" x2="1" y1="0" y2="0"><stop offset="0.0000" stop-color="#faf300"/><stop offset="0.0175" stop-color="#e7f900"/><stop offset="0.0218" stop-color="#a1ff00"/><stop offset="0.0262" stop-color="#0ff800"/><stop offset="0.0917" stop-color="#00f906"/><stop offset="0.1266" stop-color="#00ff9e"/><stop offset="0.1441" stop-color="#00ffb4"/><stop offset="0.1616" stop-color="#00ff9f"/><stop offset="0.1965" stop-color="#00f908"/><stop offset="0.2576" stop-color="#0af800"/><stop offset="0.2664" stop-color="#e5fa00"/><stop offset="0.2751" stop-color="#f9f500"/><stop offset="0.3100" stop-color="#ffcf00"/><stop offset="0.3319" stop-color="#fcab04"/><stop offset="0.4541" stop-color="#fca403"/><stop offset="1.0000" stop-color="#fcae04"/></linearGradient>
<linearGradient id="gc38" x1="0" x2="1" y1="0" y2="0"><stop offset="0.0000" stop-color="#faf400"/><stop offset="0.0131" stop-color="#ebf900"/><stop offset="0.0175" stop-color="#ccfb00"/><stop offset="0.0218" stop-color="#3bfa00"/><stop offset="0.0262" stop-color="#08f800"/><stop offset="0.0873" stop-color="#00f805"/><stop offset="0.1266" stop-color="#00feb6"/><stop offset="0.1485" stop-color="#00fdc9"/><stop offset="0.1659" stop-color="#00ffac"/><stop offset="0.2009" stop-color="#00f909"/><stop offset="0.2271" stop-color="#07f800"/><stop offset="0.2576" stop-color="#08f800"/><stop offset="0.2620" stop-color="#4efb00"/><stop offset="0.2664" stop-color="#dbfa00"/><stop offset="0.2707" stop-color="#f2f800"/><stop offset="0.3100" stop-color="#ffd200"/><stop offset="0.3319" stop-color="#fcaa04"/><stop offset="0.4279" stop-color="#fca002"/><stop offset="0.9127" stop-color="#fcae04"/><stop offset="1.0000" stop-color="#fcae04"/></linearGradient>
<linearGradient id="gc39" x1="0" x2="1" y1="0" y2="0"><stop offset="0.0000" stop-color="#f9f600"/><stop offset="0.0131" stop-color="#e4fa00"/><stop offset="0.0218" stop-color="#0bf800"/><stop offset="0.0830" stop-color="#00f805"/><stop offset="0.1223" stop-color="#00febe"/><stop offset="0.1397" stop-color="#00fbdd"/><stop offset="0.1616" stop-color="#00fccf"/><stop offset="0.1790" stop-color="#00ff8d"/><stop offset="0.2052" stop-color="#00f90b"/><stop offset="0.2183" stop-color="#04f800"/><stop offset="0.2576" stop-color="#08f800"/><stop offset="0.2620" stop-color="#2cf900"/><stop offset="0.2664" stop-color="#c1fc00"/><stop offset="0.2707" stop-color="#eef900"/><stop offset="0.3013" stop-color="#ffe200"/><stop offset="0.3319" stop-color="#fcaa04"/><stop offset="0.4105" stop-color="#fc9c02"/><stop offset="0.8035" stop-color="#fcae04"/><stop offset="1.0000" stop-color="#fcae04"/></linearGradient>
<linearGradient id="gc40" x1="0" x2="1" y1="0" y2="0"><stop offset="0.0000" stop-color="#f8f700"/><stop offset="0.0087" stop-color="#e8f900"/><stop offset="0.0131" stop-color="#a9fe00"/><stop offset="0.0175" stop-color="#10f800"/><stop offset="0.0786" stop-color="#00f906"/><stop offset="0.1048" stop-color="#00ff85"/><stop offset="0.1223" stop-color="#00fcd3"/><stop offset="0.1397" stop-color="#00f9f2"/><stop offset="0.1616" stop-color="#00fae5"/><stop offset="0.1790" stop-color="#00ffab"/><stop offset="0.2096" stop-color="#00f90f"/><stop offset="0.2183" stop-color="#02f800"/><stop offset="0.2620" stop-color="#0ff800"/><stop offset="0.2664" stop-color="#a6ff00"/><stop offset="0.2707" stop-color="#ebf900"/><stop offset="0.2795" stop-color="#faf400"/><stop offset="0.3144" stop-color="#ffcc00"/><stop offset="0.3362" stop-color="#fca803"/><stop offset="0.4017" stop-color="#fc9902"/><stop offset="0.7467" stop-color="#fcae04"/><stop offset="1.0000" stop-color="#fcae04"/></linearGradient>
<linearGradient id="gc41" x1="0" x2="1" y1="0" y2="0"><stop offset="0.0000" stop-color="#f7f800"/><stop offset="0.0087" stop-color="#d3fb00"/><stop offset="0.0131" stop-color="#45fb00"/><stop offset="0.0175" stop-color="#08f800"/><stop offset="0.0742" stop-color="#00f907"/><stop offset="0.0961" stop-color="#00ff6c"/><stop offset="0.1179" stop-color="#00fbda"/><stop offset="0.1310" stop-color="#00f8fe"/><stop offset="0.1528" stop-color="#00f0ff"/><stop offset="0.1659" stop-color="#00f9f2"/><stop offset="0.1834" stop-color="#00ffb1"/><stop offset="0.2096" stop-color="#00fb24"/><stop offset="0.2183" stop-color="#00f803"/><stop offset="0.2620" stop-color="#0cf800"/><stop offset="0.2664" stop-color="#85fe00"/><stop offset="0.2707" stop-color="#e7f900"/><stop offset="0.2795" stop-color="#f9f500"/><stop offset="0.3144" stop-color="#ffce00"/><stop offset="0.3362" stop-color="#fca803"/><stop offset="0.3930" stop-color="#fc9601"/><stop offset="0.7118" stop-color="#fcae04"/><stop offset="1.0000" stop-color="#fcae04"/></linearGradient>
<linearGradient id="gc42" x1="0" x2="1" y1="0" y2="0"><stop offset="0.0000" stop-color="#eff900"/><stop offset="0.0044" stop-color="#e4fa00"/><stop offset="0.0131" stop-color="#0bf800"/><stop offset="0.0699" stop-color="#00f908"/><stop offset="0.0917" stop-color="#00ff6e"/><stop offset="0.1135" stop-color="#00fbe2"/><stop offset="0.1223" stop-color="#00f6ff"/><stop offset="0.1397" stop-color="#00d3ff"/><stop offset="0.1616" stop-color="#00dfff"/><stop offset="0.1703" stop-color="#00f7ff"/><stop offset="0.1921" stop-color="#00ffa0"/><stop offset="0.2183" stop-color="#00fa16"/><stop offset="0.2314" stop-color="#03f800"/><stop offset="0.2620" stop-color="#09f800"/><stop offset="0.2664" stop-color="#62fc00"/><stop offset="0.2707" stop-color="#e2fa00"/><stop offset="0.2795" stop-color="#f9f600"/><stop offset="0.3144" stop-color="#ffd000"/><stop offset="0.3362" stop-color="#fca703"/><stop offset="0.3886" stop-color="#fc9201"/><stop offset="0.6769" stop-color="#fcae04"/><stop offset="1.0000" stop-color="#fcae04"/></linearGradient>
<linearGradient id="gc43" x1="0" x2="1" y1="0" y2="0"><stop offset="0.0000" stop-color="#e8f900"/><stop offset="0.0044" stop-color="#b0fe00"/><stop offset="0.0087" stop-color="#16f800"/><stop offset="0.0175" stop-color="#08f800"/><stop offset="0.0611" stop-color="#00f800"/><stop offset="0.0786" stop-color="#00fe45"/><stop offset="0.1092" stop-color="#00f9f2"/><stop offset="0.1179" stop-color="#00dcff"/><stop offset="0.1354" stop-color="#00acff"/><stop offset="0.1572" stop-color="#00acff"/><stop offset="0.1747" stop-color="#00dbff"/><stop offset="0.1834" stop-color="#00f9f3"/><stop offset="0.2227" stop-color="#00fb1e"/><stop offset="0.2314" stop-color="#00f800"/><stop offset="0.2620" stop-color="#07f800"/><stop offset="0.2664" stop-color="#3dfa00"/><stop offset="0.2707" stop-color="#cffb00"/><stop offset="0.2751" stop-color="#eff900"/><stop offset="0.3144" stop-color="#ffd200"/><stop offset="0.3362" stop-color="#fca703"/><stop offset="0.3843" stop-color="#fc8e00"/><stop offset="0.6507" stop-color="#fcae04"/><stop offset="1.0000" stop-color="#fcae04"/></linearGradient>
<linearGradient id="gc44" x1="0" x2="1" y1="0" y2="0"><stop offset="0.0000" stop-color="#dafa00"/><stop offset="0.0044" stop-color="#4dfb00"/><stop offset="0.0087" stop-color="#08f800"/><stop offset="0.0568" stop-color="#00f802"/><stop offset="0.0786" stop-color="#00ff63"/><stop offset="0.1048" stop-color="#00f7ff"/><stop offset="0.1266" stop-color="#0091ff"/><stop offset="0.1441" stop-color="#0077ff"/><stop offset="0.1616" stop-color="#0083ff"/><stop offset="0.1790" stop-color="#00c2ff"/><stop offset="0.1878" stop-color="#00f1ff"/><stop offset="0.2096" stop-color="#00ff84"/><stop offset="0.2314" stop-color="#00fa14"/><stop offset="0.2402" stop-color="#01f800"/><stop offset="0.2620" stop-color="#07f800"/><stop offset="0.2664" stop-color="#16f800"/><stop offset="0.2707" stop-color="#b2fe00"/><stop offset="0.2751" stop-color="#e9f900"/><stop offset="0.2838" stop-color="#faf400"/><stop offset="0.3144" stop-color="#ffd500"/><stop offset="0.3362" stop-color="#fca703"/><stop offset="0.3843" stop-color="#fc8700"/><stop offset="0.6114" stop-color="#fcad04"/><stop offset="1.0000" stop-color="#fcae04"/></linearGradient>
<linearGradient id="gc45" x1="0" x2="1" y1="0" y2="0"><stop offset="0.0000" stop-color="#85fe00"/><stop offset="0.0044" stop-color="#0cf800"/><stop offset="0.0524" stop-color="#00f805"/><stop offset="0.0742" stop-color="#00ff68"/><stop offset="0.0961" stop-color="#00f9f1"/><stop offset="0.1048" stop-color="#00d0ff"/><stop offset="0.1266" stop-color="#0064ff"/><stop offset="0.1441" stop-color="#0049ff"/><stop offset="0.1616" stop-color="#0055ff"/><stop offset="0.1790" stop-color="#0095ff"/><stop offset="0.1965" stop-color="#00f8fb"/><stop offset="0.2314" stop-color="#00fc2c"/><stop offset="0.2445" stop-color="#00f800"/><stop offset="0.2664" stop-color="#0df800"/><stop offset="0.2707" stop-color="#8ffe00"/><stop offset="0.2751" stop-color="#e3fa00"/><stop offset="0.2838" stop-color="#f9f500"/><stop offset="0.3188" stop-color="#ffcd00"/><stop offset="0.3406" stop-color="#fca303"/><stop offset="0.3799" stop-color="#fd7f00"/><stop offset="0.5721" stop-color="#fcaa04"/><stop offset="1.0000" stop-color="#fcae04"/></linearGradient>
<linearGradient id="gc46" x1="0" x2="1" y1="0" y2="0"><stop offset="0.0000" stop-color="#1df900"/><stop offset="0.0044" stop-color="#08f800"/><stop offset="0.0480" stop-color="#00f907"/><stop offset="0.0699" stop-color="#00ff6a"/><stop offset="0.0917" stop-color="#00f9f3"/><stop offset="0.1048" stop-color="#00aeff"/><stop offset="0.1223" stop-color="#004fff"/><stop offset="0.1354" stop-color="#0236ff"/><stop offset="0.1659" stop-color="#013cff"/><stop offset="0.1790" stop-color="#006cff"/><stop offset="0.2009" stop-color="#00f4ff"/><stop offset="0.2358" stop-color="#00fc31"/><stop offset="0.2489" stop-color="#00f801"/><stop offset="0.2664" stop-color="#08f800"/><stop offset="0.2707" stop-color="#65fc00"/><stop offset="0.2751" stop-color="#dafa00"/><stop offset="0.2838" stop-color="#f9f600"/><stop offset="0.3188" stop-color="#ffcf00"/><stop offset="0.3450" stop-color="#fc9e02"/><stop offset="0.3755" stop-color="#fe7500"/><stop offset="0.5502" stop-color="#fca803"/><stop offset="1.0000" stop-color="#fcae04"/></linearGradient>
<linearGradient id="gc47" x1="0" x2="1" y1="0" y2="0"><stop offset="0.0000" stop-color="#08f800"/><stop offset="0.0393" stop-color="#00f800"/><stop offset="0.0568" stop-color="#00fd3c"/><stop offset="0.0873" stop-color="#00f9f6"/><stop offset="0.1135" stop-color="#0054ff"/><stop offset="0.1223" stop-color="#0235ff"/><stop offset="0.1485" stop-color="#071fff"/><stop offset="0.1747" stop-color="#0238ff"/><stop offset="0.1834" stop-color="#005bff"/><stop offset="0.2052" stop-color="#00edff"/><stop offset="0.2183" stop-color="#00feb8"/><stop offset="0.2402" stop-color="#00fd36"/><stop offset="0.2533" stop-color="#00f805"/><stop offset="0.2664" stop-color="#04f800"/><stop offset="0.2707" stop-color="#37fa00"/><stop offset="0.2751" stop-color="#cffb00"/><stop offset="0.2838" stop-color="#f8f800"/><stop offset="0.3188" stop-color="#ffd100"/><stop offset="0.3450" stop-color="#fc9d02"/><stop offset="0.3755" stop-color="#fe6b00"/><stop offset="0.4323" stop-color="#fd8300"/><stop offset="0.5459" stop-color="#fca703"/><stop offset="1.0000" stop-color="#fcae04"/></linearGradient>
<linearGradient id="gc48" x1="0" x2="1" y1="0" y2="0"><stop offset="0.0000" stop-color="#08f800"/><stop offset="0.0349" stop-color="#00f800"/><stop offset="0.0524" stop-color="#00fd3e"/><stop offset="0.0830" stop-color="#00f9f6"/><stop offset="0.1092" stop-color="#004aff"/><stop offset="0.1310" stop-color="#0916ff"/><stop offset="0.1659" stop-color="#0916ff"/><stop offset="0.1834" stop-color="#013aff"/><stop offset="0.1965" stop-color="#0089ff"/><stop offset="0.2096" stop-color="#00e7ff"/><stop offset="0.2140" stop-color="#00f9f3"/><stop offset="0.2445" stop-color="#00fd3b"/><stop offset="0.2620" stop-color="#00f800"/><stop offset="0.2664" stop-color="#07f800"/><stop offset="0.2707" stop-color="#5dfc00"/><stop offset="0.2751" stop-color="#cbfc00"/><stop offset="0.2838" stop-color="#f8f800"/><stop offset="0.3188" stop-color="#ffce00"/><stop offset="0.3450" stop-color="#fc9902"/><stop offset="0.3755" stop-color="#ff6100"/><stop offset="0.4279" stop-color="#fd7800"/><stop offset="0.4978" stop-color="#fc9e02"/><stop offset="0.7904" stop-color="#fcae04"/><stop offset="1.0000" stop-color="#fcae04"/></linearGradient>
<linearGradient id="gc49" x1="0" x2="1" y1="0" y2="0"><stop offset="0.0000" stop-color="#09f800"/><stop offset="0.0306" stop-color="#00f800"/><stop offset="0.0524" stop-color="#00ff51"/><stop offset="0.0786" stop-color="#00f9f2"/><stop offset="0.0873" stop-color="#00c7ff"/><stop offset="0.1048" stop-color="#0049ff"/><stop offset="0.1266" stop-color="#0c0fff"/><stop offset="0.1528" stop-color="#1e0cff"/><stop offset="0.1747" stop-color="#0916ff"/><stop offset="0.1921" stop-color="#004bff"/><stop offset="0.2140" stop-color="#00eaff"/><stop offset="0.2227" stop-color="#00fcd4"/><stop offset="0.2489" stop-color="#00fd3a"/><stop offset="0.2664" stop-color="#0af800"/><stop offset="0.2707" stop-color="#83fe00"/><stop offset="0.2751" stop-color="#c7fc00"/><stop offset="0.2838" stop-color="#f8f800"/><stop offset="0.3188" stop-color="#ffca00"/><stop offset="0.3450" stop-color="#fc9501"/><stop offset="0.3712" stop-color="#ff5700"/><stop offset="0.4148" stop-color="#ff6500"/><stop offset="0.4760" stop-color="#fc9601"/><stop offset="0.6638" stop-color="#fcae04"/><stop offset="1.0000" stop-color="#fcae04"/></linearGradient>
<linearGradient id="gc50" x1="0" x2="1" y1="0" y2="0"><stop offset="0.0000" stop-color="#0af800"/><stop offset="0.0306" stop-color="#00f805"/><stop offset="0.0524" stop-color="#00ff5f"/><stop offset="0.0786" stop-color="#00f1ff"/><stop offset="0.1004" stop-color="#004aff"/><stop offset="0.1179" stop-color="#0a10ff"/><stop offset="0.1397" stop-color="#2d08ff"/><stop offset="0.1659" stop-color="#220aff"/><stop offset="0.1834" stop-color="#0621ff"/><stop offset="0.1921" stop-color="#013dff"/><stop offset="0.2183" stop-color="#00f9f8"/><stop offset="0.2489" stop-color="#00fd3e"/><stop offset="0.2620" stop-color="#00f90a"/><stop offset="0.2664" stop-color="#0ff800"/><stop offset="0.2707" stop-color="#affe00"/><stop offset="0.2838" stop-color="#f8f700"/><stop offset="0.3144" stop-color="#ffd100"/><stop offset="0.3406" stop-color="#fc9801"/><stop offset="0.3624" stop-color="#ff5f00"/><stop offset="0.3712" stop-color="#ff4e00"/><stop offset="0.4105" stop-color="#ff5a00"/><stop offset="0.4760" stop-color="#fc9501"/><stop offset="0.6507" stop-color="#fcad04"/><stop offset="1.0000" stop-color="#fcae04"/></linearGradient>
<linearGradient id="gc51" x1="0" x2="1" y1="0" y2="0"><stop offset="0.0000" stop-color="#0bf800"/><stop offset="0.0262" stop-color="#00f800"/><stop offset="0.0480" stop-color="#00ff55"/><stop offset="0.0742" stop-color="#00f8fb"/><stop offset="0.0961" stop-color="#004fff"/><stop offset="0.1092" stop-color="#0819ff"/><stop offset="0.1354" stop-color="#3b05ff"/><stop offset="0.1616" stop-color="#3806ff"/><stop offset="0.1834" stop-color="#0917ff"/><stop offset="0.1965" stop-color="#004aff"/><stop offset="0.2183" stop-color="#00f7ff"/><stop offset="0.2489" stop-color="#00fe42"/><stop offset="0.2620" stop-color="#03f800"/><stop offset="0.2664" stop-color="#37fa00"/><stop offset="0.2707" stop-color="#b2fe00"/><stop offset="0.2795" stop-color="#eaf900"/><stop offset="0.2882" stop-color="#fbf200"/><stop offset="0.3144" stop-color="#ffce00"/><stop offset="0.3537" stop-color="#fe7300"/><stop offset="0.3668" stop-color="#ff4800"/><stop offset="0.4061" stop-color="#ff4f00"/><stop offset="0.4760" stop-color="#fc9501"/><stop offset="0.6419" stop-color="#fcad04"/><stop offset="1.0000" stop-color="#fcae04"/></linearGradient>
<linearGradient id="gc52" x1="0" x2="1" y1="0" y2="0"><stop offset="0.0000" stop-color="#0cf800"/><stop offset="0.0262" stop-color="#00f907"/><stop offset="0.0480" stop-color="#00ff63"/><stop offset="0.0699" stop-color="#00f9f1"/><stop offset="0.0786" stop-color="#00c4ff"/><stop offset="0.0961" stop-color="#0139ff"/><stop offset="0.1092" stop-color="#110eff"/><stop offset="0.1310" stop-color="#4802ff"/><stop offset="0.1572" stop-color="#4c01ff"/><stop offset="0.1790" stop-color="#1d0cff"/><stop offset="0.1921" stop-color="#042cff"/><stop offset="0.1965" stop-color="#013dff"/><stop offset="0.2183" stop-color="#00eeff"/><stop offset="0.2358" stop-color="#00ff93"/><stop offset="0.2533" stop-color="#00fc32"/><stop offset="0.2620" stop-color="#07f800"/><stop offset="0.2664" stop-color="#69fc00"/><stop offset="0.2707" stop-color="#b6fd00"/><stop offset="0.2795" stop-color="#eef900"/><stop offset="0.3013" stop-color="#ffe400"/><stop offset="0.3493" stop-color="#fd7a00"/><stop offset="0.3668" stop-color="#ff4100"/><stop offset="0.4017" stop-color="#ff4400"/><stop offset="0.4760" stop-color="#fc9401"/><stop offset="0.6376" stop-color="#fcad04"/><stop offset="1.0000" stop-color="#fcae04"/></linearGradient>
<linearGradient id="gc53" x1="0" x2="1" y1="0" y2="0"><stop offset="0.0000" stop-color="#0df800"/><stop offset="0.0218" stop-color="#00f801"/><stop offset="0.0437" stop-color="#00ff58"/><stop offset="0.0699" stop-color="#00f3ff"/><stop offset="0.0917" stop-color="#013dff"/><stop offset="0.1048" stop-color="#120eff"/><stop offset="0.1310" stop-color="#6000ff"/><stop offset="0.1528" stop-color="#6800ff"/><stop offset="0.1790" stop-color="#2a09ff"/><stop offset="0.1878" stop-color="#0913ff"/><stop offset="0.2009" stop-color="#0050ff"/><stop offset="0.2183" stop-color="#00e5ff"/><stop offset="0.2227" stop-color="#00f9f1"/><stop offset="0.2489" stop-color="#00fe4a"/><stop offset="0.2620" stop-color="#0cf800"/><stop offset="0.2664" stop-color="#96ff00"/><stop offset="0.2795" stop-color="#f8f800"/><stop offset="0.3144" stop-color="#ffc500"/><stop offset="0.3493" stop-color="#fe7300"/><stop offset="0.3624" stop-color="#ff3f00"/><stop offset="0.3974" stop-color="#ff3b00"/><stop offset="0.4760" stop-color="#fc9401"/><stop offset="0.6332" stop-color="#fcad04"/><stop offset="1.0000" stop-color="#fcae04"/></linearGradient>
<linearGradient id="gc54" x1="0" x2="1" y1="0" y2="0"><stop offset="0.0000" stop-color="#0ef800"/><stop offset="0.0218" stop-color="#00f805"/><stop offset="0.0437" stop-color="#00ff60"/><stop offset="0.0655" stop-color="#00f9f1"/><stop offset="0.0742" stop-color="#00c1ff"/><stop offset="0.0873" stop-color="#004cff"/><stop offset="0.1004" stop-color="#0b10ff"/><stop offset="0.1266" stop-color="#6800ff"/><stop offset="0.1485" stop-color="#7a00ff"/><stop offset="0.1659" stop-color="#5b00ff"/><stop offset="0.1878" stop-color="#0b10ff"/><stop offset="0.2009" stop-color="#004cff"/><stop offset="0.2183" stop-color="#00e5ff"/><stop offset="0.2227" stop-color="#00f9f1"/><stop offset="0.2489" stop-color="#00fe49"/><stop offset="0.2533" stop-color="#00fd34"/><stop offset="0.2576" stop-color="#00f801"/><stop offset="0.2620" stop-color="#1cf900"/><stop offset="0.2664" stop-color="#a0ff00"/><stop offset="0.2751" stop-color="#f3f800"/><stop offset="0.3057" stop-color="#ffc500"/><stop offset="0.3450" stop-color="#fd7b00"/><stop offset="0.3624" stop-color="#ff3900"/><stop offset="0.3974" stop-color="#ff3600"/><stop offset="0.4760" stop-color="#fc9201"/><stop offset="0.6245" stop-color="#fcad04"/><stop offset="1.0000" stop-color="#fcae04"/></linearGradient>
<linearGradient id="gc55" x1="0" x2="1" y1="0" y2="0"><stop offset="0.0000" stop-color="#12f800"/><stop offset="0.0131" stop-color="#04f800"/><stop offset="0.0262" stop-color="#00f805"/><stop offset="0.0437" stop-color="#00fe4a"/><stop offset="0.0699" stop-color="#00f9f4"/><stop offset="0.0786" stop-color="#00bdff"/><stop offset="0.0917" stop-color="#004aff"/><stop offset="0.1048" stop-color="#0a11ff"/><stop offset="0.1266" stop-color="#4e00ff"/><stop offset="0.1485" stop-color="#6200ff"/><stop offset="0.1703" stop-color="#3f04ff"/><stop offset="0.1878" stop-color="#081aff"/><stop offset="0.1965" stop-color="#013dff"/><stop offset="0.2183" stop-color="#00f6ff"/><stop offset="0.2489" stop-color="#00fd3d"/><stop offset="0.2533" stop-color="#00fc29"/><stop offset="0.2576" stop-color="#06f800"/><stop offset="0.2664" stop-color="#affe00"/><stop offset="0.2707" stop-color="#e2fa00"/><stop offset="0.2751" stop-color="#fbf200"/><stop offset="0.2926" stop-color="#ffc401"/><stop offset="0.3406" stop-color="#fd8500"/><stop offset="0.3624" stop-color="#ff3500"/><stop offset="0.3974" stop-color="#ff3200"/><stop offset="0.4760" stop-color="#fc9201"/><stop offset="0.6245" stop-color="#fcac04"/><stop offset="1.0000" stop-color="#fcae04"/></linearGradient>
<linearGradient id="gc56" x1="0" x2="1" y1="0" y2="0"><stop offset="0.0000" stop-color="#25f900"/><stop offset="0.0044" stop-color="#06f800"/><stop offset="0.0306" stop-color="#00f804"/><stop offset="0.0480" stop-color="#00ff4b"/><stop offset="0.0742" stop-color="#00f9f7"/><stop offset="0.0917" stop-color="#006eff"/><stop offset="0.1004" stop-color="#0332ff"/><stop offset="0.1135" stop-color="#180dff"/><stop offset="0.1354" stop-color="#4802ff"/><stop offset="0.1616" stop-color="#4303ff"/><stop offset="0.1834" stop-color="#0915ff"/><stop offset="0.1965" stop-color="#004eff"/><stop offset="0.2140" stop-color="#00e4ff"/><stop offset="0.2183" stop-color="#00f9f2"/><stop offset="0.2445" stop-color="#00fe47"/><stop offset="0.2533" stop-color="#00fa1b"/><stop offset="0.2576" stop-color="#0df800"/><stop offset="0.2620" stop-color="#9dff00"/><stop offset="0.2664" stop-color="#c0fc00"/><stop offset="0.2707" stop-color="#f9f500"/><stop offset="0.2882" stop-color="#fdb902"/><stop offset="0.3406" stop-color="#fd8000"/><stop offset="0.3581" stop-color="#ff3800"/><stop offset="0.3930" stop-color="#ff2e00"/><stop offset="0.4803" stop-color="#fc9301"/><stop offset="0.6419" stop-color="#fcad04"/><stop offset="1.0000" stop-color="#fcae04"/></linearGradient>
<linearGradient id="gc57" x1="0" x2="1" y1="0" y2="0"><stop offset="0.0000" stop-color="#38fa00"/><stop offset="0.0044" stop-color="#07f800"/><stop offset="0.0349" stop-color="#00f800"/><stop offset="0.0524" stop-color="#00fe41"/><stop offset="0.0830" stop-color="#00f6ff"/><stop offset="0.1092" stop-color="#013bff"/><stop offset="0.1310" stop-color="#100fff"/><stop offset="0.1572" stop-color="#160dff"/><stop offset="0.1747" stop-color="#0720ff"/><stop offset="0.1878" stop-color="#004bff"/><stop offset="0.2096" stop-color="#00eeff"/><stop offset="0.2271" stop-color="#00ff95"/><stop offset="0.2445" stop-color="#00fc31"/><stop offset="0.2533" stop-color="#03f800"/><stop offset="0.2576" stop-color="#3bfa00"/><stop offset="0.2620" stop-color="#b2fe00"/><stop offset="0.2664" stop-color="#e6f900"/><stop offset="0.2707" stop-color="#fded00"/><stop offset="0.2882" stop-color="#fca903"/><stop offset="0.3450" stop-color="#fe6b00"/><stop offset="0.3581" stop-color="#ff3800"/><stop offset="0.3930" stop-color="#ff2f00"/><stop offset="0.4803" stop-color="#fc9301"/><stop offset="0.6419" stop-color="#fcad04"/><stop offset="1.0000" stop-color="#fcae04"/></linearGradient>
<linearGradient id="gc58" x1="0" x2="1" y1="0" y2="0"><stop offset="0.0000" stop-color="#f8f800"/><stop offset="0.0131" stop-color="#f8f800"/><stop offset="0.0175" stop-color="#06f800"/><stop offset="0.0437" stop-color="#00f801"/><stop offset="0.0655" stop-color="#00ff56"/><stop offset="0.0917" stop-color="#00f9ef"/><stop offset="0.1004" stop-color="#00d4ff"/><stop offset="0.1223" stop-color="#0067ff"/><stop offset="0.1397" stop-color="#0043ff"/><stop offset="0.1616" stop-color="#0049ff"/><stop offset="0.1790" stop-color="#007fff"/><stop offset="0.2009" stop-color="#00f8ff"/><stop offset="0.2358" stop-color="#00fd3a"/><stop offset="0.2489" stop-color="#00f909"/><stop offset="0.2533" stop-color="#0bf800"/><stop offset="0.2576" stop-color="#8cfe00"/><stop offset="0.2664" stop-color="#faf300"/><stop offset="0.2838" stop-color="#fca303"/><stop offset="0.3493" stop-color="#ff5600"/><stop offset="0.3581" stop-color="#ff3a00"/><stop offset="0.3930" stop-color="#ff3100"/><stop offset="0.4803" stop-color="#fc9201"/><stop offset="0.6419" stop-color="#fcad04"/><stop offset="1.0000" stop-color="#fcae04"/></linearGradient>
<linearGradient id="gc59" x1="0" x2="1" y1="0" y2="0"><stop offset="0.0000" stop-color="#f8f800"/><stop offset="0.0131" stop-color="#f8f800"/><stop offset="0.0175" stop-color="#07f800"/><stop offset="0.0611" stop-color="#00f803"/><stop offset="0.1179" stop-color="#00febb"/><stop offset="0.1441" stop-color="#00fcd7"/><stop offset="0.1747" stop-color="#00fdc4"/><stop offset="0.2009" stop-color="#00ff76"/><stop offset="0.2358" stop-color="#00f803"/><stop offset="0.2489" stop-color="#04f800"/><stop offset="0.2533" stop-color="#33fa00"/><stop offset="0.2576" stop-color="#cdfb00"/><stop offset="0.2664" stop-color="#feea00"/><stop offset="0.2838" stop-color="#fc9401"/><stop offset="0.3406" stop-color="#ff5300"/><stop offset="0.3799" stop-color="#ff3200"/><stop offset="0.4192" stop-color="#ff4e00"/><stop offset="0.4803" stop-color="#fc9201"/><stop offset="0.6463" stop-color="#fcad04"/><stop offset="1.0000" stop-color="#fcae04"/></linearGradient>
<linearGradient id="gc60" x1="0" x2="1" y1="0" y2="0"><stop offset="0.0000" stop-color="#faf400"/><stop offset="0.0611" stop-color="#faf400"/><stop offset="0.0655" stop-color="#08f800"/><stop offset="0.2314" stop-color="#08f800"/><stop offset="0.2358" stop-color="#faf400"/><stop offset="0.2707" stop-color="#faf400"/><stop offset="0.2751" stop-color="#fe6f00"/><stop offset="0.2838" stop-color="#fe6f00"/><stop offset="0.2882" stop-color="#fc9101"/><stop offset="0.3755" stop-color="#ff3900"/><stop offset="0.4148" stop-color="#ff4d00"/><stop offset="0.4803" stop-color="#fc9201"/><stop offset="0.6507" stop-color="#fcad04"/><stop offset="1.0000" stop-color="#fcae04"/></linearGradient>
<linearGradient id="gc61" x1="0" x2="1" y1="0" y2="0"><stop offset="0.0000" stop-color="#faf400"/><stop offset="0.0611" stop-color="#faf400"/><stop offset="0.0655" stop-color="#08f800"/><stop offset="0.2314" stop-color="#08f800"/><stop offset="0.2358" stop-color="#faf400"/><stop offset="0.2707" stop-color="#faf400"/><stop offset="0.2751" stop-color="#fe6f00"/><stop offset="0.2838" stop-color="#fe6f00"/><stop offset="0.2882" stop-color="#fc9101"/><stop offset="0.3755" stop-color="#ff3f00"/><stop offset="0.4192" stop-color="#ff5700"/><stop offset="0.4847" stop-color="#fc9301"/><stop offset="0.6681" stop-color="#fcad04"/><stop offset="1.0000" stop-color="#fcae04"/></linearGradient>
<linearGradient id="gc62" x1="0" x2="1" y1="0" y2="0"><stop offset="0.0000" stop-color="#faf400"/><stop offset="0.0611" stop-color="#faf400"/><stop offset="0.0655" stop-color="#08f800"/><stop offset="0.2314" stop-color="#08f800"/><stop offset="0.2358" stop-color="#faf400"/><stop offset="0.2707" stop-color="#faf400"/><stop offset="0.2751" stop-color="#fe6f00"/><stop offset="0.2838" stop-color="#fe6f00"/><stop offset="0.2882" stop-color="#fc9101"/><stop offset="0.3755" stop-color="#ff4600"/><stop offset="0.4192" stop-color="#ff5c00"/><stop offset="0.4847" stop-color="#fc9301"/><stop offset="0.6725" stop-color="#fcad04"/><stop offset="1.0000" stop-color="#fcae04"/></linearGradient>
<linearGradient id="gc63" x1="0" x2="1" y1="0" y2="0"><stop offset="0.0000" stop-color="#faf400"/><stop offset="0.0611" stop-color="#faf400"/><stop offset="0.0655" stop-color="#08f800"/><stop offset="0.2314" stop-color="#08f800"/><stop offset="0.2358" stop-color="#faf400"/><stop offset="0.2707" stop-color="#faf400"/><stop offset="0.2751" stop-color="#fe6f00"/><stop offset="0.2838" stop-color="#fe6f00"/><stop offset="0.2882" stop-color="#fc9101"/><stop offset="0.3799" stop-color="#ff4d00"/><stop offset="0.4367" stop-color="#fe7100"/><stop offset="0.4978" stop-color="#fc9801"/><stop offset="0.7118" stop-color="#fcae04"/><stop offset="1.0000" stop-color="#fcae04"/></linearGradient>
<linearGradient id="gc64" x1="0" x2="1" y1="0" y2="0"><stop offset="0.0000" stop-color="#fec301"/><stop offset="0.0611" stop-color="#fec301"/><stop offset="0.0655" stop-color="#fcf000"/><stop offset="0.2314" stop-color="#fcf000"/><stop offset="0.2358" stop-color="#ff6000"/><stop offset="0.2838" stop-color="#ff6000"/><stop offset="0.2882" stop-color="#fc9101"/><stop offset="0.3799" stop-color="#ff5400"/><stop offset="0.4454" stop-color="#fd7b00"/><stop offset="0.5284" stop-color="#fc9f02"/><stop offset="0.8559" stop-color="#fcae04"/><stop offset="1.0000" stop-color="#fcae04"/></linearGradient>
<linearGradient id="gc65" x1="0" x2="1" y1="0" y2="0"><stop offset="0.0000" stop-color="#fec301"/><stop offset="0.0611" stop-color="#fec301"/><stop offset="0.0655" stop-color="#fcf000"/><stop offset="0.2314" stop-color="#fcf000"/><stop offset="0.2358" stop-color="#ff6000"/><stop offset="0.2838" stop-color="#ff6000"/><stop offset="0.2882" stop-color="#fc9001"/><stop offset="0.3799" stop-color="#ff5b00"/><stop offset="0.4541" stop-color="#fd8300"/><stop offset="0.5895" stop-color="#fca903"/><stop offset="1.0000" stop-color="#fcae04"/></linearGradient>
<linearGradient id="gc66" x1="0" x2="1" y1="0" y2="0"><stop offset="0.0000" stop-color="#fec301"/><stop offset="0.0611" stop-color="#fec301"/><stop offset="0.0655" stop-color="#fcf000"/><stop offset="0.2314" stop-color="#fcf000"/><stop offset="0.2358" stop-color="#ff6000"/><stop offset="0.2838" stop-color="#ff6000"/><stop offset="0.2882" stop-color="#fc9000"/><stop offset="0.3843" stop-color="#ff6000"/><stop offset="0.5240" stop-color="#fc9e02"/><stop offset="0.8079" stop-color="#fcae04"/><stop offset="1.0000" stop-color="#fcae04"/></linearGradient>
<linearGradient id="gc67" x1="0" x2="1" y1="0" y2="0"><stop offset="0.0000" stop-color="#fec301"/><stop offset="0.0611" stop-color="#fec301"/><stop offset="0.0655" stop-color="#fcf000"/><stop offset="0.2314" stop-color="#fcf000"/><stop offset="0.2358" stop-color="#ff6000"/><stop offset="0.2838" stop-color="#ff6000"/><stop offset="0.2882" stop-color="#fc9000"/><stop offset="0.3843" stop-color="#ff6400"/><stop offset="0.5371" stop-color="#fca002"/><stop offset="0.8996" stop-color="#fcae04"/><stop offset="1.0000" stop-color="#fcae04"/></linearGradient></defs>
<rect x="1358.0" y="33.50" width="458.0" height="5.60" fill="url(#gc0)"/>
<rect x="1358.0" y="38.50" width="458.0" height="5.60" fill="url(#gc1)"/>
<rect x="1358.0" y="43.50" width="458.0" height="5.60" fill="url(#gc2)"/>
<rect x="1358.0" y="48.50" width="458.0" height="5.60" fill="url(#gc3)"/>
<rect x="1358.0" y="53.50" width="458.0" height="5.60" fill="url(#gc4)"/>
<rect x="1358.0" y="58.50" width="458.0" height="5.60" fill="url(#gc5)"/>
<rect x="1358.0" y="63.50" width="458.0" height="5.60" fill="url(#gc6)"/>
<rect x="1358.0" y="68.50" width="458.0" height="5.60" fill="url(#gc7)"/>
<rect x="1358.0" y="73.50" width="458.0" height="5.60" fill="url(#gc8)"/>
<rect x="1358.0" y="78.50" width="458.0" height="5.60" fill="url(#gc9)"/>
<rect x="1358.0" y="83.50" width="458.0" height="5.60" fill="url(#gc10)"/>
<rect x="1358.0" y="88.50" width="458.0" height="5.60" fill="url(#gc11)"/>
<rect x="1358.0" y="93.50" width="458.0" height="5.60" fill="url(#gc12)"/>
<rect x="1358.0" y="98.50" width="458.0" height="5.60" fill="url(#gc13)"/>
<rect x="1358.0" y="103.50" width="458.0" height="5.60" fill="url(#gc14)"/>
<rect x="1358.0" y="108.50" width="458.0" height="5.60" fill="url(#gc15)"/>
<rect x="1358.0" y="113.50" width="458.0" height="5.60" fill="url(#gc16)"/>
<rect x="1358.0" y="118.50" width="458.0" height="5.60" fill="url(#gc17)"/>
<rect x="1358.0" y="123.50" width="458.0" height="5.60" fill="url(#gc18)"/>
<rect x="1358.0" y="128.50" width="458.0" height="5.60" fill="url(#gc19)"/>
<rect x="1358.0" y="133.50" width="458.0" height="5.60" fill="url(#gc20)"/>
<rect x="1358.0" y="138.50" width="458.0" height="5.60" fill="url(#gc21)"/>
<rect x="1358.0" y="143.50" width="458.0" height="5.60" fill="url(#gc22)"/>
<rect x="1358.0" y="148.50" width="458.0" height="5.60" fill="url(#gc23)"/>
<rect x="1358.0" y="153.50" width="458.0" height="5.60" fill="url(#gc24)"/>
<rect x="1358.0" y="158.50" width="458.0" height="5.60" fill="url(#gc25)"/>
<rect x="1358.0" y="163.50" width="458.0" height="5.60" fill="url(#gc26)"/>
<rect x="1358.0" y="168.50" width="458.0" height="5.60" fill="url(#gc27)"/>
<rect x="1358.0" y="173.50" width="458.0" height="5.60" fill="url(#gc28)"/>
<rect x="1358.0" y="178.50" width="458.0" height="5.60" fill="url(#gc29)"/>
<rect x="1358.0" y="183.50" width="458.0" height="5.60" fill="url(#gc30)"/>
<rect x="1358.0" y="188.50" width="458.0" height="5.60" fill="url(#gc31)"/>
<rect x="1358.0" y="193.50" width="458.0" height="5.60" fill="url(#gc32)"/>
<rect x="1358.0" y="198.50" width="458.0" height="5.60" fill="url(#gc33)"/>
<rect x="1358.0" y="203.50" width="458.0" height="5.60" fill="url(#gc34)"/>
<rect x="1358.0" y="208.50" width="458.0" height="5.60" fill="url(#gc35)"/>
<rect x="1358.0" y="213.50" width="458.0" height="5.60" fill="url(#gc36)"/>
<rect x="1358.0" y="218.50" width="458.0" height="5.60" fill="url(#gc37)"/>
<rect x="1358.0" y="223.50" width="458.0" height="5.60" fill="url(#gc38)"/>
<rect x="1358.0" y="228.50" width="458.0" height="5.60" fill="url(#gc39)"/>
<rect x="1358.0" y="233.50" width="458.0" height="5.60" fill="url(#gc40)"/>
<rect x="1358.0" y="238.50" width="458.0" height="5.60" fill="url(#gc41)"/>
<rect x="1358.0" y="243.50" width="458.0" height="5.60" fill="url(#gc42)"/>
<rect x="1358.0" y="248.50" width="458.0" height="5.60" fill="url(#gc43)"/>
<rect x="1358.0" y="253.50" width="458.0" height="5.60" fill="url(#gc44)"/>
<rect x="1358.0" y="258.50" width="458.0" height="5.60" fill="url(#gc45)"/>
<rect x="1358.0" y="263.50" width="458.0" height="5.60" fill="url(#gc46)"/>
<rect x="1358.0" y="268.50" width="458.0" height="5.60" fill="url(#gc47)"/>
<rect x="1358.0" y="273.50" width="458.0" height="5.60" fill="url(#gc48)"/>
<rect x="1358.0" y="278.50" width="458.0" height="5.60" fill="url(#gc49)"/>
<rect x="1358.0" y="283.50" width="458.0" height="5.60" fill="url(#gc50)"/>
<rect x="1358.0" y="288.50" width="458.0" height="5.60" fill="url(#gc51)"/>
<rect x="1358.0" y="293.50" width="458.0" height="5.60" fill="url(#gc52)"/>
<rect x="1358.0" y="298.50" width="458.0" height="5.60" fill="url(#gc53)"/>
<rect x="1358.0" y="303.50" width="458.0" height="5.60" fill="url(#gc54)"/>
<rect x="1358.0" y="308.50" width="458.0" height="5.60" fill="url(#gc55)"/>
<rect x="1358.0" y="313.50" width="458.0" height="5.60" fill="url(#gc56)"/>
<rect x="1358.0" y="318.50" width="458.0" height="5.60" fill="url(#gc57)"/>
<rect x="1358.0" y="323.50" width="458.0" height="5.60" fill="url(#gc58)"/>
<rect x="1358.0" y="328.50" width="458.0" height="5.60" fill="url(#gc59)"/>
<rect x="1358.0" y="333.50" width="458.0" height="5.60" fill="url(#gc60)"/>
<rect x="1358.0" y="338.50" width="458.0" height="5.60" fill="url(#gc61)"/>
<rect x="1358.0" y="343.50" width="458.0" height="5.60" fill="url(#gc62)"/>
<rect x="1358.0" y="348.50" width="458.0" height="5.60" fill="url(#gc63)"/>
<rect x="1358.0" y="353.50" width="458.0" height="5.60" fill="url(#gc64)"/>
<rect x="1358.0" y="358.50" width="458.0" height="5.60" fill="url(#gc65)"/>
<rect x="1358.0" y="363.50" width="458.0" height="5.60" fill="url(#gc66)"/>
<rect x="1358.0" y="368.50" width="458.0" height="2.60" fill="url(#gc67)"/>
<defs><filter id="cnz" x="0" y="0" width="1" height="1" color-interpolation-filters="sRGB"><feTurbulence type="fractalNoise" baseFrequency="0.22 0.1" numOctaves="2" seed="4"/><feColorMatrix type="matrix" values="0.7 0 0 0 0.15  0.7 0 0 0 0.15  0.7 0 0 0 0.15  0 0 0 0 1"/></filter></defs>
<rect x="1486.0" y="33.5" width="330.0" height="337.0" fill="#000" stroke="none" stroke-width="0" filter="url(#cnz)" style="mix-blend-mode:soft-light"/>
<rect x="1358.0" y="33.5" width="458.0" height="337.0" fill="none" stroke="#484848" stroke-width="3" />
<line x1="1342.6" y1="36.6" x2="1358.0" y2="36.6" stroke="#484848" stroke-width="3" />
<text x="1319.1" y="52.4" font-size="31.5" font-family="'Liberation Sans', Arial, sans-serif" fill="#2e2e2e" stroke="#2e2e2e" stroke-width="0.75" text-anchor="end">10</text>
<text x="1330.0" y="32.4" font-size="21" font-family="'Liberation Sans', Arial, sans-serif" fill="#3a3a3a" stroke="#3a3a3a" stroke-width="0.75" text-anchor="end">3</text>
<line x1="1342.6" y1="114.0" x2="1358.0" y2="114.0" stroke="#484848" stroke-width="3" />
<text x="1319.1" y="129.8" font-size="31.5" font-family="'Liberation Sans', Arial, sans-serif" fill="#2e2e2e" stroke="#2e2e2e" stroke-width="0.75" text-anchor="end">10</text>
<text x="1330.0" y="109.8" font-size="21" font-family="'Liberation Sans', Arial, sans-serif" fill="#3a3a3a" stroke="#3a3a3a" stroke-width="0.75" text-anchor="end">2</text>
<line x1="1342.6" y1="191.4" x2="1358.0" y2="191.4" stroke="#484848" stroke-width="3" />
<text x="1319.1" y="207.2" font-size="31.5" font-family="'Liberation Sans', Arial, sans-serif" fill="#2e2e2e" stroke="#2e2e2e" stroke-width="0.75" text-anchor="end">10</text>
<text x="1330.0" y="187.2" font-size="21" font-family="'Liberation Sans', Arial, sans-serif" fill="#3a3a3a" stroke="#3a3a3a" stroke-width="0.75" text-anchor="end">1</text>
<line x1="1342.6" y1="268.8" x2="1358.0" y2="268.8" stroke="#484848" stroke-width="3" />
<text x="1319.1" y="284.6" font-size="31.5" font-family="'Liberation Sans', Arial, sans-serif" fill="#2e2e2e" stroke="#2e2e2e" stroke-width="0.75" text-anchor="end">10</text>
<text x="1330.0" y="264.6" font-size="21" font-family="'Liberation Sans', Arial, sans-serif" fill="#3a3a3a" stroke="#3a3a3a" stroke-width="0.75" text-anchor="end">0</text>
<line x1="1342.6" y1="346.2" x2="1358.0" y2="346.2" stroke="#484848" stroke-width="3" />
<text x="1312.1" y="362.0" font-size="31.5" font-family="'Liberation Sans', Arial, sans-serif" fill="#2e2e2e" stroke="#2e2e2e" stroke-width="0.75" text-anchor="end">10</text>
<text x="1330.0" y="342.0" font-size="21" font-family="'Liberation Sans', Arial, sans-serif" fill="#3a3a3a" stroke="#3a3a3a" stroke-width="0.75" text-anchor="end">-1</text>
<line x1="1426.0" y1="370.5" x2="1426.0" y2="384.5" stroke="#484848" stroke-width="3" />
<text x="1426.0" y="419.0" font-size="31" font-family="'Liberation Sans', Arial, sans-serif" fill="#2e2e2e" stroke="#2e2e2e" stroke-width="0.75" text-anchor="middle">1.65</text>
<line x1="1533.3" y1="370.5" x2="1533.3" y2="384.5" stroke="#484848" stroke-width="3" />
<text x="1533.3" y="419.0" font-size="31" font-family="'Liberation Sans', Arial, sans-serif" fill="#2e2e2e" stroke="#2e2e2e" stroke-width="0.75" text-anchor="middle">1.60</text>
<line x1="1640.6" y1="370.5" x2="1640.6" y2="384.5" stroke="#484848" stroke-width="3" />
<text x="1640.6" y="419.0" font-size="31" font-family="'Liberation Sans', Arial, sans-serif" fill="#2e2e2e" stroke="#2e2e2e" stroke-width="0.75" text-anchor="middle">1.55</text>
<line x1="1747.9" y1="370.5" x2="1747.9" y2="384.5" stroke="#484848" stroke-width="3" />
<text x="1747.9" y="419.0" font-size="31" font-family="'Liberation Sans', Arial, sans-serif" fill="#2e2e2e" stroke="#2e2e2e" stroke-width="0.75" text-anchor="middle">1.50</text>
<text x="1506.0" y="457.3" font-size="30.2" font-family="'Liberation Sans', Arial, sans-serif" fill="#2a2a2a" stroke="#2a2a2a" stroke-width="0.75">Energy (eV)</text>
<text x="1249.5" y="199.0" font-size="30.2" font-family="'Liberation Sans', Arial, sans-serif" fill="#2a2a2a" stroke="#2a2a2a" stroke-width="0.75" text-anchor="middle" transform="rotate(-90 1249.5 199)">Delay Time (ps)</text>
<text x="1222.9" y="55.9" font-size="50" font-family="'Liberation Serif', 'Times New Roman', serif" fill="#111">(c)</text>
<text x="1655.0" y="341.0" font-size="30.5" font-family="'Liberation Sans', Arial, sans-serif" fill="#301800" stroke="#301800" stroke-width="0.75">WSe<tspan font-size="20" dy="8.5">2</tspan><tspan dy="-8.5">/C</tspan><tspan font-size="20" dy="8.5">60</tspan></text>
<line x1="126.5" y1="811.5" x2="622.5" y2="811.5" stroke="#5a5a5a" stroke-width="2.2" />
<polyline points="134.6,750.6 135.5,747.9 136.7,745.1 138.1,740.4 139.6,736.8 141.0,732.8 142.4,729.0 143.8,726.0 145.3,722.0 146.7,719.1 148.1,715.5 149.4,712.5 150.6,710.0 151.7,707.8 152.9,704.2 154.0,701.7 155.2,699.6 156.4,697.5 157.6,694.5 158.7,691.7 159.7,689.6 160.5,685.3 161.1,683.0 161.7,678.8 162.3,675.1 163.0,671.5 163.8,668.2 164.7,665.2 165.6,660.8 166.6,657.7 167.4,654.5 168.2,651.0 168.9,648.3 169.6,644.9 170.3,642.2 171.0,639.6 171.8,637.6 172.6,634.7 173.4,632.1 174.2,629.9 175.2,627.2 176.3,624.6 177.4,622.6 178.6,620.0 179.8,617.1 181.0,615.1 182.2,612.8 183.3,611.2 184.5,609.0 185.6,606.3 186.7,604.8 187.8,601.2 188.8,598.8 189.8,596.3 190.9,592.6 192.0,590.0 193.2,586.1 194.6,583.2 195.9,579.7 197.2,576.1 198.3,573.8 199.2,571.1 200.0,570.0 200.6,568.8 201.3,567.9 202.0,566.9 202.8,566.8 203.6,566.6 204.4,565.8 205.2,565.9 206.0,565.1 206.8,565.6 207.6,565.3 208.4,565.6 209.2,565.3 210.0,564.7 210.8,565.1 211.5,565.7 212.3,565.4 213.0,566.6 213.7,567.1 214.4,568.1 215.0,569.3 215.6,571.6 216.3,572.6 217.0,574.7 217.8,577.2 218.7,580.4 219.6,582.2 220.5,585.6 221.5,588.8 222.5,592.2 223.6,595.3 224.7,598.6 225.9,601.3 227.0,604.9 228.2,608.4 229.4,612.6 230.6,616.4 231.8,619.2 233.0,623.1 234.2,627.2 235.4,631.4 236.7,635.9 237.9,640.1 239.0,643.7 240.1,647.2 241.1,651.4 242.1,655.0 243.0,658.7 244.0,662.5 244.9,665.4 245.9,668.2 246.8,671.3 247.6,674.3 248.5,676.5 249.3,680.3 250.1,682.9 250.9,685.8 251.7,688.8 252.5,691.9 253.3,696.1 254.1,700.5 254.9,706.1 255.7,710.5 256.5,715.5 257.3,720.5 258.1,725.3 258.9,730.4 259.7,734.8 260.5,739.4 261.3,744.1 262.1,748.5 262.8,753.1 263.6,757.1 264.5,762.4 265.4,766.6 266.4,770.5 267.4,775.1 268.4,779.6 269.5,783.8 270.6,787.6 271.8,792.4 272.9,796.4 274.2,799.5 275.5,803.0 276.9,805.9 278.4,809.1 280.0,812.4 281.5,815.2 283.0,818.4 284.4,819.8 285.8,821.6 287.2,824.4 288.5,825.5 290.0,826.6 291.5,828.8 293.1,828.0 294.7,831.6 296.4,834.9 298.0,835.6 299.7,836.0 301.3,835.1 303.0,836.5 304.7,836.4 306.3,839.7 307.9,839.1 309.4,840.5 310.9,838.7 312.5,838.3 314.0,840.9 315.5,841.6 317.0,840.9 318.6,840.5 320.1,840.3 321.8,839.6 323.5,836.8 325.3,837.4 327.2,836.0 329.1,833.7 331.0,832.9 332.9,833.2 334.9,832.3 336.9,833.3 338.9,833.5 341.0,830.3 343.1,831.4 345.3,830.4 347.5,829.1 349.7,825.4 352.0,823.8 354.4,822.9 356.9,821.9 359.4,821.1 361.8,822.2 364.2,822.8 366.4,821.9 368.4,819.8 370.4,820.1 372.5,820.3 375.0,816.7 377.9,818.6 381.0,819.0 384.3,817.8 387.7,817.1 391.0,815.4 394.2,813.8 397.4,816.3 400.7,814.1 404.2,816.0 408.0,816.6 412.0,813.8 416.0,813.5 420.4,815.6 425.3,814.3 431.0,811.5 437.4,811.0 444.4,810.8 452.1,813.8 460.6,813.1 470.0,809.9 480.2,812.8 491.1,813.3 503.0,811.8 515.9,810.4 530.0,811.2 547.2,809.3 567.4,808.6 587.8,812.7 605.6,811.2 618.0,810.6" fill="none" stroke="#1010f2" stroke-width="6.6" stroke-linejoin="round" stroke-linecap="round" />
<polyline points="134.6,775.8 135.5,772.3 136.7,767.4 138.1,761.6 139.6,755.6 141.0,750.0 142.4,744.9 143.8,739.9 145.2,734.8 146.6,729.5 148.1,723.8 149.6,717.6 151.2,710.9 152.8,704.0 154.4,697.0 156.0,690.0 157.6,683.1 159.1,676.3 160.7,669.3 162.2,662.0 163.6,654.3 165.0,645.9 166.3,637.0 167.6,627.9 168.8,618.8 170.0,610.0 171.1,601.4 172.0,592.7 173.0,584.2 174.0,576.3 175.2,569.4 176.6,563.6 178.3,558.7 180.0,554.4 181.6,550.3 182.9,546.3 184.0,542.3 184.8,538.5 185.6,535.0 186.3,531.5 187.0,528.0 187.7,524.3 188.5,520.3 189.2,516.6 189.9,513.6 190.6,511.6 191.4,510.9 192.1,511.3 192.9,512.3 193.6,513.8 194.4,515.4 195.1,517.2 195.8,519.3 196.5,521.7 197.2,524.3 198.0,527.0 198.8,529.7 199.6,532.4 200.4,535.3 201.2,538.6 202.2,542.4 203.3,546.8 204.4,551.8 205.6,557.1 206.8,562.5 208.0,568.0 209.2,573.5 210.4,579.2 211.5,585.0 212.7,590.8 213.7,596.5 214.7,602.2 215.6,607.9 216.4,613.5 217.2,619.2 218.0,625.0 218.7,630.7 219.4,636.4 220.1,642.1 220.7,648.0 221.5,654.3 222.3,661.1 223.2,668.2 224.1,675.5 225.0,682.9 226.0,690.0 227.0,696.8 228.0,703.5 229.0,710.2 230.1,716.9 231.1,723.8 232.1,730.9 233.1,738.3 234.1,745.6 235.0,752.9 236.0,760.0 237.0,767.1 238.0,774.2 238.9,781.1 239.9,787.5 240.7,793.2 241.4,797.9 242.1,801.9 242.7,805.4 243.3,808.6 244.0,812.0 244.8,815.4 245.7,818.6 246.6,821.8 247.5,824.9 248.5,828.0 249.5,831.1 250.6,834.2 251.7,837.3 252.9,840.2 254.0,843.0 255.2,845.7 256.3,848.3 257.5,850.7 258.7,853.0 260.0,855.0 261.3,856.8 262.7,858.4 264.0,859.7 265.5,860.9 267.0,862.0 268.6,862.9 270.2,863.7 272.0,864.3 273.7,864.8 275.5,865.0 277.3,865.0 279.2,864.8 281.1,864.4 283.1,864.0 285.0,863.5 286.9,863.1 288.8,862.6 290.8,863.6 292.7,861.2 294.8,862.0 296.9,861.0 299.1,857.8 301.4,856.8 303.7,855.9 306.0,854.6 308.3,854.7 310.7,852.5 313.0,852.0 315.4,849.8 317.9,851.5 320.4,848.2 323.0,847.3 325.6,846.4 328.3,846.3 331.0,843.2 333.6,843.7 336.2,841.0 338.9,839.8 341.7,838.4 344.9,835.3 348.5,835.3 352.5,832.8 356.7,830.5 360.9,831.9 365.0,828.3 369.0,828.3 372.9,828.3 376.8,826.8 380.8,825.2 385.0,825.1 389.4,824.3 394.0,824.3 398.7,821.0 403.4,821.9 408.0,820.1 412.3,819.6 416.5,820.9 420.7,819.5 425.1,819.2 430.0,819.4 435.3,819.5 440.9,817.2 446.9,817.3 453.2,816.5 460.0,816.0 467.0,816.3 474.3,815.1 482.1,815.1 490.6,814.7 500.0,816.1 510.8,815.0 522.7,815.4 535.2,815.4 547.8,812.8 560.0,813.7 572.7,815.0 586.1,814.5 599.1,811.8 610.1,811.7 618.0,812.8" fill="none" stroke="#f61010" stroke-width="6.2" stroke-linejoin="round" stroke-linecap="round" />
<rect x="126.5" y="503.2" width="496.0" height="370.6" fill="none" stroke="#3a3a3a" stroke-width="3" />
<line x1="113.0" y1="529.5" x2="126.5" y2="529.5" stroke="#3a3a3a" stroke-width="2.8" />
<text x="106.0" y="541.3" font-size="33" font-family="'Liberation Sans', Arial, sans-serif" fill="#2a2a2a" stroke="#2a2a2a" stroke-width="0.9" text-anchor="end">8</text>
<line x1="113.0" y1="600.0" x2="126.5" y2="600.0" stroke="#3a3a3a" stroke-width="2.8" />
<text x="106.0" y="611.8" font-size="33" font-family="'Liberation Sans', Arial, sans-serif" fill="#2a2a2a" stroke="#2a2a2a" stroke-width="0.9" text-anchor="end">6</text>
<line x1="113.0" y1="670.5" x2="126.5" y2="670.5" stroke="#3a3a3a" stroke-width="2.8" />
<text x="106.0" y="682.3" font-size="33" font-family="'Liberation Sans', Arial, sans-serif" fill="#2a2a2a" stroke="#2a2a2a" stroke-width="0.9" text-anchor="end">4</text>
<line x1="113.0" y1="741.0" x2="126.5" y2="741.0" stroke="#3a3a3a" stroke-width="2.8" />
<text x="106.0" y="752.8" font-size="33" font-family="'Liberation Sans', Arial, sans-serif" fill="#2a2a2a" stroke="#2a2a2a" stroke-width="0.9" text-anchor="end">2</text>
<line x1="113.0" y1="811.5" x2="126.5" y2="811.5" stroke="#3a3a3a" stroke-width="2.8" />
<text x="106.0" y="823.3" font-size="33" font-family="'Liberation Sans', Arial, sans-serif" fill="#2a2a2a" stroke="#2a2a2a" stroke-width="0.9" text-anchor="end">0</text>
<line x1="202.5" y1="873.8" x2="202.5" y2="887.8" stroke="#3a3a3a" stroke-width="2.6" />
<text x="0" y="0" transform="translate(202.5 926.5) scale(0.880 1)" font-size="33" font-family="'Liberation Sans', Arial, sans-serif" fill="#2a2a2a" stroke="#2a2a2a" stroke-width="0.75" text-anchor="middle">1.65</text>
<line x1="316.6" y1="873.8" x2="316.6" y2="887.8" stroke="#3a3a3a" stroke-width="2.6" />
<text x="0" y="0" transform="translate(316.6 926.5) scale(0.880 1)" font-size="33" font-family="'Liberation Sans', Arial, sans-serif" fill="#2a2a2a" stroke="#2a2a2a" stroke-width="0.75" text-anchor="middle">1.60</text>
<line x1="430.7" y1="873.8" x2="430.7" y2="887.8" stroke="#3a3a3a" stroke-width="2.6" />
<text x="0" y="0" transform="translate(430.7 926.5) scale(0.880 1)" font-size="33" font-family="'Liberation Sans', Arial, sans-serif" fill="#2a2a2a" stroke="#2a2a2a" stroke-width="0.75" text-anchor="middle">1.55</text>
<line x1="544.8" y1="873.8" x2="544.8" y2="887.8" stroke="#3a3a3a" stroke-width="2.6" />
<text x="0" y="0" transform="translate(544.8 926.5) scale(0.880 1)" font-size="33" font-family="'Liberation Sans', Arial, sans-serif" fill="#2a2a2a" stroke="#2a2a2a" stroke-width="0.75" text-anchor="middle">1.50</text>
<text x="0" y="0" transform="translate(287.5 967.5) scale(0.940 1)" font-size="35" font-family="'Liberation Sans', Arial, sans-serif" fill="#2a2a2a" stroke="#2a2a2a" stroke-width="0.75">Energy (eV)</text>
<text x="0" y="0" transform="translate(48.0 689.0) rotate(-90) scale(1.210 1)" font-size="27.2" font-family="'Liberation Sans', Arial, sans-serif" fill="#2a2a2a" stroke="#2a2a2a" stroke-width="0.75" text-anchor="middle">ΔT/T (x10<tspan font-size="18" dy="-11">-3</tspan><tspan dy="11">)</tspan></text>
<text x="13.3" y="529.0" font-size="50" font-family="'Liberation Serif', 'Times New Roman', serif" fill="#111">(d)</text>
<line x1="391.0" y1="594.3" x2="449.0" y2="594.3" stroke="#f41414" stroke-width="6.5" />
<line x1="391.0" y1="637.6" x2="449.0" y2="637.6" stroke="#1414f0" stroke-width="6.5" />
<text x="462.5" y="603.5" font-size="33" font-family="'Liberation Sans', Arial, sans-serif" fill="#1e1e1e" stroke="#1e1e1e" stroke-width="0.7">WSe<tspan font-size="21" dy="9">2</tspan></text>
<text x="462.5" y="646.7" font-size="33" font-family="'Liberation Sans', Arial, sans-serif" fill="#1e1e1e" stroke="#1e1e1e" stroke-width="0.7">WSe<tspan font-size="21" dy="9">2</tspan><tspan dy="-9">/C</tspan><tspan font-size="21" dy="6">60</tspan></text>
<rect x="784.7" y="503.2" width="388.8" height="387.7" fill="none" stroke="#606060" stroke-width="2.3" />
<line x1="784.7" y1="890.9" x2="784.7" y2="883.9" stroke="#555" stroke-width="2" />
<line x1="784.7" y1="503.2" x2="784.7" y2="510.2" stroke="#555" stroke-width="2" />
<line x1="823.5" y1="890.9" x2="823.5" y2="887.9" stroke="#555" stroke-width="2" />
<line x1="823.5" y1="503.2" x2="823.5" y2="506.2" stroke="#555" stroke-width="2" />
<line x1="862.3" y1="890.9" x2="862.3" y2="883.9" stroke="#555" stroke-width="2" />
<line x1="862.3" y1="503.2" x2="862.3" y2="510.2" stroke="#555" stroke-width="2" />
<line x1="901.1" y1="890.9" x2="901.1" y2="887.9" stroke="#555" stroke-width="2" />
<line x1="901.1" y1="503.2" x2="901.1" y2="506.2" stroke="#555" stroke-width="2" />
<line x1="939.9" y1="890.9" x2="939.9" y2="883.9" stroke="#555" stroke-width="2" />
<line x1="939.9" y1="503.2" x2="939.9" y2="510.2" stroke="#555" stroke-width="2" />
<line x1="978.7" y1="890.9" x2="978.7" y2="887.9" stroke="#555" stroke-width="2" />
<line x1="978.7" y1="503.2" x2="978.7" y2="506.2" stroke="#555" stroke-width="2" />
<line x1="1017.5" y1="890.9" x2="1017.5" y2="883.9" stroke="#555" stroke-width="2" />
<line x1="1017.5" y1="503.2" x2="1017.5" y2="510.2" stroke="#555" stroke-width="2" />
<line x1="1056.3" y1="890.9" x2="1056.3" y2="887.9" stroke="#555" stroke-width="2" />
<line x1="1056.3" y1="503.2" x2="1056.3" y2="506.2" stroke="#555" stroke-width="2" />
<line x1="1095.1" y1="890.9" x2="1095.1" y2="883.9" stroke="#555" stroke-width="2" />
<line x1="1095.1" y1="503.2" x2="1095.1" y2="510.2" stroke="#555" stroke-width="2" />
<line x1="1133.9" y1="890.9" x2="1133.9" y2="887.9" stroke="#555" stroke-width="2" />
<line x1="1133.9" y1="503.2" x2="1133.9" y2="506.2" stroke="#555" stroke-width="2" />
<line x1="1172.7" y1="890.9" x2="1172.7" y2="883.9" stroke="#555" stroke-width="2" />
<line x1="1172.7" y1="503.2" x2="1172.7" y2="510.2" stroke="#555" stroke-width="2" />
<line x1="784.7" y1="869.4" x2="791.7" y2="869.4" stroke="#555" stroke-width="2" />
<line x1="1173.5" y1="869.4" x2="1166.5" y2="869.4" stroke="#555" stroke-width="2" />
<line x1="784.7" y1="826.2" x2="787.7" y2="826.2" stroke="#555" stroke-width="2" />
<line x1="1173.5" y1="826.2" x2="1170.5" y2="826.2" stroke="#555" stroke-width="2" />
<line x1="784.7" y1="783.0" x2="791.7" y2="783.0" stroke="#555" stroke-width="2" />
<line x1="1173.5" y1="783.0" x2="1166.5" y2="783.0" stroke="#555" stroke-width="2" />
<line x1="784.7" y1="739.8" x2="787.7" y2="739.8" stroke="#555" stroke-width="2" />
<line x1="1173.5" y1="739.8" x2="1170.5" y2="739.8" stroke="#555" stroke-width="2" />
<line x1="784.7" y1="696.6" x2="791.7" y2="696.6" stroke="#555" stroke-width="2" />
<line x1="1173.5" y1="696.6" x2="1166.5" y2="696.6" stroke="#555" stroke-width="2" />
<line x1="784.7" y1="653.4" x2="787.7" y2="653.4" stroke="#555" stroke-width="2" />
<line x1="1173.5" y1="653.4" x2="1170.5" y2="653.4" stroke="#555" stroke-width="2" />
<line x1="784.7" y1="610.2" x2="791.7" y2="610.2" stroke="#555" stroke-width="2" />
<line x1="1173.5" y1="610.2" x2="1166.5" y2="610.2" stroke="#555" stroke-width="2" />
<line x1="784.7" y1="567.0" x2="787.7" y2="567.0" stroke="#555" stroke-width="2" />
<line x1="1173.5" y1="567.0" x2="1170.5" y2="567.0" stroke="#555" stroke-width="2" />
<line x1="784.7" y1="523.8" x2="791.7" y2="523.8" stroke="#555" stroke-width="2" />
<line x1="1173.5" y1="523.8" x2="1166.5" y2="523.8" stroke="#555" stroke-width="2" />
<text x="0" y="0" transform="translate(778.0 877.3) scale(0.970 1)" font-size="21.5" font-family="'Liberation Sans', Arial, sans-serif" fill="#333" stroke="#333" stroke-width="0.75" text-anchor="end">0</text>
<text x="0" y="0" transform="translate(778.0 790.9) scale(0.970 1)" font-size="21.5" font-family="'Liberation Sans', Arial, sans-serif" fill="#333" stroke="#333" stroke-width="0.75" text-anchor="end">2</text>
<text x="0" y="0" transform="translate(778.0 704.5) scale(0.970 1)" font-size="21.5" font-family="'Liberation Sans', Arial, sans-serif" fill="#333" stroke="#333" stroke-width="0.75" text-anchor="end">4</text>
<text x="0" y="0" transform="translate(778.0 618.1) scale(0.970 1)" font-size="21.5" font-family="'Liberation Sans', Arial, sans-serif" fill="#333" stroke="#333" stroke-width="0.75" text-anchor="end">6</text>
<text x="0" y="0" transform="translate(778.0 531.7) scale(0.970 1)" font-size="21.5" font-family="'Liberation Sans', Arial, sans-serif" fill="#333" stroke="#333" stroke-width="0.75" text-anchor="end">8</text>
<text x="0" y="0" transform="translate(784.7 912.2) scale(0.970 1)" font-size="21.5" font-family="'Liberation Sans', Arial, sans-serif" fill="#333" stroke="#333" stroke-width="0.75" text-anchor="middle">-1</text>
<text x="0" y="0" transform="translate(862.3 912.2) scale(0.970 1)" font-size="21.5" font-family="'Liberation Sans', Arial, sans-serif" fill="#333" stroke="#333" stroke-width="0.75" text-anchor="middle">0</text>
<text x="0" y="0" transform="translate(939.9 912.2) scale(0.970 1)" font-size="21.5" font-family="'Liberation Sans', Arial, sans-serif" fill="#333" stroke="#333" stroke-width="0.75" text-anchor="middle">1</text>
<text x="0" y="0" transform="translate(1017.5 912.2) scale(0.970 1)" font-size="21.5" font-family="'Liberation Sans', Arial, sans-serif" fill="#333" stroke="#333" stroke-width="0.75" text-anchor="middle">2</text>
<text x="0" y="0" transform="translate(1095.1 912.2) scale(0.970 1)" font-size="21.5" font-family="'Liberation Sans', Arial, sans-serif" fill="#333" stroke="#333" stroke-width="0.75" text-anchor="middle">3</text>
<text x="0" y="0" transform="translate(1172.7 912.2) scale(0.970 1)" font-size="21.5" font-family="'Liberation Sans', Arial, sans-serif" fill="#333" stroke="#333" stroke-width="0.75" text-anchor="middle">4</text>
<text x="0" y="0" transform="translate(897.5 934.2) scale(0.980 1)" font-size="21.3" font-family="'Liberation Sans', Arial, sans-serif" fill="#333" stroke="#333" stroke-width="0.75">Probe Delay (ps)</text>
<text x="0" y="0" transform="translate(752.0 714.7) rotate(-90) scale(1.050 1)" font-size="21" font-family="'Liberation Sans', Arial, sans-serif" fill="#333" stroke="#333" stroke-width="0.75" text-anchor="middle">Δ<tspan font-style="italic">R</tspan>/<tspan font-style="italic">R</tspan><tspan font-size="13" dy="4">0</tspan><tspan dy="-4"> (10</tspan><tspan font-size="13" dy="-8">-3</tspan><tspan dy="8">)</tspan></text>
<text x="658.3" y="537.1" font-size="50" font-family="'Liberation Serif', 'Times New Roman', serif" fill="#111">(e)</text>
<g fill="#fff" fill-opacity="0.5" stroke="#a044b4" stroke-width="1.6"><rect x="781.8" y="870.2" width="5.8" height="5.8"/><rect x="783.7" y="865.4" width="5.8" height="5.8"/><rect x="785.5" y="863.5" width="5.8" height="5.8"/><rect x="787.4" y="868.1" width="5.8" height="5.8"/><rect x="789.2" y="870.5" width="5.8" height="5.8"/><rect x="791.1" y="866.7" width="5.8" height="5.8"/><rect x="793.0" y="865.1" width="5.8" height="5.8"/><rect x="794.8" y="863.2" width="5.8" height="5.8"/><rect x="796.7" y="870.2" width="5.8" height="5.8"/><rect x="798.6" y="870.4" width="5.8" height="5.8"/><rect x="800.4" y="864.4" width="5.8" height="5.8"/><rect x="802.3" y="865.1" width="5.8" height="5.8"/><rect x="804.1" y="861.9" width="5.8" height="5.8"/><rect x="806.0" y="863.5" width="5.8" height="5.8"/><rect x="807.9" y="866.8" width="5.8" height="5.8"/><rect x="809.7" y="867.3" width="5.8" height="5.8"/><rect x="811.6" y="858.7" width="5.8" height="5.8"/><rect x="813.5" y="867.4" width="5.8" height="5.8"/><rect x="815.3" y="868.9" width="5.8" height="5.8"/><rect x="817.2" y="869.9" width="5.8" height="5.8"/><rect x="819.0" y="866.2" width="5.8" height="5.8"/><rect x="820.9" y="866.1" width="5.8" height="5.8"/><rect x="822.8" y="867.5" width="5.8" height="5.8"/><rect x="824.6" y="866.7" width="5.8" height="5.8"/><rect x="826.5" y="865.7" width="5.8" height="5.8"/><rect x="828.4" y="864.4" width="5.8" height="5.8"/><rect x="830.2" y="863.2" width="5.8" height="5.8"/><rect x="832.1" y="865.9" width="5.8" height="5.8"/><rect x="833.9" y="871.9" width="5.8" height="5.8"/><rect x="835.8" y="864.4" width="5.8" height="5.8"/><rect x="837.7" y="867.5" width="5.8" height="5.8"/><rect x="840.3" y="863.0" width="5.8" height="5.8"/><rect x="842.8" y="859.9" width="5.8" height="5.8"/><rect x="845.4" y="848.7" width="5.8" height="5.8"/><rect x="848.0" y="835.8" width="5.8" height="5.8"/><rect x="850.6" y="814.6" width="5.8" height="5.8"/><rect x="853.2" y="787.4" width="5.8" height="5.8"/><rect x="855.8" y="767.2" width="5.8" height="5.8"/><rect x="858.3" y="736.9" width="5.8" height="5.8"/><rect x="860.9" y="704.2" width="5.8" height="5.8"/><rect x="863.5" y="682.0" width="5.8" height="5.8"/><rect x="866.1" y="655.3" width="5.8" height="5.8"/><rect x="868.7" y="640.5" width="5.8" height="5.8"/><rect x="871.3" y="629.3" width="5.8" height="5.8"/><rect x="873.8" y="615.4" width="5.8" height="5.8"/><rect x="876.4" y="609.8" width="5.8" height="5.8"/><rect x="879.0" y="600.0" width="5.8" height="5.8"/><rect x="881.6" y="599.2" width="5.8" height="5.8"/><rect x="884.2" y="590.5" width="5.8" height="5.8"/><rect x="886.8" y="590.3" width="5.8" height="5.8"/><rect x="889.4" y="582.5" width="5.8" height="5.8"/><rect x="891.9" y="583.1" width="5.8" height="5.8"/><rect x="894.5" y="575.0" width="5.8" height="5.8"/><rect x="897.1" y="577.9" width="5.8" height="5.8"/><rect x="899.7" y="572.3" width="5.8" height="5.8"/><rect x="901.6" y="575.2" width="5.8" height="5.8"/><rect x="903.4" y="568.9" width="5.8" height="5.8"/><rect x="905.3" y="569.0" width="5.8" height="5.8"/><rect x="907.1" y="568.6" width="5.8" height="5.8"/><rect x="909.0" y="569.2" width="5.8" height="5.8"/><rect x="910.9" y="561.9" width="5.8" height="5.8"/><rect x="912.7" y="561.9" width="5.8" height="5.8"/><rect x="914.6" y="557.4" width="5.8" height="5.8"/><rect x="916.5" y="563.2" width="5.8" height="5.8"/><rect x="918.3" y="559.8" width="5.8" height="5.8"/><rect x="920.2" y="559.5" width="5.8" height="5.8"/><rect x="922.0" y="559.8" width="5.8" height="5.8"/><rect x="923.9" y="559.5" width="5.8" height="5.8"/><rect x="925.8" y="559.1" width="5.8" height="5.8"/><rect x="927.6" y="561.1" width="5.8" height="5.8"/><rect x="929.5" y="562.0" width="5.8" height="5.8"/><rect x="931.4" y="559.5" width="5.8" height="5.8"/><rect x="933.2" y="555.8" width="5.8" height="5.8"/><rect x="935.1" y="552.1" width="5.8" height="5.8"/><rect x="936.9" y="553.1" width="5.8" height="5.8"/><rect x="938.8" y="552.1" width="5.8" height="5.8"/><rect x="940.7" y="552.3" width="5.8" height="5.8"/><rect x="942.5" y="552.0" width="5.8" height="5.8"/><rect x="944.4" y="553.1" width="5.8" height="5.8"/><rect x="946.2" y="550.6" width="5.8" height="5.8"/><rect x="948.1" y="546.8" width="5.8" height="5.8"/><rect x="950.0" y="552.9" width="5.8" height="5.8"/><rect x="951.8" y="553.5" width="5.8" height="5.8"/><rect x="953.7" y="544.2" width="5.8" height="5.8"/><rect x="955.6" y="549.1" width="5.8" height="5.8"/><rect x="957.4" y="546.2" width="5.8" height="5.8"/><rect x="959.3" y="545.8" width="5.8" height="5.8"/><rect x="961.1" y="551.7" width="5.8" height="5.8"/><rect x="963.0" y="539.5" width="5.8" height="5.8"/><rect x="964.9" y="541.0" width="5.8" height="5.8"/><rect x="966.7" y="545.5" width="5.8" height="5.8"/><rect x="968.6" y="543.0" width="5.8" height="5.8"/><rect x="970.5" y="544.3" width="5.8" height="5.8"/><rect x="972.3" y="546.9" width="5.8" height="5.8"/><rect x="974.2" y="543.7" width="5.8" height="5.8"/><rect x="976.0" y="542.7" width="5.8" height="5.8"/><rect x="977.9" y="540.9" width="5.8" height="5.8"/><rect x="979.8" y="542.9" width="5.8" height="5.8"/><rect x="981.6" y="545.6" width="5.8" height="5.8"/><rect x="983.5" y="542.0" width="5.8" height="5.8"/><rect x="985.4" y="549.5" width="5.8" height="5.8"/><rect x="987.2" y="545.0" width="5.8" height="5.8"/><rect x="989.1" y="544.3" width="5.8" height="5.8"/><rect x="990.9" y="549.1" width="5.8" height="5.8"/><rect x="992.8" y="554.2" width="5.8" height="5.8"/><rect x="994.7" y="551.6" width="5.8" height="5.8"/><rect x="996.5" y="548.1" width="5.8" height="5.8"/><rect x="998.4" y="547.4" width="5.8" height="5.8"/><rect x="1000.3" y="544.4" width="5.8" height="5.8"/><rect x="1002.1" y="552.9" width="5.8" height="5.8"/><rect x="1004.0" y="549.9" width="5.8" height="5.8"/><rect x="1005.8" y="548.0" width="5.8" height="5.8"/><rect x="1007.7" y="550.7" width="5.8" height="5.8"/><rect x="1009.6" y="557.6" width="5.8" height="5.8"/><rect x="1011.4" y="547.2" width="5.8" height="5.8"/><rect x="1013.3" y="542.1" width="5.8" height="5.8"/><rect x="1015.2" y="546.1" width="5.8" height="5.8"/><rect x="1017.0" y="552.1" width="5.8" height="5.8"/><rect x="1018.9" y="550.3" width="5.8" height="5.8"/><rect x="1020.7" y="548.0" width="5.8" height="5.8"/><rect x="1022.6" y="540.5" width="5.8" height="5.8"/><rect x="1024.5" y="546.3" width="5.8" height="5.8"/><rect x="1026.3" y="547.7" width="5.8" height="5.8"/><rect x="1028.2" y="542.9" width="5.8" height="5.8"/><rect x="1030.1" y="548.0" width="5.8" height="5.8"/><rect x="1031.9" y="541.3" width="5.8" height="5.8"/><rect x="1033.8" y="549.1" width="5.8" height="5.8"/><rect x="1035.6" y="548.0" width="5.8" height="5.8"/><rect x="1037.5" y="543.7" width="5.8" height="5.8"/><rect x="1039.4" y="541.0" width="5.8" height="5.8"/><rect x="1041.2" y="543.1" width="5.8" height="5.8"/><rect x="1043.1" y="543.8" width="5.8" height="5.8"/><rect x="1045.0" y="550.3" width="5.8" height="5.8"/><rect x="1046.8" y="546.3" width="5.8" height="5.8"/><rect x="1048.7" y="545.5" width="5.8" height="5.8"/><rect x="1050.5" y="544.9" width="5.8" height="5.8"/><rect x="1052.4" y="540.8" width="5.8" height="5.8"/><rect x="1054.3" y="543.5" width="5.8" height="5.8"/><rect x="1056.1" y="539.7" width="5.8" height="5.8"/><rect x="1058.0" y="541.8" width="5.8" height="5.8"/><rect x="1059.9" y="543.0" width="5.8" height="5.8"/><rect x="1061.7" y="541.3" width="5.8" height="5.8"/><rect x="1063.6" y="540.2" width="5.8" height="5.8"/><rect x="1065.4" y="538.6" width="5.8" height="5.8"/><rect x="1067.3" y="542.8" width="5.8" height="5.8"/><rect x="1069.2" y="541.8" width="5.8" height="5.8"/><rect x="1071.0" y="545.3" width="5.8" height="5.8"/><rect x="1072.9" y="535.5" width="5.8" height="5.8"/><rect x="1074.8" y="535.8" width="5.8" height="5.8"/><rect x="1076.6" y="540.9" width="5.8" height="5.8"/><rect x="1078.5" y="541.8" width="5.8" height="5.8"/><rect x="1080.3" y="544.1" width="5.8" height="5.8"/><rect x="1082.2" y="539.4" width="5.8" height="5.8"/><rect x="1084.1" y="539.1" width="5.8" height="5.8"/><rect x="1085.9" y="532.6" width="5.8" height="5.8"/><rect x="1087.8" y="538.7" width="5.8" height="5.8"/><rect x="1089.7" y="541.9" width="5.8" height="5.8"/><rect x="1091.5" y="547.1" width="5.8" height="5.8"/><rect x="1093.4" y="534.5" width="5.8" height="5.8"/><rect x="1095.2" y="538.3" width="5.8" height="5.8"/><rect x="1097.1" y="544.0" width="5.8" height="5.8"/><rect x="1099.0" y="538.1" width="5.8" height="5.8"/><rect x="1100.8" y="543.7" width="5.8" height="5.8"/><rect x="1102.7" y="527.1" width="5.8" height="5.8"/><rect x="1104.6" y="534.6" width="5.8" height="5.8"/><rect x="1106.4" y="536.3" width="5.8" height="5.8"/><rect x="1108.3" y="538.6" width="5.8" height="5.8"/><rect x="1110.1" y="545.0" width="5.8" height="5.8"/><rect x="1112.0" y="538.4" width="5.8" height="5.8"/><rect x="1113.9" y="542.9" width="5.8" height="5.8"/><rect x="1115.7" y="535.9" width="5.8" height="5.8"/><rect x="1117.6" y="544.7" width="5.8" height="5.8"/><rect x="1119.5" y="540.6" width="5.8" height="5.8"/><rect x="1121.3" y="533.7" width="5.8" height="5.8"/><rect x="1123.2" y="532.3" width="5.8" height="5.8"/><rect x="1125.0" y="541.3" width="5.8" height="5.8"/><rect x="1126.9" y="542.4" width="5.8" height="5.8"/><rect x="1128.8" y="534.5" width="5.8" height="5.8"/><rect x="1130.6" y="534.6" width="5.8" height="5.8"/><rect x="1132.5" y="540.6" width="5.8" height="5.8"/><rect x="1134.4" y="539.7" width="5.8" height="5.8"/><rect x="1136.2" y="539.8" width="5.8" height="5.8"/><rect x="1138.1" y="541.5" width="5.8" height="5.8"/><rect x="1139.9" y="539.9" width="5.8" height="5.8"/><rect x="1141.8" y="533.7" width="5.8" height="5.8"/><rect x="1143.7" y="535.6" width="5.8" height="5.8"/><rect x="1145.5" y="531.3" width="5.8" height="5.8"/><rect x="1147.4" y="538.3" width="5.8" height="5.8"/><rect x="1149.3" y="538.6" width="5.8" height="5.8"/><rect x="1151.1" y="541.4" width="5.8" height="5.8"/><rect x="1153.0" y="538.7" width="5.8" height="5.8"/><rect x="1154.8" y="542.6" width="5.8" height="5.8"/><rect x="1156.7" y="544.2" width="5.8" height="5.8"/><rect x="1158.6" y="536.3" width="5.8" height="5.8"/><rect x="1160.4" y="534.0" width="5.8" height="5.8"/><rect x="1162.3" y="536.0" width="5.8" height="5.8"/><rect x="1164.2" y="534.5" width="5.8" height="5.8"/><rect x="1166.0" y="538.1" width="5.8" height="5.8"/><rect x="1167.9" y="541.3" width="5.8" height="5.8"/><rect x="1169.7" y="538.8" width="5.8" height="5.8"/></g>
<rect x="946.8" y="656.1" width="207.1" height="222.9" fill="#fff" stroke="#555" stroke-width="2.2" />
<line x1="1046.5" y1="660.0" x2="1046.5" y2="876.0" stroke="#aaa" stroke-width="2" stroke-dasharray="3 5"/>
<text x="985.0" y="677.0" font-size="14" font-family="'Liberation Sans', Arial, sans-serif" fill="#333" stroke="#333" stroke-width="0.35">MoS<tspan font-size="9" dy="4">2</tspan></text>
<text x="1071.6" y="677.0" font-size="14" font-family="'Liberation Sans', Arial, sans-serif" fill="#333" stroke="#333" stroke-width="0.35">MoSe<tspan font-size="9" dy="4">2</tspan></text>
<line x1="979.0" y1="754.3" x2="1046.5" y2="754.3" stroke="#8a8a8a" stroke-width="2.2" />
<line x1="979.0" y1="858.3" x2="1046.5" y2="858.3" stroke="#8a8a8a" stroke-width="2.2" />
<line x1="1046.5" y1="730.0" x2="1114.2" y2="730.0" stroke="#8a8a8a" stroke-width="2.2" />
<line x1="1046.5" y1="815.7" x2="1114.2" y2="815.7" stroke="#8a8a8a" stroke-width="2.2" />
<text x="966.0" y="761.0" font-size="15" font-family="'Liberation Sans', Arial, sans-serif" fill="#333" stroke="#333" stroke-width="0.35" font-style="italic">C</text>
<text x="966.0" y="864.0" font-size="15" font-family="'Liberation Sans', Arial, sans-serif" fill="#333" stroke="#333" stroke-width="0.35" font-style="italic">V</text>
<text x="1120.3" y="735.0" font-size="15" font-family="'Liberation Sans', Arial, sans-serif" fill="#333" stroke="#333" stroke-width="0.35" font-style="italic">C</text>
<text x="1120.3" y="821.0" font-size="15" font-family="'Liberation Sans', Arial, sans-serif" fill="#333" stroke="#333" stroke-width="0.35" font-style="italic">V</text>
<line x1="1002.1" y1="762.0" x2="1002.1" y2="851.0" stroke="#f03030" stroke-width="2.4" />
<polygon points="1002.1,755 998,764 1006.2,764" fill="#f03030"/>
<polygon points="1002.1,857.5 998,848.5 1006.2,848.5" fill="#f03030"/>
<text x="959.0" y="809.5" font-size="13.5" font-family="'Liberation Sans', Arial, sans-serif" fill="#f04040" stroke="#f04040" stroke-width="0.35">Probe</text>
<line x1="1087.4" y1="809.0" x2="1087.4" y2="740.0" stroke="#2020d0" stroke-width="2.4" />
<polygon points="1087.4,733 1083.4,742 1091.4,742" fill="#2020d0"/>
<text x="1093.0" y="776.5" font-size="13.5" font-family="'Liberation Sans', Arial, sans-serif" fill="#3030e0" stroke="#3030e0" stroke-width="0.35">Pump</text>
<line x1="1078.0" y1="732.5" x2="1034.0" y2="746.0" stroke="#5a1a6a" stroke-width="2.6" stroke-dasharray="5 3"/>
<polyline points="1039,740 1029.5,747.5 1040,751" fill="none" stroke="#5a1a6a" stroke-width="2.4"/>
<circle cx="1018" cy="753.5" r="6.8" fill="#000"/>
<circle cx="1087.4" cy="726.7" r="6.8" fill="#000"/>
<circle cx="1087.4" cy="815.7" r="5.6" fill="#fff" stroke="#000" stroke-width="2.6"/>
<rect x="1404.5" y="505.6" width="389.8" height="389.0" fill="none" stroke="#666" stroke-width="2.2" />
<line x1="1447.4" y1="894.6" x2="1447.4" y2="887.6" stroke="#666" stroke-width="2" />
<line x1="1447.4" y1="505.6" x2="1447.4" y2="512.6" stroke="#666" stroke-width="2" />
<line x1="1490.6" y1="894.6" x2="1490.6" y2="890.6" stroke="#666" stroke-width="2" />
<line x1="1490.6" y1="505.6" x2="1490.6" y2="509.6" stroke="#666" stroke-width="2" />
<line x1="1533.7" y1="894.6" x2="1533.7" y2="887.6" stroke="#666" stroke-width="2" />
<line x1="1533.7" y1="505.6" x2="1533.7" y2="512.6" stroke="#666" stroke-width="2" />
<line x1="1576.9" y1="894.6" x2="1576.9" y2="890.6" stroke="#666" stroke-width="2" />
<line x1="1576.9" y1="505.6" x2="1576.9" y2="509.6" stroke="#666" stroke-width="2" />
<line x1="1620.0" y1="894.6" x2="1620.0" y2="887.6" stroke="#666" stroke-width="2" />
<line x1="1620.0" y1="505.6" x2="1620.0" y2="512.6" stroke="#666" stroke-width="2" />
<line x1="1663.2" y1="894.6" x2="1663.2" y2="890.6" stroke="#666" stroke-width="2" />
<line x1="1663.2" y1="505.6" x2="1663.2" y2="509.6" stroke="#666" stroke-width="2" />
<line x1="1706.3" y1="894.6" x2="1706.3" y2="887.6" stroke="#666" stroke-width="2" />
<line x1="1706.3" y1="505.6" x2="1706.3" y2="512.6" stroke="#666" stroke-width="2" />
<line x1="1749.5" y1="894.6" x2="1749.5" y2="890.6" stroke="#666" stroke-width="2" />
<line x1="1749.5" y1="505.6" x2="1749.5" y2="509.6" stroke="#666" stroke-width="2" />
<line x1="1404.5" y1="895.0" x2="1411.5" y2="895.0" stroke="#666" stroke-width="2" />
<line x1="1794.3" y1="895.0" x2="1787.3" y2="895.0" stroke="#666" stroke-width="2" />
<line x1="1404.5" y1="836.4" x2="1408.5" y2="836.4" stroke="#666" stroke-width="2" />
<line x1="1794.3" y1="836.4" x2="1790.3" y2="836.4" stroke="#666" stroke-width="2" />
<line x1="1404.5" y1="802.1" x2="1408.5" y2="802.1" stroke="#666" stroke-width="2" />
<line x1="1794.3" y1="802.1" x2="1790.3" y2="802.1" stroke="#666" stroke-width="2" />
<line x1="1404.5" y1="777.8" x2="1408.5" y2="777.8" stroke="#666" stroke-width="2" />
<line x1="1794.3" y1="777.8" x2="1790.3" y2="777.8" stroke="#666" stroke-width="2" />
<line x1="1404.5" y1="758.9" x2="1408.5" y2="758.9" stroke="#666" stroke-width="2" />
<line x1="1794.3" y1="758.9" x2="1790.3" y2="758.9" stroke="#666" stroke-width="2" />
<line x1="1404.5" y1="743.5" x2="1408.5" y2="743.5" stroke="#666" stroke-width="2" />
<line x1="1794.3" y1="743.5" x2="1790.3" y2="743.5" stroke="#666" stroke-width="2" />
<line x1="1404.5" y1="730.5" x2="1408.5" y2="730.5" stroke="#666" stroke-width="2" />
<line x1="1794.3" y1="730.5" x2="1790.3" y2="730.5" stroke="#666" stroke-width="2" />
<line x1="1404.5" y1="719.2" x2="1408.5" y2="719.2" stroke="#666" stroke-width="2" />
<line x1="1794.3" y1="719.2" x2="1790.3" y2="719.2" stroke="#666" stroke-width="2" />
<line x1="1404.5" y1="709.2" x2="1408.5" y2="709.2" stroke="#666" stroke-width="2" />
<line x1="1794.3" y1="709.2" x2="1790.3" y2="709.2" stroke="#666" stroke-width="2" />
<line x1="1404.5" y1="700.3" x2="1411.5" y2="700.3" stroke="#666" stroke-width="2" />
<line x1="1794.3" y1="700.3" x2="1787.3" y2="700.3" stroke="#666" stroke-width="2" />
<line x1="1404.5" y1="641.7" x2="1408.5" y2="641.7" stroke="#666" stroke-width="2" />
<line x1="1794.3" y1="641.7" x2="1790.3" y2="641.7" stroke="#666" stroke-width="2" />
<line x1="1404.5" y1="607.4" x2="1408.5" y2="607.4" stroke="#666" stroke-width="2" />
<line x1="1794.3" y1="607.4" x2="1790.3" y2="607.4" stroke="#666" stroke-width="2" />
<line x1="1404.5" y1="583.1" x2="1408.5" y2="583.1" stroke="#666" stroke-width="2" />
<line x1="1794.3" y1="583.1" x2="1790.3" y2="583.1" stroke="#666" stroke-width="2" />
<line x1="1404.5" y1="564.2" x2="1408.5" y2="564.2" stroke="#666" stroke-width="2" />
<line x1="1794.3" y1="564.2" x2="1790.3" y2="564.2" stroke="#666" stroke-width="2" />
<line x1="1404.5" y1="548.8" x2="1408.5" y2="548.8" stroke="#666" stroke-width="2" />
<line x1="1794.3" y1="548.8" x2="1790.3" y2="548.8" stroke="#666" stroke-width="2" />
<line x1="1404.5" y1="535.8" x2="1408.5" y2="535.8" stroke="#666" stroke-width="2" />
<line x1="1794.3" y1="535.8" x2="1790.3" y2="535.8" stroke="#666" stroke-width="2" />
<line x1="1404.5" y1="524.5" x2="1408.5" y2="524.5" stroke="#666" stroke-width="2" />
<line x1="1794.3" y1="524.5" x2="1790.3" y2="524.5" stroke="#666" stroke-width="2" />
<line x1="1404.5" y1="514.5" x2="1408.5" y2="514.5" stroke="#666" stroke-width="2" />
<line x1="1794.3" y1="514.5" x2="1790.3" y2="514.5" stroke="#666" stroke-width="2" />
<text x="1389.0" y="514.1" font-size="21.5" font-family="'Liberation Sans', Arial, sans-serif" fill="#3a3a3a" stroke="#3a3a3a" stroke-width="0.75" text-anchor="end">10</text>
<text x="1389.5" y="503.1" font-size="12" font-family="'Liberation Sans', Arial, sans-serif" fill="#555" stroke="#555" stroke-width="0.2">-2</text>
<text x="1389.0" y="708.8" font-size="21.5" font-family="'Liberation Sans', Arial, sans-serif" fill="#3a3a3a" stroke="#3a3a3a" stroke-width="0.75" text-anchor="end">10</text>
<text x="1389.5" y="697.8" font-size="12" font-family="'Liberation Sans', Arial, sans-serif" fill="#555" stroke="#555" stroke-width="0.2">-3</text>
<text x="1389.0" y="903.5" font-size="21.5" font-family="'Liberation Sans', Arial, sans-serif" fill="#3a3a3a" stroke="#3a3a3a" stroke-width="0.75" text-anchor="end">10</text>
<text x="1389.5" y="892.5" font-size="12" font-family="'Liberation Sans', Arial, sans-serif" fill="#555" stroke="#555" stroke-width="0.2">-4</text>
<text x="0" y="0" transform="translate(1447.4 919.2) scale(0.950 1)" font-size="21.5" font-family="'Liberation Sans', Arial, sans-serif" fill="#333" stroke="#333" stroke-width="0.75" text-anchor="middle">0</text>
<text x="0" y="0" transform="translate(1533.7 919.2) scale(0.950 1)" font-size="21.5" font-family="'Liberation Sans', Arial, sans-serif" fill="#333" stroke="#333" stroke-width="0.75" text-anchor="middle">100</text>
<text x="0" y="0" transform="translate(1620.0 919.2) scale(0.950 1)" font-size="21.5" font-family="'Liberation Sans', Arial, sans-serif" fill="#333" stroke="#333" stroke-width="0.75" text-anchor="middle">200</text>
<text x="0" y="0" transform="translate(1706.3 919.2) scale(0.950 1)" font-size="21.5" font-family="'Liberation Sans', Arial, sans-serif" fill="#333" stroke="#333" stroke-width="0.75" text-anchor="middle">300</text>
<text x="0" y="0" transform="translate(1792.6 919.2) scale(0.950 1)" font-size="21.5" font-family="'Liberation Sans', Arial, sans-serif" fill="#333" stroke="#333" stroke-width="0.75" text-anchor="middle">400</text>
<text x="1517.4" y="943.0" font-size="21" font-family="'Liberation Sans', Arial, sans-serif" fill="#333" stroke="#333" stroke-width="0.75">Probe Delay (ps)</text>
<text x="1365.0" y="697.0" font-size="20.5" font-family="'Liberation Sans', Arial, sans-serif" fill="#333" stroke="#333" stroke-width="0.75" text-anchor="middle" transform="rotate(-90 1365 697)">Δ<tspan font-style="italic">R</tspan>/<tspan font-style="italic">R</tspan><tspan font-size="13" dy="4">0</tspan></text>
<text x="1267.5" y="537.1" font-size="50" font-family="'Liberation Serif', 'Times New Roman', serif" fill="#111">(f)</text>
<g fill="#fff" fill-opacity="0.4" stroke="#a050b0" stroke-width="1.6"><rect x="1448.0" y="535.8" width="6" height="6" rx="2"/><rect x="1450.6" y="540.4" width="6" height="6" rx="2"/><rect x="1453.2" y="548.0" width="6" height="6" rx="2"/><rect x="1455.8" y="548.5" width="6" height="6" rx="2"/><rect x="1458.4" y="555.6" width="6" height="6" rx="2"/><rect x="1461.0" y="556.6" width="6" height="6" rx="2"/><rect x="1463.6" y="564.2" width="6" height="6" rx="2"/><rect x="1466.2" y="566.3" width="6" height="6" rx="2"/><rect x="1468.8" y="570.8" width="6" height="6" rx="2"/><rect x="1471.4" y="570.9" width="6" height="6" rx="2"/><rect x="1474.0" y="574.7" width="6" height="6" rx="2"/><rect x="1476.6" y="576.4" width="6" height="6" rx="2"/><rect x="1479.2" y="578.4" width="6" height="6" rx="2"/><rect x="1481.8" y="582.1" width="6" height="6" rx="2"/><rect x="1484.4" y="582.8" width="6" height="6" rx="2"/><rect x="1487.0" y="586.6" width="6" height="6" rx="2"/><rect x="1489.6" y="590.2" width="6" height="6" rx="2"/><rect x="1492.2" y="591.5" width="6" height="6" rx="2"/><rect x="1494.8" y="593.0" width="6" height="6" rx="2"/><rect x="1497.4" y="598.6" width="6" height="6" rx="2"/><rect x="1500.0" y="597.5" width="6" height="6" rx="2"/><rect x="1502.6" y="598.2" width="6" height="6" rx="2"/><rect x="1505.2" y="600.7" width="6" height="6" rx="2"/><rect x="1507.8" y="601.4" width="6" height="6" rx="2"/><rect x="1510.4" y="602.7" width="6" height="6" rx="2"/><rect x="1513.0" y="603.7" width="6" height="6" rx="2"/><rect x="1515.6" y="607.8" width="6" height="6" rx="2"/><rect x="1518.2" y="606.3" width="6" height="6" rx="2"/><rect x="1520.8" y="608.0" width="6" height="6" rx="2"/><rect x="1523.4" y="610.2" width="6" height="6" rx="2"/><rect x="1526.0" y="613.5" width="6" height="6" rx="2"/><rect x="1528.6" y="612.1" width="6" height="6" rx="2"/><rect x="1531.2" y="612.7" width="6" height="6" rx="2"/><rect x="1533.8" y="617.7" width="6" height="6" rx="2"/><rect x="1536.4" y="613.7" width="6" height="6" rx="2"/><rect x="1539.0" y="616.1" width="6" height="6" rx="2"/><rect x="1541.6" y="618.3" width="6" height="6" rx="2"/><rect x="1544.2" y="621.1" width="6" height="6" rx="2"/><rect x="1546.8" y="617.7" width="6" height="6" rx="2"/><rect x="1549.4" y="616.6" width="6" height="6" rx="2"/><rect x="1552.0" y="621.4" width="6" height="6" rx="2"/><rect x="1554.6" y="621.0" width="6" height="6" rx="2"/><rect x="1557.2" y="622.2" width="6" height="6" rx="2"/><rect x="1559.8" y="624.4" width="6" height="6" rx="2"/><rect x="1562.4" y="625.2" width="6" height="6" rx="2"/><rect x="1565.0" y="626.4" width="6" height="6" rx="2"/><rect x="1567.6" y="626.5" width="6" height="6" rx="2"/><rect x="1570.2" y="629.8" width="6" height="6" rx="2"/><rect x="1572.8" y="631.0" width="6" height="6" rx="2"/><rect x="1575.4" y="629.9" width="6" height="6" rx="2"/><rect x="1578.0" y="630.2" width="6" height="6" rx="2"/><rect x="1580.6" y="632.7" width="6" height="6" rx="2"/><rect x="1583.2" y="633.3" width="6" height="6" rx="2"/><rect x="1585.8" y="632.2" width="6" height="6" rx="2"/><rect x="1588.4" y="633.9" width="6" height="6" rx="2"/><rect x="1591.0" y="636.6" width="6" height="6" rx="2"/><rect x="1593.6" y="635.9" width="6" height="6" rx="2"/><rect x="1596.2" y="636.4" width="6" height="6" rx="2"/><rect x="1598.8" y="637.9" width="6" height="6" rx="2"/><rect x="1601.4" y="638.4" width="6" height="6" rx="2"/><rect x="1604.0" y="639.2" width="6" height="6" rx="2"/><rect x="1606.6" y="637.5" width="6" height="6" rx="2"/><rect x="1609.2" y="643.0" width="6" height="6" rx="2"/><rect x="1611.8" y="641.4" width="6" height="6" rx="2"/><rect x="1614.4" y="640.3" width="6" height="6" rx="2"/><rect x="1617.0" y="643.1" width="6" height="6" rx="2"/><rect x="1619.6" y="642.5" width="6" height="6" rx="2"/><rect x="1622.2" y="642.5" width="6" height="6" rx="2"/><rect x="1624.8" y="644.1" width="6" height="6" rx="2"/><rect x="1627.4" y="646.0" width="6" height="6" rx="2"/><rect x="1630.0" y="644.1" width="6" height="6" rx="2"/><rect x="1632.6" y="645.8" width="6" height="6" rx="2"/><rect x="1635.2" y="646.9" width="6" height="6" rx="2"/><rect x="1637.8" y="643.1" width="6" height="6" rx="2"/><rect x="1640.4" y="644.2" width="6" height="6" rx="2"/><rect x="1643.0" y="646.3" width="6" height="6" rx="2"/><rect x="1645.6" y="643.4" width="6" height="6" rx="2"/><rect x="1648.2" y="645.7" width="6" height="6" rx="2"/><rect x="1650.8" y="648.1" width="6" height="6" rx="2"/><rect x="1653.4" y="648.1" width="6" height="6" rx="2"/><rect x="1656.0" y="647.9" width="6" height="6" rx="2"/><rect x="1658.6" y="645.1" width="6" height="6" rx="2"/><rect x="1661.2" y="651.0" width="6" height="6" rx="2"/><rect x="1663.8" y="648.9" width="6" height="6" rx="2"/><rect x="1666.4" y="649.5" width="6" height="6" rx="2"/><rect x="1669.0" y="649.4" width="6" height="6" rx="2"/><rect x="1671.6" y="646.8" width="6" height="6" rx="2"/><rect x="1674.2" y="647.4" width="6" height="6" rx="2"/><rect x="1676.8" y="647.9" width="6" height="6" rx="2"/><rect x="1679.4" y="652.3" width="6" height="6" rx="2"/><rect x="1682.0" y="648.9" width="6" height="6" rx="2"/><rect x="1684.6" y="650.0" width="6" height="6" rx="2"/><rect x="1687.2" y="650.2" width="6" height="6" rx="2"/><rect x="1689.8" y="651.6" width="6" height="6" rx="2"/><rect x="1692.4" y="652.0" width="6" height="6" rx="2"/><rect x="1695.0" y="652.3" width="6" height="6" rx="2"/><rect x="1697.6" y="650.8" width="6" height="6" rx="2"/><rect x="1700.2" y="648.9" width="6" height="6" rx="2"/><rect x="1702.8" y="653.7" width="6" height="6" rx="2"/><rect x="1705.4" y="654.3" width="6" height="6" rx="2"/><rect x="1708.0" y="656.1" width="6" height="6" rx="2"/><rect x="1710.6" y="654.9" width="6" height="6" rx="2"/><rect x="1713.2" y="654.8" width="6" height="6" rx="2"/><rect x="1715.8" y="656.6" width="6" height="6" rx="2"/><rect x="1718.4" y="654.5" width="6" height="6" rx="2"/><rect x="1721.0" y="655.5" width="6" height="6" rx="2"/><rect x="1723.6" y="656.0" width="6" height="6" rx="2"/><rect x="1726.2" y="658.0" width="6" height="6" rx="2"/><rect x="1728.8" y="660.8" width="6" height="6" rx="2"/><rect x="1731.4" y="659.4" width="6" height="6" rx="2"/><rect x="1734.0" y="660.3" width="6" height="6" rx="2"/><rect x="1736.6" y="659.5" width="6" height="6" rx="2"/><rect x="1739.2" y="660.0" width="6" height="6" rx="2"/><rect x="1741.8" y="659.4" width="6" height="6" rx="2"/><rect x="1744.4" y="660.0" width="6" height="6" rx="2"/><rect x="1747.0" y="657.5" width="6" height="6" rx="2"/><rect x="1749.6" y="659.3" width="6" height="6" rx="2"/><rect x="1752.2" y="659.5" width="6" height="6" rx="2"/><rect x="1754.8" y="662.5" width="6" height="6" rx="2"/><rect x="1757.4" y="662.5" width="6" height="6" rx="2"/><rect x="1760.0" y="663.4" width="6" height="6" rx="2"/><rect x="1762.6" y="664.2" width="6" height="6" rx="2"/><rect x="1765.2" y="662.0" width="6" height="6" rx="2"/><rect x="1767.8" y="664.0" width="6" height="6" rx="2"/><rect x="1770.4" y="665.5" width="6" height="6" rx="2"/><rect x="1773.0" y="663.3" width="6" height="6" rx="2"/><rect x="1775.6" y="665.2" width="6" height="6" rx="2"/><rect x="1444.9" y="564.7" width="6" height="6" rx="2"/></g>
<polyline points="1451.3,540.3 1452.6,542.9 1454.4,546.7 1456.4,550.5 1458.3,553.9 1460.3,557.2 1462.5,560.6 1465.0,564.0 1467.7,567.4 1470.6,570.8 1473.8,574.2 1477.3,577.6 1480.8,581.0 1484.2,584.4 1487.6,587.8 1491.0,591.0 1494.3,593.9 1497.7,596.7 1501.0,599.2 1504.4,601.5 1507.8,603.5 1511.2,605.3 1514.6,606.7 1518.0,607.9 1521.4,609.3 1524.8,611.3 1528.1,613.4 1531.5,615.4 1534.8,616.9 1538.1,618.2 1541.7,619.5 1545.7,620.7 1550.0,621.9 1554.8,623.5 1560.1,625.7 1566.0,628.2 1572.1,630.7 1578.6,633.1 1585.5,635.5 1592.4,637.8 1599.0,640.0 1605.6,642.1 1612.7,643.9 1620.4,645.1 1628.5,645.9 1637.0,646.9 1645.9,648.2 1655.2,649.7 1664.5,651.0 1673.7,651.9 1682.8,652.6 1692.0,653.7 1701.1,655.4 1710.3,657.4 1719.4,659.2 1728.5,660.7 1737.7,662.1 1746.8,663.3 1756.7,664.4 1766.7,665.3 1774.2,666.0 1777.9,666.5 1779.3,666.8 1780.0,667.0" fill="none" stroke="#5a2a5a" stroke-width="1.6" stroke-linejoin="round" stroke-linecap="round" stroke-opacity="0.8"/>
<polyline points="1452.3,605.3 1453.1,610.0 1454.3,616.8 1455.4,623.6 1456.4,630.0 1457.3,636.3 1458.4,641.8 1459.7,645.8 1461.1,648.9 1462.5,652.0 1463.8,655.3 1465.2,658.6 1466.5,662.1 1467.9,666.0 1469.2,670.2 1470.6,674.3 1471.9,678.5 1473.2,682.7 1474.7,686.5 1476.7,689.3 1478.8,691.6 1480.8,694.6 1482.3,699.1 1483.5,704.3 1484.8,708.8 1485.9,711.7 1487.1,713.9 1489.0,717.0 1492.1,721.8 1495.9,727.4 1500.0,733.4 1504.3,739.6 1508.8,746.1 1513.4,752.3 1517.9,758.1 1522.4,763.5 1526.9,768.4 1531.4,772.4 1535.8,775.8 1540.3,779.2 1544.8,782.9 1549.3,786.6 1553.8,790.0 1558.3,792.9 1562.7,795.4 1567.2,798.0 1571.2,800.8 1575.2,803.5 1580.7,806.0 1588.7,808.1 1598.1,810.0 1607.6,811.4 1616.6,812.2 1625.5,812.6 1634.5,812.8 1643.5,812.9 1652.4,812.9 1661.4,812.8 1670.4,812.8 1679.3,812.8 1688.3,812.8 1697.3,812.8 1706.2,812.8 1715.2,812.8 1724.8,812.8 1734.3,812.7 1742.1,812.8 1747.3,813.2 1750.6,813.6 1752.8,814.0" fill="none" stroke="#505050" stroke-width="1.4" stroke-linejoin="round" stroke-linecap="round" />
<g fill="none" stroke="#5050e0" stroke-width="1.6"><circle cx="1452.0" cy="605.1" r="3.3"/><circle cx="1455.6" cy="622.4" r="3.3"/><circle cx="1459.2" cy="644.0" r="3.3"/><circle cx="1462.8" cy="651.5" r="3.3"/><circle cx="1466.4" cy="662.0" r="3.3"/><circle cx="1470.0" cy="671.8" r="3.3"/><circle cx="1473.6" cy="683.7" r="3.3"/><circle cx="1477.2" cy="686.6" r="3.3"/><circle cx="1480.8" cy="697.7" r="3.3"/><circle cx="1484.4" cy="709.4" r="3.3"/><circle cx="1488.0" cy="714.5" r="3.3"/><circle cx="1491.6" cy="719.5" r="3.3"/><circle cx="1495.2" cy="726.2" r="3.3"/><circle cx="1498.8" cy="732.6" r="3.3"/><circle cx="1448.3" cy="617.5" r="3.3"/><circle cx="1452.3" cy="605.3" r="3.3"/><circle cx="1510.8" cy="746.9" r="3.3"/><circle cx="1518.8" cy="768.4" r="3.3"/><circle cx="1526.9" cy="773.8" r="3.3"/><circle cx="1533.6" cy="781.9" r="3.3"/><circle cx="1545.7" cy="772.4" r="3.3"/><circle cx="1559.2" cy="777.8" r="3.3"/><circle cx="1551.1" cy="800.7" r="3.3"/><circle cx="1555.1" cy="807.4" r="3.3"/><circle cx="1564.6" cy="800.7" r="3.3"/><circle cx="1571.3" cy="787.2" r="3.3"/><circle cx="1576.7" cy="794.0" r="3.3"/><circle cx="1580.7" cy="804.7" r="3.3"/><circle cx="1584.7" cy="823.5" r="3.3"/><circle cx="1594.1" cy="808.8" r="3.3"/><circle cx="1588.8" cy="788.6" r="3.3"/><circle cx="1592.8" cy="791.3" r="3.3"/><circle cx="1599.5" cy="820.9" r="3.3"/><circle cx="1606.2" cy="791.3" r="3.3"/><circle cx="1610.3" cy="818.2" r="3.3"/><circle cx="1613.0" cy="798.0" r="3.3"/><circle cx="1619.7" cy="795.3" r="3.3"/><circle cx="1627.8" cy="796.7" r="3.3"/><circle cx="1623.7" cy="815.5" r="3.3"/><circle cx="1631.8" cy="820.9" r="3.3"/><circle cx="1634.5" cy="834.3" r="3.3"/><circle cx="1639.9" cy="815.5" r="3.3"/><circle cx="1646.6" cy="816.8" r="3.3"/><circle cx="1656.0" cy="823.5" r="3.3"/><circle cx="1661.4" cy="812.8" r="3.3"/><circle cx="1664.1" cy="819.5" r="3.3"/><circle cx="1666.8" cy="794.0" r="3.3"/><circle cx="1670.8" cy="796.7" r="3.3"/><circle cx="1673.5" cy="837.0" r="3.3"/><circle cx="1677.5" cy="833.0" r="3.3"/><circle cx="1682.9" cy="812.8" r="3.3"/><circle cx="1688.3" cy="815.5" r="3.3"/><circle cx="1696.3" cy="812.8" r="3.3"/><circle cx="1701.7" cy="806.1" r="3.3"/><circle cx="1709.8" cy="823.5" r="3.3"/><circle cx="1713.8" cy="800.7" r="3.3"/><circle cx="1717.9" cy="806.1" r="3.3"/><circle cx="1724.6" cy="796.7" r="3.3"/><circle cx="1727.3" cy="828.9" r="3.3"/><circle cx="1731.3" cy="814.1" r="3.3"/><circle cx="1736.7" cy="819.5" r="3.3"/><circle cx="1739.4" cy="811.4" r="3.3"/><circle cx="1747.4" cy="812.8" r="3.3"/><circle cx="1750.1" cy="835.7" r="3.3"/><circle cx="1754.2" cy="827.6" r="3.3"/><circle cx="1758.2" cy="815.5" r="3.3"/><circle cx="1762.2" cy="820.9" r="3.3"/><circle cx="1764.9" cy="822.2" r="3.3"/><circle cx="1770.3" cy="808.8" r="3.3"/><circle cx="1774.3" cy="812.8" r="3.3"/><circle cx="1778.4" cy="820.9" r="3.3"/><circle cx="1767.6" cy="838.3" r="3.3"/><circle cx="1503.0" cy="738.0" r="3.3"/><circle cx="1506.0" cy="744.0" r="3.3"/><circle cx="1515.0" cy="758.0" r="3.3"/><circle cx="1521.0" cy="764.0" r="3.3"/></g>
<text x="1604.5" y="622.8" font-size="16.5" font-family="'Liberation Sans', Arial, sans-serif" fill="#333" stroke="#333" stroke-width="0.45">MoS<tspan font-size="10" dy="3.5">2</tspan><tspan dy="-3.5">-MoSe</tspan><tspan font-size="10" dy="3.5">2</tspan></text>
<text x="1621.0" y="767.7" font-size="16.5" font-family="'Liberation Sans', Arial, sans-serif" fill="#333" stroke="#333" stroke-width="0.45">MoS<tspan font-size="10" dy="3.5">2</tspan><tspan dy="-3.5"> Monolayer</tspan></text>
</svg></body></html>
